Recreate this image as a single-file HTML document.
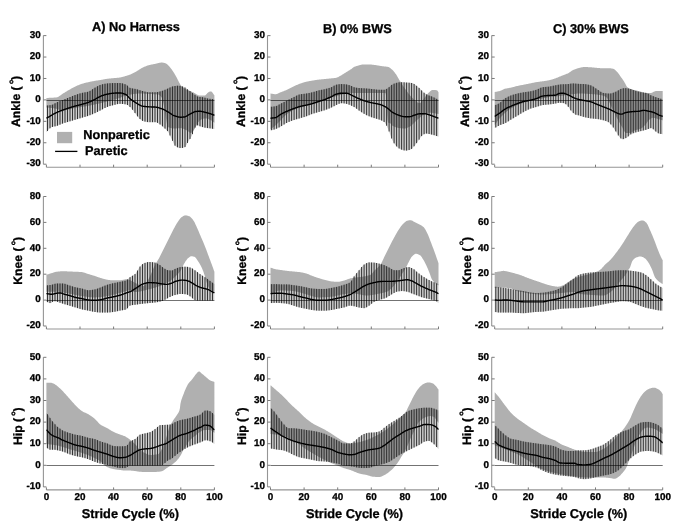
<!DOCTYPE html>
<html><head><meta charset="utf-8"><style>
html,body{margin:0;padding:0;background:#fff;width:685px;height:530px;overflow:hidden}
svg{display:block;will-change:transform}
text{font-family:"Liberation Sans",sans-serif;font-weight:bold;fill:#000;stroke:#000;stroke-width:0.3px;text-rendering:geometricPrecision}
.tl{font-size:9.9px}
.lb{font-size:12.75px}
.yl{font-size:12.2px}
</style></head><body>
<svg width="685" height="530" viewBox="0 0 685 530">
<path d="M46.4,97.98 L46.9,97.96 L47.4,97.93 L47.9,97.9 L48.4,97.88 L48.9,97.86 L49.4,97.84 L49.9,97.81 L50.4,97.79 L50.9,97.77 L51.4,97.75 L51.9,97.72 L52.4,97.7 L52.9,97.67 L53.4,97.64 L53.9,97.61 L54.4,97.57 L54.9,97.53 L55.4,97.48 L55.9,97.43 L56.4,97.38 L56.9,97.31 L57.4,97.18 L57.9,96.98 L58.4,96.74 L58.9,96.45 L59.4,96.12 L59.9,95.77 L60.4,95.4 L60.9,95.02 L61.4,94.64 L61.9,94.27 L62.4,93.92 L62.9,93.6 L63.4,93.3 L63.9,93 L64.4,92.69 L64.9,92.39 L65.4,92.08 L65.9,91.78 L66.4,91.47 L66.9,91.17 L67.4,90.87 L67.9,90.57 L68.4,90.28 L68.9,89.99 L69.4,89.7 L69.9,89.42 L70.4,89.13 L70.9,88.85 L71.4,88.56 L71.9,88.28 L72.4,88 L72.9,87.73 L73.4,87.46 L73.9,87.2 L74.4,86.94 L74.9,86.69 L75.4,86.45 L75.9,86.22 L76.4,86 L76.9,85.77 L77.4,85.55 L77.9,85.34 L78.4,85.13 L78.9,84.92 L79.4,84.73 L79.9,84.53 L80.4,84.35 L80.9,84.17 L81.4,84 L81.9,83.84 L82.4,83.68 L82.9,83.53 L83.4,83.39 L83.9,83.25 L84.4,83.11 L84.9,82.98 L85.4,82.86 L85.9,82.73 L86.4,82.61 L86.9,82.49 L87.4,82.38 L87.9,82.26 L88.4,82.15 L88.9,82.04 L89.4,81.93 L89.9,81.82 L90.4,81.72 L90.9,81.61 L91.4,81.51 L91.9,81.42 L92.4,81.32 L92.9,81.22 L93.4,81.13 L93.9,81.04 L94.4,80.95 L94.9,80.86 L95.4,80.78 L95.9,80.69 L96.4,80.61 L96.9,80.53 L97.4,80.46 L97.9,80.38 L98.4,80.3 L98.9,80.23 L99.4,80.15 L99.9,80.07 L100.4,79.99 L100.9,79.91 L101.4,79.82 L101.9,79.73 L102.4,79.63 L102.9,79.53 L103.4,79.44 L103.9,79.34 L104.4,79.24 L104.9,79.14 L105.4,79.05 L105.9,78.97 L106.4,78.88 L106.9,78.81 L107.4,78.75 L107.9,78.68 L108.4,78.63 L108.9,78.57 L109.4,78.52 L109.9,78.47 L110.4,78.43 L110.9,78.38 L111.4,78.34 L111.9,78.29 L112.4,78.24 L112.9,78.2 L113.4,78.15 L113.9,78.1 L114.4,78.05 L114.9,78.01 L115.4,77.97 L115.9,77.92 L116.4,77.88 L116.9,77.84 L117.4,77.79 L117.9,77.74 L118.4,77.69 L118.9,77.63 L119.4,77.57 L119.9,77.5 L120.4,77.42 L120.9,77.33 L121.4,77.22 L121.9,77.1 L122.4,76.97 L122.9,76.84 L123.4,76.7 L123.9,76.55 L124.4,76.4 L124.9,76.25 L125.4,76.1 L125.9,75.95 L126.4,75.8 L126.9,75.65 L127.4,75.5 L127.9,75.34 L128.4,75.17 L128.9,75 L129.4,74.82 L129.9,74.63 L130.4,74.43 L130.9,74.22 L131.4,74 L131.9,73.76 L132.4,73.52 L132.9,73.27 L133.4,73.01 L133.9,72.75 L134.4,72.48 L134.9,72.21 L135.4,71.94 L135.9,71.67 L136.4,71.39 L136.9,71.11 L137.4,70.81 L137.9,70.5 L138.4,70.18 L138.9,69.86 L139.4,69.54 L139.9,69.22 L140.4,68.91 L140.9,68.6 L141.4,68.3 L141.9,68.02 L142.4,67.76 L142.9,67.52 L143.4,67.28 L143.9,67.05 L144.4,66.82 L144.9,66.6 L145.4,66.38 L145.9,66.17 L146.4,65.97 L146.9,65.78 L147.4,65.6 L147.9,65.43 L148.4,65.27 L148.9,65.13 L149.4,65 L149.9,64.88 L150.4,64.77 L150.9,64.67 L151.4,64.57 L151.9,64.47 L152.4,64.38 L152.9,64.29 L153.4,64.2 L153.9,64.11 L154.4,64.02 L154.9,63.93 L155.4,63.83 L155.9,63.72 L156.4,63.6 L156.9,63.47 L157.4,63.33 L157.9,63.2 L158.4,63.07 L158.9,62.95 L159.4,62.84 L159.9,62.75 L160.4,62.67 L160.9,62.62 L161.4,62.59 L161.9,62.59 L162.4,62.62 L162.9,62.67 L163.4,62.75 L163.9,62.84 L164.4,62.96 L164.9,63.08 L165.4,63.21 L165.9,63.41 L166.4,63.7 L166.9,64.08 L167.4,64.53 L167.9,65.02 L168.4,65.54 L168.9,66.06 L169.4,66.58 L169.9,67.14 L170.4,67.76 L170.9,68.41 L171.4,69.1 L171.9,69.82 L172.4,70.55 L172.9,71.29 L173.4,72.03 L173.9,72.81 L174.4,73.61 L174.9,74.43 L175.4,75.28 L175.9,76.15 L176.4,77.04 L176.9,77.95 L177.4,78.94 L177.9,79.98 L178.4,81.03 L178.9,82.04 L179.4,82.94 L179.9,83.81 L180.4,84.65 L180.9,85.44 L181.4,86.11 L181.9,86.65 L182.4,87.08 L182.9,87.48 L183.4,87.84 L183.9,88.17 L184.4,88.47 L184.9,88.75 L185.4,89.01 L185.9,89.27 L186.4,89.51 L186.9,89.76 L187.4,90 L187.9,90.22 L188.4,90.43 L188.9,90.63 L189.4,90.82 L189.9,91 L190.4,91.18 L190.9,91.37 L191.4,91.55 L191.9,91.74 L192.4,91.94 L192.9,92.15 L193.4,92.37 L193.9,92.63 L194.4,92.92 L194.9,93.24 L195.4,93.57 L195.9,93.9 L196.4,94.23 L196.9,94.53 L197.4,94.81 L197.9,95.06 L198.4,95.25 L198.9,95.38 L199.4,95.45 L199.9,95.45 L200.4,95.45 L200.9,95.45 L201.4,95.45 L201.9,95.45 L202.4,95.45 L202.9,95.45 L203.4,95.45 L203.9,95.45 L204.4,95.45 L204.9,95.41 L205.4,95.17 L205.9,94.75 L206.4,94.23 L206.9,93.66 L207.4,93.11 L207.9,92.63 L208.4,92.3 L208.9,92.05 L209.4,91.82 L209.9,91.61 L210.4,91.47 L210.9,91.41 L211.4,91.53 L211.9,91.92 L212.4,92.5 L212.9,93.2 L213.4,93.95 L213.9,94.7 L214.4,95.36 L214.4,122.75 L213.9,122.38 L213.4,121.99 L212.9,121.6 L212.4,121.22 L211.9,120.86 L211.4,120.54 L210.9,120.26 L210.4,120.01 L209.9,119.75 L209.4,119.49 L208.9,119.24 L208.4,119.01 L207.9,118.81 L207.4,118.64 L206.9,118.5 L206.4,118.42 L205.9,118.39 L205.4,118.4 L204.9,118.45 L204.4,118.52 L203.9,118.62 L203.4,118.74 L202.9,118.88 L202.4,119.04 L201.9,119.22 L201.4,119.41 L200.9,119.62 L200.4,119.88 L199.9,120.28 L199.4,120.79 L198.9,121.39 L198.4,122.06 L197.9,122.77 L197.4,123.52 L196.9,124.28 L196.4,125.23 L195.9,126.34 L195.4,127.47 L194.9,128.49 L194.4,129.27 L193.9,129.97 L193.4,130.66 L192.9,131.32 L192.4,131.9 L191.9,132.39 L191.4,132.73 L190.9,132.91 L190.4,132.89 L189.9,132.7 L189.4,132.37 L188.9,131.97 L188.4,131.52 L187.9,131.08 L187.4,130.69 L186.9,130.39 L186.4,130.15 L185.9,129.9 L185.4,129.65 L184.9,129.4 L184.4,129.17 L183.9,128.94 L183.4,128.74 L182.9,128.55 L182.4,128.4 L181.9,128.27 L181.4,128.18 L180.9,128.13 L180.4,128.12 L179.9,128.13 L179.4,128.16 L178.9,128.19 L178.4,128.23 L177.9,128.27 L177.4,128.31 L176.9,128.36 L176.4,128.4 L175.9,128.44 L175.4,128.47 L174.9,128.49 L174.4,128.5 L173.9,128.5 L173.4,128.47 L172.9,128.44 L172.4,128.38 L171.9,128.3 L171.4,128.21 L170.9,128.09 L170.4,127.95 L169.9,127.79 L169.4,127.61 L168.9,127.41 L168.4,127.18 L167.9,126.92 L167.4,125.87 L166.9,123.64 L166.4,120.67 L165.9,117.38 L165.4,114.19 L164.9,111.5 L164.4,108.82 L163.9,105.97 L163.4,103.21 L162.9,100.77 L162.4,98.91 L161.9,97.85 L161.4,97.14 L160.9,96.5 L160.4,95.94 L159.9,95.46 L159.4,95.08 L158.9,94.78 L158.4,94.58 L157.9,94.49 L157.4,94.43 L156.9,94.38 L156.4,94.33 L155.9,94.29 L155.4,94.25 L154.9,94.22 L154.4,94.2 L153.9,94.17 L153.4,94.15 L152.9,94.13 L152.4,94.11 L151.9,94.09 L151.4,94.07 L150.9,94.05 L150.4,94.02 L149.9,93.99 L149.4,93.97 L148.9,93.93 L148.4,93.9 L147.9,93.87 L147.4,93.84 L146.9,93.8 L146.4,93.77 L145.9,93.74 L145.4,93.71 L144.9,93.67 L144.4,93.64 L143.9,93.62 L143.4,93.59 L142.9,93.57 L142.4,93.55 L141.9,93.53 L141.4,93.52 L140.9,93.51 L140.4,93.5 L139.9,93.5 L139.4,93.51 L138.9,93.52 L138.4,93.54 L137.9,93.57 L137.4,93.6 L136.9,93.64 L136.4,93.68 L135.9,93.73 L135.4,93.79 L134.9,93.85 L134.4,93.91 L133.9,93.98 L133.4,94.06 L132.9,94.13 L132.4,94.21 L131.9,94.3 L131.4,94.38 L130.9,94.47 L130.4,94.56 L129.9,94.65 L129.4,94.74 L128.9,94.83 L128.4,94.93 L127.9,95.02 L127.4,95.13 L126.9,95.25 L126.4,95.39 L125.9,95.54 L125.4,95.7 L124.9,95.87 L124.4,96.06 L123.9,96.25 L123.4,96.44 L122.9,96.64 L122.4,96.84 L121.9,97.05 L121.4,97.25 L120.9,97.45 L120.4,97.65 L119.9,97.84 L119.4,98.03 L118.9,98.21 L118.4,98.37 L117.9,98.53 L117.4,98.68 L116.9,98.83 L116.4,98.98 L115.9,99.13 L115.4,99.27 L114.9,99.41 L114.4,99.55 L113.9,99.69 L113.4,99.83 L112.9,99.97 L112.4,100.1 L111.9,100.23 L111.4,100.37 L110.9,100.5 L110.4,100.63 L109.9,100.76 L109.4,100.89 L108.9,101.02 L108.4,101.14 L107.9,101.27 L107.4,101.4 L106.9,101.52 L106.4,101.65 L105.9,101.77 L105.4,101.9 L104.9,102.03 L104.4,102.15 L103.9,102.28 L103.4,102.4 L102.9,102.53 L102.4,102.65 L101.9,102.78 L101.4,102.9 L100.9,103.03 L100.4,103.15 L99.9,103.27 L99.4,103.4 L98.9,103.52 L98.4,103.64 L97.9,103.76 L97.4,103.88 L96.9,104 L96.4,104.12 L95.9,104.23 L95.4,104.35 L94.9,104.46 L94.4,104.57 L93.9,104.69 L93.4,104.8 L92.9,104.9 L92.4,105.01 L91.9,105.12 L91.4,105.22 L90.9,105.32 L90.4,105.42 L89.9,105.52 L89.4,105.62 L88.9,105.71 L88.4,105.8 L87.9,105.89 L87.4,105.98 L86.9,106.06 L86.4,106.15 L85.9,106.23 L85.4,106.32 L84.9,106.4 L84.4,106.48 L83.9,106.56 L83.4,106.64 L82.9,106.72 L82.4,106.79 L81.9,106.87 L81.4,106.95 L80.9,107.03 L80.4,107.11 L79.9,107.19 L79.4,107.27 L78.9,107.34 L78.4,107.43 L77.9,107.51 L77.4,107.59 L76.9,107.67 L76.4,107.76 L75.9,107.84 L75.4,107.93 L74.9,108.02 L74.4,108.11 L73.9,108.22 L73.4,108.32 L72.9,108.44 L72.4,108.56 L71.9,108.68 L71.4,108.81 L70.9,108.93 L70.4,109.06 L69.9,109.19 L69.4,109.32 L68.9,109.44 L68.4,109.56 L67.9,109.68 L67.4,109.8 L66.9,109.91 L66.4,110.01 L65.9,110.11 L65.4,110.19 L64.9,110.27 L64.4,110.34 L63.9,110.4 L63.4,110.44 L62.9,110.48 L62.4,110.5 L61.9,110.5 L61.4,110.46 L60.9,110.36 L60.4,110.22 L59.9,110.05 L59.4,109.86 L58.9,109.66 L58.4,109.46 L57.9,109.27 L57.4,109.11 L56.9,108.98 L56.4,108.86 L55.9,108.74 L55.4,108.62 L54.9,108.51 L54.4,108.41 L53.9,108.31 L53.4,108.21 L52.9,108.13 L52.4,108.05 L51.9,107.99 L51.4,107.93 L50.9,107.88 L50.4,107.83 L49.9,107.78 L49.4,107.74 L48.9,107.7 L48.4,107.66 L47.9,107.62 L47.4,107.58 L46.9,107.54 L46.4,107.5Z" fill="#b0b0b0"/>
<path d="M46.4,105.57 L46.9,105.52 L47.4,105.47 L47.9,105.42 L48.4,105.36 L48.9,105.31 L49.4,105.26 L49.9,105.2 L50.4,105.13 L50.9,105.06 L51.4,104.97 L51.9,104.86 L52.4,104.69 L52.9,104.48 L53.4,104.23 L53.9,103.95 L54.4,103.66 L54.9,103.36 L55.4,103.06 L55.9,102.78 L56.4,102.52 L56.9,102.29 L57.4,102.08 L57.9,101.87 L58.4,101.66 L58.9,101.46 L59.4,101.26 L59.9,101.07 L60.4,100.88 L60.9,100.68 L61.4,100.49 L61.9,100.3 L62.4,100.1 L62.9,99.91 L63.4,99.71 L63.9,99.51 L64.4,99.31 L64.9,99.11 L65.4,98.91 L65.9,98.71 L66.4,98.51 L66.9,98.31 L67.4,98.11 L67.9,97.91 L68.4,97.71 L68.9,97.51 L69.4,97.31 L69.9,97.1 L70.4,96.9 L70.9,96.69 L71.4,96.48 L71.9,96.27 L72.4,96.06 L72.9,95.86 L73.4,95.65 L73.9,95.46 L74.4,95.26 L74.9,95.08 L75.4,94.9 L75.9,94.72 L76.4,94.56 L76.9,94.39 L77.4,94.23 L77.9,94.06 L78.4,93.91 L78.9,93.75 L79.4,93.61 L79.9,93.46 L80.4,93.32 L80.9,93.19 L81.4,93.06 L81.9,92.93 L82.4,92.82 L82.9,92.72 L83.4,92.62 L83.9,92.54 L84.4,92.45 L84.9,92.37 L85.4,92.29 L85.9,92.2 L86.4,92.11 L86.9,92.01 L87.4,91.89 L87.9,91.76 L88.4,91.62 L88.9,91.43 L89.4,91.2 L89.9,90.93 L90.4,90.63 L90.9,90.31 L91.4,89.98 L91.9,89.63 L92.4,89.28 L92.9,88.93 L93.4,88.59 L93.9,88.27 L94.4,87.97 L94.9,87.7 L95.4,87.41 L95.9,87.13 L96.4,86.84 L96.9,86.56 L97.4,86.27 L97.9,86 L98.4,85.74 L98.9,85.49 L99.4,85.26 L99.9,85.05 L100.4,84.87 L100.9,84.71 L101.4,84.57 L101.9,84.44 L102.4,84.31 L102.9,84.18 L103.4,84.07 L103.9,83.96 L104.4,83.86 L104.9,83.76 L105.4,83.68 L105.9,83.6 L106.4,83.53 L106.9,83.48 L107.4,83.43 L107.9,83.38 L108.4,83.34 L108.9,83.3 L109.4,83.25 L109.9,83.22 L110.4,83.18 L110.9,83.15 L111.4,83.12 L111.9,83.1 L112.4,83.08 L112.9,83.07 L113.4,83.06 L113.9,83.06 L114.4,83.06 L114.9,83.06 L115.4,83.06 L115.9,83.06 L116.4,83.06 L116.9,83.06 L117.4,83.06 L117.9,83.06 L118.4,83.06 L118.9,83.06 L119.4,83.06 L119.9,83.06 L120.4,83.08 L120.9,83.12 L121.4,83.19 L121.9,83.28 L122.4,83.39 L122.9,83.52 L123.4,83.66 L123.9,83.83 L124.4,84 L124.9,84.19 L125.4,84.38 L125.9,84.58 L126.4,84.8 L126.9,85.14 L127.4,85.59 L127.9,86.11 L128.4,86.64 L128.9,87.13 L129.4,87.54 L129.9,87.83 L130.4,88 L130.9,88.14 L131.4,88.26 L131.9,88.36 L132.4,88.45 L132.9,88.54 L133.4,88.62 L133.9,88.69 L134.4,88.77 L134.9,88.85 L135.4,88.94 L135.9,89.04 L136.4,89.15 L136.9,89.28 L137.4,89.42 L137.9,89.57 L138.4,89.73 L138.9,89.89 L139.4,90.05 L139.9,90.22 L140.4,90.38 L140.9,90.54 L141.4,90.69 L141.9,90.83 L142.4,90.97 L142.9,91.09 L143.4,91.22 L143.9,91.35 L144.4,91.49 L144.9,91.62 L145.4,91.75 L145.9,91.87 L146.4,91.98 L146.9,92.08 L147.4,92.17 L147.9,92.23 L148.4,92.27 L148.9,92.29 L149.4,92.29 L149.9,92.29 L150.4,92.29 L150.9,92.29 L151.4,92.29 L151.9,92.29 L152.4,92.29 L152.9,92.29 L153.4,92.29 L153.9,92.29 L154.4,92.29 L154.9,92.29 L155.4,92.29 L155.9,92.27 L156.4,92.23 L156.9,92.17 L157.4,92.09 L157.9,91.99 L158.4,91.88 L158.9,91.76 L159.4,91.63 L159.9,91.5 L160.4,91.36 L160.9,91.22 L161.4,91.09 L161.9,90.95 L162.4,90.8 L162.9,90.63 L163.4,90.44 L163.9,90.25 L164.4,90.04 L164.9,89.83 L165.4,89.61 L165.9,89.39 L166.4,89.17 L166.9,88.94 L167.4,88.73 L167.9,88.52 L168.4,88.3 L168.9,88.07 L169.4,87.82 L169.9,87.57 L170.4,87.32 L170.9,87.08 L171.4,86.86 L171.9,86.66 L172.4,86.5 L172.9,86.37 L173.4,86.27 L173.9,86.18 L174.4,86.09 L174.9,86.01 L175.4,85.93 L175.9,85.86 L176.4,85.81 L176.9,85.76 L177.4,85.73 L177.9,85.72 L178.4,85.72 L178.9,85.75 L179.4,85.8 L179.9,85.87 L180.4,85.95 L180.9,86.05 L181.4,86.16 L181.9,86.28 L182.4,86.41 L182.9,86.54 L183.4,86.69 L183.9,86.89 L184.4,87.14 L184.9,87.43 L185.4,87.76 L185.9,88.1 L186.4,88.47 L186.9,88.84 L187.4,89.21 L187.9,89.57 L188.4,89.92 L188.9,90.28 L189.4,90.65 L189.9,91.03 L190.4,91.42 L190.9,91.81 L191.4,92.2 L191.9,92.59 L192.4,92.96 L192.9,93.32 L193.4,93.67 L193.9,94.03 L194.4,94.41 L194.9,94.79 L195.4,95.17 L195.9,95.53 L196.4,95.87 L196.9,96.17 L197.4,96.42 L197.9,96.61 L198.4,96.74 L198.9,96.83 L199.4,96.9 L199.9,96.97 L200.4,97.02 L200.9,97.07 L201.4,97.11 L201.9,97.16 L202.4,97.22 L202.9,97.28 L203.4,97.36 L203.9,97.45 L204.4,97.57 L204.9,97.71 L205.4,97.85 L205.9,98 L206.4,98.14 L206.9,98.28 L207.4,98.41 L207.9,98.52 L208.4,98.61 L208.9,98.68 L209.4,98.75 L209.9,98.81 L210.4,98.86 L210.9,98.91 L211.4,98.96 L211.9,99 L212.4,99.05 L212.9,99.09 L213.4,99.14 L213.9,99.19 L214.4,99.24 L214.4,129.12 L213.9,129.03 L213.4,128.93 L212.9,128.84 L212.4,128.75 L211.9,128.66 L211.4,128.57 L210.9,128.49 L210.4,128.42 L209.9,128.36 L209.4,128.3 L208.9,128.25 L208.4,128.19 L207.9,128.14 L207.4,128.08 L206.9,128.02 L206.4,127.95 L205.9,127.87 L205.4,127.78 L204.9,127.68 L204.4,127.57 L203.9,127.45 L203.4,127.32 L202.9,127.19 L202.4,127.05 L201.9,126.91 L201.4,126.77 L200.9,126.63 L200.4,126.46 L199.9,126.26 L199.4,126.04 L198.9,125.82 L198.4,125.62 L197.9,125.46 L197.4,125.36 L196.9,125.35 L196.4,125.63 L195.9,126.19 L195.4,126.94 L194.9,127.8 L194.4,128.68 L193.9,129.86 L193.4,131.33 L192.9,132.91 L192.4,134.4 L191.9,135.6 L191.4,136.59 L190.9,137.5 L190.4,138.34 L189.9,139.14 L189.4,139.9 L188.9,140.66 L188.4,141.42 L187.9,142.23 L187.4,143.13 L186.9,144.07 L186.4,145.01 L185.9,145.87 L185.4,146.61 L184.9,147.15 L184.4,147.46 L183.9,147.6 L183.4,147.73 L182.9,147.84 L182.4,147.94 L181.9,148.01 L181.4,148.06 L180.9,148.09 L180.4,148.09 L179.9,148.05 L179.4,147.97 L178.9,147.84 L178.4,147.68 L177.9,147.49 L177.4,147.26 L176.9,147.01 L176.4,146.73 L175.9,146.43 L175.4,146.1 L174.9,145.57 L174.4,144.81 L173.9,143.88 L173.4,142.83 L172.9,141.72 L172.4,140.61 L171.9,139.57 L171.4,138.58 L170.9,137.52 L170.4,136.42 L169.9,135.31 L169.4,134.24 L168.9,133.24 L168.4,132.35 L167.9,131.61 L167.4,130.98 L166.9,130.42 L166.4,129.91 L165.9,129.43 L165.4,128.98 L164.9,128.54 L164.4,128.1 L163.9,127.64 L163.4,127.19 L162.9,126.73 L162.4,126.29 L161.9,125.86 L161.4,125.45 L160.9,125.08 L160.4,124.74 L159.9,124.41 L159.4,124.08 L158.9,123.73 L158.4,123.4 L157.9,123.09 L157.4,122.81 L156.9,122.56 L156.4,122.37 L155.9,122.24 L155.4,122.18 L154.9,122.18 L154.4,122.18 L153.9,122.18 L153.4,122.18 L152.9,122.18 L152.4,122.18 L151.9,122.18 L151.4,122.18 L150.9,122.18 L150.4,122.18 L149.9,122.18 L149.4,122.18 L148.9,122.18 L148.4,122.17 L147.9,122.13 L147.4,122.08 L146.9,122.01 L146.4,121.93 L145.9,121.83 L145.4,121.72 L144.9,121.59 L144.4,121.46 L143.9,121.31 L143.4,121.16 L142.9,121 L142.4,120.82 L141.9,120.57 L141.4,120.25 L140.9,119.87 L140.4,119.43 L139.9,118.95 L139.4,118.44 L138.9,117.91 L138.4,117.37 L137.9,116.83 L137.4,116.28 L136.9,115.69 L136.4,115.03 L135.9,114.34 L135.4,113.63 L134.9,112.92 L134.4,112.23 L133.9,111.57 L133.4,110.94 L132.9,110.3 L132.4,109.66 L131.9,109.04 L131.4,108.44 L130.9,107.88 L130.4,107.37 L129.9,106.92 L129.4,106.49 L128.9,106.07 L128.4,105.66 L127.9,105.28 L127.4,104.96 L126.9,104.7 L126.4,104.52 L125.9,104.43 L125.4,104.34 L124.9,104.26 L124.4,104.19 L123.9,104.12 L123.4,104.06 L122.9,104 L122.4,103.96 L121.9,103.92 L121.4,103.89 L120.9,103.87 L120.4,103.85 L119.9,103.85 L119.4,103.86 L118.9,103.9 L118.4,103.96 L117.9,104.04 L117.4,104.14 L116.9,104.25 L116.4,104.37 L115.9,104.5 L115.4,104.63 L114.9,104.77 L114.4,104.9 L113.9,105.03 L113.4,105.15 L112.9,105.27 L112.4,105.4 L111.9,105.53 L111.4,105.67 L110.9,105.81 L110.4,105.95 L109.9,106.1 L109.4,106.26 L108.9,106.42 L108.4,106.59 L107.9,106.77 L107.4,106.95 L106.9,107.14 L106.4,107.35 L105.9,107.57 L105.4,107.81 L104.9,108.06 L104.4,108.32 L103.9,108.58 L103.4,108.85 L102.9,109.12 L102.4,109.39 L101.9,109.66 L101.4,109.92 L100.9,110.18 L100.4,110.43 L99.9,110.68 L99.4,110.94 L98.9,111.2 L98.4,111.46 L97.9,111.72 L97.4,111.97 L96.9,112.23 L96.4,112.48 L95.9,112.72 L95.4,112.96 L94.9,113.19 L94.4,113.41 L93.9,113.63 L93.4,113.85 L92.9,114.06 L92.4,114.27 L91.9,114.48 L91.4,114.69 L90.9,114.88 L90.4,115.08 L89.9,115.27 L89.4,115.46 L88.9,115.64 L88.4,115.81 L87.9,115.98 L87.4,116.15 L86.9,116.3 L86.4,116.46 L85.9,116.61 L85.4,116.75 L84.9,116.9 L84.4,117.04 L83.9,117.19 L83.4,117.33 L82.9,117.47 L82.4,117.62 L81.9,117.77 L81.4,117.92 L80.9,118.07 L80.4,118.22 L79.9,118.37 L79.4,118.52 L78.9,118.67 L78.4,118.82 L77.9,118.97 L77.4,119.12 L76.9,119.27 L76.4,119.42 L75.9,119.57 L75.4,119.72 L74.9,119.87 L74.4,120.02 L73.9,120.17 L73.4,120.32 L72.9,120.47 L72.4,120.62 L71.9,120.77 L71.4,120.92 L70.9,121.07 L70.4,121.22 L69.9,121.37 L69.4,121.52 L68.9,121.66 L68.4,121.81 L67.9,121.95 L67.4,122.1 L66.9,122.24 L66.4,122.38 L65.9,122.53 L65.4,122.68 L64.9,122.82 L64.4,122.98 L63.9,123.14 L63.4,123.3 L62.9,123.47 L62.4,123.65 L61.9,123.84 L61.4,124.05 L60.9,124.26 L60.4,124.48 L59.9,124.7 L59.4,124.92 L58.9,125.13 L58.4,125.34 L57.9,125.54 L57.4,125.72 L56.9,125.89 L56.4,126.04 L55.9,126.17 L55.4,126.29 L54.9,126.39 L54.4,126.49 L53.9,126.59 L53.4,126.7 L52.9,126.82 L52.4,126.95 L51.9,127.12 L51.4,127.32 L50.9,127.6 L50.4,127.95 L49.9,128.37 L49.4,128.81 L48.9,129.29 L48.4,129.84 L47.9,130.47 L47.4,131.14 L46.9,131.81 L46.4,132.29Z" fill="#000" fill-opacity="0.2"/>
<path d="M47.5,105.46V131.01M50,105.19V128.28M52.5,104.65V126.93M55,103.3V126.37M57.5,102.04V125.69M60,101.03V124.65M62.5,100.06V123.61M65,99.07V122.79M67.5,98.07V122.07M70,97.06V121.34M72.5,96.02V120.59M75,95.04V119.84M77.5,94.19V119.09M80,93.43V118.34M82.5,92.8V117.59M85,92.36V116.87M87.5,91.87V116.11M90,90.87V115.23M92.5,89.21V114.23M95,87.64V113.14M97.5,86.22V111.92M100,85.02V110.63M102.5,84.28V109.34M105,83.75V108.01M107.5,83.42V106.91M110,83.21V106.07M112.5,83.08V105.38M115,83.06V104.74M117.5,83.06V104.12M120,83.06V103.85M122.5,83.41V103.97M125,84.22V104.27M127.5,85.69V105.02M130,87.87V107.01M132.5,88.47V109.79M135,88.87V113.06M137.5,89.45V116.4M140,90.25V119.05M142.5,90.99V120.86M145,91.65V121.62M147.5,92.18V122.09M150,92.29V122.18M152.5,92.29V122.18M155,92.29V122.18M157.5,92.07V122.86M160,91.47V124.48M162.5,90.76V126.37M165,89.78V128.62M167.5,88.69V131.1M170,87.52V135.53M172.5,86.47V140.83M175,85.99V145.7M177.5,85.73V147.31M180,85.88V148.06M182.5,86.44V147.92M185,87.49V147.06M187.5,89.29V142.94M190,91.11V138.98M192.5,93.04V134.12M195,94.87V127.63M197.5,96.46V125.38M200,96.98V126.31M202.5,97.23V127.08M205,97.73V127.7M207.5,98.44V128.09M210,98.82V128.37M212.5,99.06V128.76" stroke="#333333" stroke-width="1" fill="none"/>
<line x1="46.4" y1="100.5" x2="214.4" y2="100.5" stroke="#000" stroke-opacity="0.55" stroke-width="1"/>
<path d="M46.4,118.21 L46.9,118 L47.4,117.71 L47.9,117.42 L48.4,117.13 L48.9,116.83 L49.4,116.53 L49.9,116.24 L50.4,115.94 L50.9,115.64 L51.4,115.35 L51.9,115.05 L52.4,114.76 L52.9,114.48 L53.4,114.19 L53.9,113.92 L54.4,113.65 L54.9,113.38 L55.4,113.12 L55.9,112.87 L56.4,112.63 L56.9,112.4 L57.4,112.18 L57.9,111.96 L58.4,111.75 L58.9,111.54 L59.4,111.34 L59.9,111.14 L60.4,110.95 L60.9,110.76 L61.4,110.57 L61.9,110.39 L62.4,110.2 L62.9,110.02 L63.4,109.83 L63.9,109.65 L64.4,109.48 L64.9,109.3 L65.4,109.13 L65.9,108.96 L66.4,108.79 L66.9,108.62 L67.4,108.45 L67.9,108.29 L68.4,108.13 L68.9,107.97 L69.4,107.81 L69.9,107.65 L70.4,107.49 L70.9,107.34 L71.4,107.18 L71.9,107.03 L72.4,106.88 L72.9,106.73 L73.4,106.58 L73.9,106.43 L74.4,106.29 L74.9,106.15 L75.4,106.01 L75.9,105.87 L76.4,105.73 L76.9,105.6 L77.4,105.47 L77.9,105.34 L78.4,105.22 L78.9,105.09 L79.4,104.97 L79.9,104.84 L80.4,104.71 L80.9,104.58 L81.4,104.45 L81.9,104.31 L82.4,104.17 L82.9,104.04 L83.4,103.9 L83.9,103.76 L84.4,103.62 L84.9,103.48 L85.4,103.33 L85.9,103.19 L86.4,103.03 L86.9,102.87 L87.4,102.71 L87.9,102.54 L88.4,102.36 L88.9,102.17 L89.4,101.96 L89.9,101.75 L90.4,101.53 L90.9,101.3 L91.4,101.07 L91.9,100.83 L92.4,100.59 L92.9,100.34 L93.4,100.09 L93.9,99.84 L94.4,99.59 L94.9,99.34 L95.4,99.07 L95.9,98.79 L96.4,98.5 L96.9,98.21 L97.4,97.91 L97.9,97.62 L98.4,97.33 L98.9,97.05 L99.4,96.78 L99.9,96.53 L100.4,96.3 L100.9,96.09 L101.4,95.9 L101.9,95.72 L102.4,95.54 L102.9,95.37 L103.4,95.21 L103.9,95.05 L104.4,94.9 L104.9,94.76 L105.4,94.62 L105.9,94.49 L106.4,94.37 L106.9,94.26 L107.4,94.15 L107.9,94.05 L108.4,93.95 L108.9,93.85 L109.4,93.75 L109.9,93.66 L110.4,93.57 L110.9,93.49 L111.4,93.41 L111.9,93.34 L112.4,93.28 L112.9,93.23 L113.4,93.19 L113.9,93.16 L114.4,93.12 L114.9,93.09 L115.4,93.07 L115.9,93.04 L116.4,93.01 L116.9,92.99 L117.4,92.97 L117.9,92.96 L118.4,92.94 L118.9,92.93 L119.4,92.93 L119.9,92.92 L120.4,92.94 L120.9,92.99 L121.4,93.07 L121.9,93.17 L122.4,93.3 L122.9,93.44 L123.4,93.61 L123.9,93.8 L124.4,94 L124.9,94.21 L125.4,94.44 L125.9,94.67 L126.4,94.93 L126.9,95.29 L127.4,95.77 L127.9,96.31 L128.4,96.9 L128.9,97.49 L129.4,98.04 L129.9,98.53 L130.4,98.94 L130.9,99.35 L131.4,99.74 L131.9,100.12 L132.4,100.48 L132.9,100.84 L133.4,101.19 L133.9,101.53 L134.4,101.86 L134.9,102.18 L135.4,102.49 L135.9,102.79 L136.4,103.08 L136.9,103.38 L137.4,103.69 L137.9,104 L138.4,104.31 L138.9,104.61 L139.4,104.9 L139.9,105.17 L140.4,105.43 L140.9,105.66 L141.4,105.86 L141.9,106.02 L142.4,106.15 L142.9,106.24 L143.4,106.32 L143.9,106.39 L144.4,106.45 L144.9,106.51 L145.4,106.56 L145.9,106.61 L146.4,106.65 L146.9,106.69 L147.4,106.73 L147.9,106.76 L148.4,106.8 L148.9,106.83 L149.4,106.85 L149.9,106.88 L150.4,106.89 L150.9,106.91 L151.4,106.93 L151.9,106.94 L152.4,106.95 L152.9,106.97 L153.4,106.99 L153.9,107.01 L154.4,107.03 L154.9,107.06 L155.4,107.09 L155.9,107.14 L156.4,107.21 L156.9,107.31 L157.4,107.41 L157.9,107.54 L158.4,107.67 L158.9,107.82 L159.4,107.98 L159.9,108.14 L160.4,108.31 L160.9,108.48 L161.4,108.65 L161.9,108.83 L162.4,109.02 L162.9,109.23 L163.4,109.46 L163.9,109.7 L164.4,109.95 L164.9,110.21 L165.4,110.48 L165.9,110.75 L166.4,111.03 L166.9,111.31 L167.4,111.59 L167.9,111.86 L168.4,112.15 L168.9,112.46 L169.4,112.78 L169.9,113.12 L170.4,113.46 L170.9,113.8 L171.4,114.14 L171.9,114.47 L172.4,114.78 L172.9,115.06 L173.4,115.32 L173.9,115.54 L174.4,115.73 L174.9,115.9 L175.4,116.07 L175.9,116.24 L176.4,116.4 L176.9,116.56 L177.4,116.7 L177.9,116.83 L178.4,116.95 L178.9,117.04 L179.4,117.12 L179.9,117.17 L180.4,117.19 L180.9,117.19 L181.4,117.18 L181.9,117.16 L182.4,117.13 L182.9,117.09 L183.4,117.05 L183.9,117 L184.4,116.94 L184.9,116.84 L185.4,116.68 L185.9,116.47 L186.4,116.21 L186.9,115.92 L187.4,115.61 L187.9,115.3 L188.4,114.99 L188.9,114.7 L189.4,114.43 L189.9,114.19 L190.4,113.92 L190.9,113.64 L191.4,113.35 L191.9,113.06 L192.4,112.78 L192.9,112.51 L193.4,112.26 L193.9,112.03 L194.4,111.84 L194.9,111.68 L195.4,111.56 L195.9,111.49 L196.4,111.44 L196.9,111.39 L197.4,111.35 L197.9,111.31 L198.4,111.28 L198.9,111.26 L199.4,111.26 L199.9,111.26 L200.4,111.29 L200.9,111.35 L201.4,111.42 L201.9,111.52 L202.4,111.62 L202.9,111.74 L203.4,111.87 L203.9,112 L204.4,112.13 L204.9,112.27 L205.4,112.4 L205.9,112.52 L206.4,112.65 L206.9,112.77 L207.4,112.9 L207.9,113.04 L208.4,113.18 L208.9,113.32 L209.4,113.47 L209.9,113.63 L210.4,113.79 L210.9,113.95 L211.4,114.13 L211.9,114.3 L212.4,114.49 L212.9,114.7 L213.4,114.93 L213.9,115.16 L214.4,115.39" stroke="#000" stroke-width="1.4" fill="none" stroke-linejoin="round"/>
<path d="M43.4,35.61V164.19" stroke="#959595" stroke-width="1.1" fill="none"/>
<path d="M43.4,35.61h3M43.4,57.04h3M43.4,78.47h3M43.4,99.9h3M43.4,121.33h3M43.4,142.76h3M43.4,164.19h3" stroke="#7a7a7a" stroke-width="1" fill="none"/>
<path d="M46.4,167.19H214.4" stroke="#959595" stroke-width="1.1" fill="none"/>
<path d="M46.4,167.19v-2.5M80,167.19v-2.5M113.6,167.19v-2.5M147.2,167.19v-2.5M180.8,167.19v-2.5M214.4,167.19v-2.5" stroke="#7a7a7a" stroke-width="1" fill="none"/>
<text x="40.8" y="37.81" class="tl" text-anchor="end">30</text>
<text x="40.8" y="59.24" class="tl" text-anchor="end">20</text>
<text x="40.8" y="80.67" class="tl" text-anchor="end">10</text>
<text x="40.8" y="102.1" class="tl" text-anchor="end">0</text>
<text x="40.8" y="123.53" class="tl" text-anchor="end">-10</text>
<text x="40.8" y="144.96" class="tl" text-anchor="end">-20</text>
<text x="40.8" y="166.39" class="tl" text-anchor="end">-30</text>
<text transform="translate(20.3,127) rotate(-90)" class="yl">Ankle (<tspan dx="2.0" dy="-2.2">&#176;</tspan><tspan dx="-0.5" dy="2.2">)</tspan></text>
<path d="M270.5,93.56 L271,93.59 L271.5,93.66 L272,93.75 L272.5,93.83 L273,93.92 L273.5,94 L274,94.07 L274.5,94.13 L275,94.17 L275.5,94.19 L276,94.16 L276.5,94.08 L277,93.94 L277.5,93.75 L278,93.54 L278.5,93.3 L279,93.05 L279.5,92.81 L280,92.57 L280.5,92.35 L281,92.16 L281.5,91.96 L282,91.77 L282.5,91.58 L283,91.39 L283.5,91.19 L284,91 L284.5,90.8 L285,90.6 L285.5,90.39 L286,90.18 L286.5,89.97 L287,89.75 L287.5,89.52 L288,89.29 L288.5,89.04 L289,88.79 L289.5,88.53 L290,88.27 L290.5,88.01 L291,87.75 L291.5,87.49 L292,87.24 L292.5,86.99 L293,86.74 L293.5,86.51 L294,86.27 L294.5,86.04 L295,85.8 L295.5,85.57 L296,85.34 L296.5,85.12 L297,84.89 L297.5,84.68 L298,84.46 L298.5,84.26 L299,84.06 L299.5,83.87 L300,83.68 L300.5,83.5 L301,83.32 L301.5,83.14 L302,82.96 L302.5,82.79 L303,82.63 L303.5,82.47 L304,82.32 L304.5,82.17 L305,82.03 L305.5,81.91 L306,81.79 L306.5,81.68 L307,81.57 L307.5,81.47 L308,81.38 L308.5,81.29 L309,81.2 L309.5,81.12 L310,81.03 L310.5,80.95 L311,80.87 L311.5,80.79 L312,80.71 L312.5,80.62 L313,80.54 L313.5,80.45 L314,80.36 L314.5,80.28 L315,80.19 L315.5,80.11 L316,80.03 L316.5,79.95 L317,79.87 L317.5,79.8 L318,79.73 L318.5,79.66 L319,79.6 L319.5,79.54 L320,79.49 L320.5,79.44 L321,79.39 L321.5,79.34 L322,79.29 L322.5,79.25 L323,79.2 L323.5,79.15 L324,79.11 L324.5,79.06 L325,79.01 L325.5,78.96 L326,78.91 L326.5,78.86 L327,78.82 L327.5,78.77 L328,78.72 L328.5,78.67 L329,78.62 L329.5,78.57 L330,78.52 L330.5,78.47 L331,78.41 L331.5,78.36 L332,78.31 L332.5,78.26 L333,78.21 L333.5,78.16 L334,78.1 L334.5,78.04 L335,77.97 L335.5,77.9 L336,77.81 L336.5,77.71 L337,77.56 L337.5,77.37 L338,77.15 L338.5,76.89 L339,76.62 L339.5,76.32 L340,76.02 L340.5,75.72 L341,75.43 L341.5,75.14 L342,74.86 L342.5,74.56 L343,74.25 L343.5,73.93 L344,73.61 L344.5,73.29 L345,72.97 L345.5,72.64 L346,72.33 L346.5,72.01 L347,71.7 L347.5,71.4 L348,71.1 L348.5,70.79 L349,70.49 L349.5,70.18 L350,69.87 L350.5,69.55 L351,69.22 L351.5,68.89 L352,68.5 L352.5,68.09 L353,67.67 L353.5,67.3 L354,67.01 L354.5,66.79 L355,66.59 L355.5,66.42 L356,66.26 L356.5,66.11 L357,65.97 L357.5,65.83 L358,65.68 L358.5,65.53 L359,65.36 L359.5,65.2 L360,65.03 L360.5,64.88 L361,64.74 L361.5,64.63 L362,64.54 L362.5,64.49 L363,64.48 L363.5,64.48 L364,64.48 L364.5,64.48 L365,64.48 L365.5,64.48 L366,64.48 L366.5,64.48 L367,64.48 L367.5,64.48 L368,64.48 L368.5,64.48 L369,64.48 L369.5,64.48 L370,64.5 L370.5,64.53 L371,64.56 L371.5,64.61 L372,64.66 L372.5,64.72 L373,64.78 L373.5,64.85 L374,64.92 L374.5,64.98 L375,65.05 L375.5,65.11 L376,65.18 L376.5,65.25 L377,65.32 L377.5,65.4 L378,65.49 L378.5,65.57 L379,65.66 L379.5,65.74 L380,65.83 L380.5,65.91 L381,66 L381.5,66.08 L382,66.15 L382.5,66.22 L383,66.28 L383.5,66.33 L384,66.39 L384.5,66.44 L385,66.49 L385.5,66.55 L386,66.62 L386.5,66.69 L387,66.77 L387.5,66.86 L388,66.97 L388.5,67.12 L389,67.33 L389.5,67.62 L390,67.96 L390.5,68.33 L391,68.74 L391.5,69.16 L392,69.59 L392.5,70.05 L393,70.55 L393.5,71.11 L394,71.7 L394.5,72.32 L395,72.97 L395.5,73.64 L396,74.34 L396.5,75.1 L397,75.93 L397.5,76.79 L398,77.67 L398.5,78.55 L399,79.41 L399.5,80.24 L400,81.03 L400.5,81.82 L401,82.61 L401.5,83.4 L402,84.18 L402.5,84.95 L403,85.72 L403.5,86.47 L404,87.22 L404.5,87.95 L405,88.67 L405.5,89.37 L406,90.06 L406.5,90.73 L407,91.4 L407.5,92.07 L408,92.73 L408.5,93.39 L409,94.04 L409.5,94.67 L410,95.29 L410.5,95.89 L411,96.47 L411.5,97.02 L412,97.55 L412.5,98.04 L413,98.5 L413.5,98.95 L414,99.42 L414.5,99.89 L415,100.37 L415.5,100.83 L416,101.27 L416.5,101.69 L417,102.07 L417.5,102.4 L418,102.68 L418.5,102.89 L419,103.04 L419.5,103.1 L420,103.04 L420.5,102.79 L421,102.39 L421.5,101.87 L422,101.25 L422.5,100.56 L423,99.83 L423.5,99.09 L424,98.36 L424.5,97.69 L425,97.08 L425.5,96.48 L426,95.85 L426.5,95.21 L427,94.58 L427.5,93.96 L428,93.39 L428.5,92.87 L429,92.41 L429.5,91.97 L430,91.51 L430.5,91.07 L431,90.67 L431.5,90.33 L432,90.07 L432.5,89.93 L433,89.9 L433.5,89.91 L434,89.94 L434.5,89.97 L435,90.02 L435.5,90.08 L436,90.15 L436.5,90.24 L437,90.37 L437.5,90.8 L438,91.45 L438.5,92.14 L438.5,113.96 L438,113.89 L437.5,113.8 L437,113.71 L436.5,113.62 L436,113.52 L435.5,113.42 L435,113.33 L434.5,113.23 L434,113.14 L433.5,113.05 L433,112.97 L432.5,112.9 L432,112.83 L431.5,112.78 L431,112.74 L430.5,112.71 L430,112.7 L429.5,112.71 L429,112.75 L428.5,112.83 L428,112.93 L427.5,113.05 L427,113.2 L426.5,113.36 L426,113.53 L425.5,113.71 L425,113.9 L424.5,114.1 L424,114.36 L423.5,114.67 L423,115.03 L422.5,115.42 L422,115.83 L421.5,116.26 L421,116.7 L420.5,117.14 L420,117.56 L419.5,117.97 L419,118.38 L418.5,118.8 L418,119.22 L417.5,119.65 L417,120.09 L416.5,120.54 L416,120.99 L415.5,121.44 L415,121.9 L414.5,122.38 L414,122.9 L413.5,123.46 L413,124.02 L412.5,124.58 L412,125.1 L411.5,125.55 L411,125.92 L410.5,126.22 L410,126.51 L409.5,126.8 L409,127.08 L408.5,127.34 L408,127.59 L407.5,127.81 L407,128.01 L406.5,128.19 L406,128.32 L405.5,128.42 L405,128.48 L404.5,128.5 L404,128.49 L403.5,128.48 L403,128.45 L402.5,128.41 L402,128.37 L401.5,128.32 L401,128.26 L400.5,128.2 L400,128.13 L399.5,128.06 L399,127.98 L398.5,127.91 L398,127.82 L397.5,127.73 L397,127.62 L396.5,127.49 L396,127.34 L395.5,127.17 L395,126.98 L394.5,126.77 L394,126.54 L393.5,126.29 L393,126.01 L392.5,125.71 L392,125.38 L391.5,124.83 L391,124.06 L390.5,123.53 L390,123.27 L389.5,123.1 L389,122.94 L388.5,122.73 L388,122.39 L387.5,119.65 L387,111.88 L386.5,102.5 L386,95.07 L385.5,92.92 L385,92.92 L384.5,92.92 L384,92.92 L383.5,92.92 L383,92.92 L382.5,92.92 L382,92.92 L381.5,92.92 L381,92.92 L380.5,92.92 L380,92.92 L379.5,92.92 L379,92.92 L378.5,92.92 L378,92.92 L377.5,92.92 L377,92.92 L376.5,92.92 L376,92.92 L375.5,92.92 L375,92.92 L374.5,92.92 L374,92.92 L373.5,92.92 L373,92.92 L372.5,92.92 L372,92.92 L371.5,92.92 L371,92.92 L370.5,92.92 L370,92.92 L369.5,92.92 L369,92.92 L368.5,92.92 L368,92.92 L367.5,92.92 L367,92.92 L366.5,92.92 L366,92.92 L365.5,92.92 L365,92.92 L364.5,92.92 L364,92.92 L363.5,92.92 L363,92.92 L362.5,92.92 L362,92.92 L361.5,92.92 L361,92.92 L360.5,92.92 L360,92.92 L359.5,92.92 L359,92.92 L358.5,92.92 L358,92.92 L357.5,92.92 L357,92.92 L356.5,92.92 L356,92.92 L355.5,92.92 L355,92.92 L354.5,92.92 L354,92.92 L353.5,92.93 L353,92.94 L352.5,92.96 L352,92.98 L351.5,93.01 L351,93.05 L350.5,93.09 L350,93.14 L349.5,93.19 L349,93.25 L348.5,93.31 L348,93.38 L347.5,93.46 L347,93.54 L346.5,93.62 L346,93.71 L345.5,93.8 L345,93.9 L344.5,94 L344,94.1 L343.5,94.21 L343,94.32 L342.5,94.44 L342,94.56 L341.5,94.68 L341,94.8 L340.5,94.93 L340,95.06 L339.5,95.19 L339,95.32 L338.5,95.46 L338,95.59 L337.5,95.73 L337,95.87 L336.5,96.01 L336,96.15 L335.5,96.3 L335,96.44 L334.5,96.59 L334,96.73 L333.5,96.87 L333,97.02 L332.5,97.16 L332,97.31 L331.5,97.45 L331,97.6 L330.5,97.76 L330,97.94 L329.5,98.14 L329,98.35 L328.5,98.56 L328,98.78 L327.5,99 L327,99.22 L326.5,99.44 L326,99.65 L325.5,99.84 L325,100.03 L324.5,100.2 L324,100.36 L323.5,100.52 L323,100.67 L322.5,100.82 L322,100.97 L321.5,101.11 L321,101.25 L320.5,101.4 L320,101.54 L319.5,101.68 L319,101.83 L318.5,101.98 L318,102.13 L317.5,102.28 L317,102.43 L316.5,102.58 L316,102.73 L315.5,102.88 L315,103.03 L314.5,103.18 L314,103.33 L313.5,103.48 L313,103.63 L312.5,103.78 L312,103.93 L311.5,104.08 L311,104.23 L310.5,104.38 L310,104.53 L309.5,104.68 L309,104.83 L308.5,104.98 L308,105.13 L307.5,105.28 L307,105.43 L306.5,105.58 L306,105.73 L305.5,105.88 L305,106.02 L304.5,106.17 L304,106.31 L303.5,106.45 L303,106.6 L302.5,106.74 L302,106.89 L301.5,107.04 L301,107.19 L300.5,107.35 L300,107.51 L299.5,107.68 L299,107.86 L298.5,108.03 L298,108.21 L297.5,108.4 L297,108.59 L296.5,108.78 L296,108.98 L295.5,109.18 L295,109.4 L294.5,109.61 L294,109.84 L293.5,110.07 L293,110.31 L292.5,110.56 L292,110.82 L291.5,111.08 L291,111.35 L290.5,111.64 L290,111.93 L289.5,112.24 L289,112.55 L288.5,112.88 L288,113.22 L287.5,113.57 L287,113.94 L286.5,114.33 L286,114.76 L285.5,115.22 L285,115.7 L284.5,116.2 L284,116.72 L283.5,117.25 L283,117.79 L282.5,118.33 L282,118.87 L281.5,119.41 L281,119.93 L280.5,120.43 L280,120.94 L279.5,121.45 L279,121.97 L278.5,122.49 L278,123.01 L277.5,123.52 L277,124.02 L276.5,124.5 L276,124.97 L275.5,125.42 L275,125.85 L274.5,126.26 L274,126.66 L273.5,127.05 L273,127.43 L272.5,127.81 L272,128.19 L271.5,128.57 L271,128.96 L270.5,129.13Z" fill="#b0b0b0"/>
<path d="M270.5,106.83 L271,106.8 L271.5,106.74 L272,106.69 L272.5,106.63 L273,106.58 L273.5,106.52 L274,106.46 L274.5,106.39 L275,106.31 L275.5,106.22 L276,106.09 L276.5,105.92 L277,105.71 L277.5,105.46 L278,105.19 L278.5,104.9 L279,104.6 L279.5,104.3 L280,104.01 L280.5,103.74 L281,103.49 L281.5,103.24 L282,102.99 L282.5,102.74 L283,102.49 L283.5,102.24 L284,101.99 L284.5,101.74 L285,101.49 L285.5,101.24 L286,100.99 L286.5,100.74 L287,100.49 L287.5,100.24 L288,99.99 L288.5,99.74 L289,99.49 L289.5,99.23 L290,98.98 L290.5,98.73 L291,98.48 L291.5,98.23 L292,97.98 L292.5,97.73 L293,97.49 L293.5,97.25 L294,97 L294.5,96.73 L295,96.46 L295.5,96.19 L296,95.93 L296.5,95.66 L297,95.41 L297.5,95.18 L298,94.96 L298.5,94.77 L299,94.6 L299.5,94.47 L300,94.36 L300.5,94.27 L301,94.19 L301.5,94.12 L302,94.05 L302.5,93.99 L303,93.93 L303.5,93.88 L304,93.82 L304.5,93.76 L305,93.7 L305.5,93.63 L306,93.55 L306.5,93.46 L307,93.38 L307.5,93.29 L308,93.2 L308.5,93.1 L309,93 L309.5,92.9 L310,92.8 L310.5,92.69 L311,92.58 L311.5,92.47 L312,92.36 L312.5,92.23 L313,92.1 L313.5,91.96 L314,91.81 L314.5,91.65 L315,91.48 L315.5,91.32 L316,91.16 L316.5,90.99 L317,90.84 L317.5,90.69 L318,90.55 L318.5,90.42 L319,90.3 L319.5,90.19 L320,90.09 L320.5,89.99 L321,89.9 L321.5,89.81 L322,89.72 L322.5,89.63 L323,89.54 L323.5,89.44 L324,89.34 L324.5,89.23 L325,89.11 L325.5,88.99 L326,88.86 L326.5,88.73 L327,88.6 L327.5,88.46 L328,88.32 L328.5,88.17 L329,88.01 L329.5,87.85 L330,87.68 L330.5,87.51 L331,87.32 L331.5,87.13 L332,86.89 L332.5,86.62 L333,86.32 L333.5,86.02 L334,85.72 L334.5,85.43 L335,85.17 L335.5,84.95 L336,84.78 L336.5,84.67 L337,84.57 L337.5,84.48 L338,84.39 L338.5,84.31 L339,84.24 L339.5,84.18 L340,84.13 L340.5,84.1 L341,84.08 L341.5,84.08 L342,84.08 L342.5,84.1 L343,84.13 L343.5,84.16 L344,84.2 L344.5,84.24 L345,84.29 L345.5,84.35 L346,84.41 L346.5,84.47 L347,84.54 L347.5,84.64 L348,84.77 L348.5,84.91 L349,85.06 L349.5,85.23 L350,85.41 L350.5,85.6 L351,85.79 L351.5,85.98 L352,86.22 L352.5,86.51 L353,86.8 L353.5,87.06 L354,87.24 L354.5,87.35 L355,87.45 L355.5,87.55 L356,87.63 L356.5,87.71 L357,87.78 L357.5,87.84 L358,87.9 L358.5,87.95 L359,88 L359.5,88.05 L360,88.09 L360.5,88.14 L361,88.17 L361.5,88.21 L362,88.24 L362.5,88.27 L363,88.29 L363.5,88.32 L364,88.34 L364.5,88.37 L365,88.4 L365.5,88.42 L366,88.45 L366.5,88.49 L367,88.53 L367.5,88.57 L368,88.61 L368.5,88.66 L369,88.71 L369.5,88.76 L370,88.82 L370.5,88.87 L371,88.92 L371.5,88.98 L372,89.03 L372.5,89.08 L373,89.14 L373.5,89.19 L374,89.25 L374.5,89.31 L375,89.38 L375.5,89.45 L376,89.51 L376.5,89.57 L377,89.63 L377.5,89.68 L378,89.72 L378.5,89.75 L379,89.76 L379.5,89.76 L380,89.76 L380.5,89.76 L381,89.76 L381.5,89.76 L382,89.76 L382.5,89.76 L383,89.76 L383.5,89.76 L384,89.76 L384.5,89.76 L385,89.67 L385.5,89.5 L386,89.26 L386.5,88.96 L387,88.63 L387.5,88.29 L388,87.96 L388.5,87.63 L389,87.23 L389.5,86.78 L390,86.3 L390.5,85.83 L391,85.39 L391.5,84.99 L392,84.67 L392.5,84.4 L393,84.14 L393.5,83.89 L394,83.67 L394.5,83.46 L395,83.28 L395.5,83.13 L396,83 L396.5,82.87 L397,82.74 L397.5,82.63 L398,82.52 L398.5,82.42 L399,82.33 L399.5,82.26 L400,82.21 L400.5,82.18 L401,82.18 L401.5,82.19 L402,82.2 L402.5,82.22 L403,82.25 L403.5,82.28 L404,82.31 L404.5,82.35 L405,82.39 L405.5,82.43 L406,82.47 L406.5,82.51 L407,82.55 L407.5,82.59 L408,82.62 L408.5,82.66 L409,82.69 L409.5,82.73 L410,82.78 L410.5,82.83 L411,82.89 L411.5,82.96 L412,83.03 L412.5,83.14 L413,83.33 L413.5,83.59 L414,83.91 L414.5,84.26 L415,84.63 L415.5,85 L416,85.36 L416.5,85.72 L417,86.11 L417.5,86.51 L418,86.93 L418.5,87.37 L419,87.81 L419.5,88.26 L420,88.72 L420.5,89.21 L421,89.74 L421.5,90.27 L422,90.81 L422.5,91.32 L423,91.81 L423.5,92.24 L424,92.64 L424.5,93.02 L425,93.39 L425.5,93.74 L426,94.06 L426.5,94.36 L427,94.64 L427.5,94.89 L428,95.11 L428.5,95.32 L429,95.5 L429.5,95.67 L430,95.84 L430.5,96.01 L431,96.18 L431.5,96.35 L432,96.55 L432.5,96.76 L433,96.98 L433.5,97.22 L434,97.47 L434.5,97.73 L435,97.99 L435.5,98.26 L436,98.53 L436.5,98.81 L437,99.08 L437.5,99.35 L438,99.62 L438.5,99.88 L438.5,136.72 L438,136.54 L437.5,136.35 L437,136.17 L436.5,135.98 L436,135.8 L435.5,135.63 L435,135.47 L434.5,135.32 L434,135.18 L433.5,135.04 L433,134.91 L432.5,134.78 L432,134.66 L431.5,134.54 L431,134.42 L430.5,134.32 L430,134.21 L429.5,134.11 L429,134 L428.5,133.89 L428,133.78 L427.5,133.69 L427,133.62 L426.5,133.57 L426,133.56 L425.5,133.62 L425,133.77 L424.5,133.99 L424,134.27 L423.5,134.59 L423,134.94 L422.5,135.3 L422,135.69 L421.5,136.21 L421,136.84 L420.5,137.54 L420,138.29 L419.5,139.06 L419,139.81 L418.5,140.51 L418,141.19 L417.5,141.88 L417,142.58 L416.5,143.27 L416,143.95 L415.5,144.6 L415,145.22 L414.5,145.8 L414,146.4 L413.5,147.01 L413,147.59 L412.5,148.14 L412,148.63 L411.5,149.03 L411,149.32 L410.5,149.53 L410,149.72 L409.5,149.9 L409,150.07 L408.5,150.22 L408,150.35 L407.5,150.46 L407,150.54 L406.5,150.6 L406,150.62 L405.5,150.61 L405,150.57 L404.5,150.5 L404,150.4 L403.5,150.28 L403,150.13 L402.5,149.97 L402,149.8 L401.5,149.62 L401,149.44 L400.5,149.24 L400,149.01 L399.5,148.73 L399,148.42 L398.5,148.07 L398,147.68 L397.5,147.27 L397,146.82 L396.5,146.34 L396,145.84 L395.5,145.31 L395,144.68 L394.5,143.96 L394,143.15 L393.5,142.28 L393,141.35 L392.5,140.38 L392,139.37 L391.5,138.26 L391,136.98 L390.5,135.58 L390,134.12 L389.5,132.65 L389,131.24 L388.5,129.95 L388,128.81 L387.5,127.7 L387,126.59 L386.5,125.52 L386,124.52 L385.5,123.63 L385,122.88 L384.5,122.31 L384,121.91 L383.5,121.56 L383,121.25 L382.5,120.97 L382,120.73 L381.5,120.5 L381,120.3 L380.5,120.1 L380,119.91 L379.5,119.73 L379,119.54 L378.5,119.37 L378,119.21 L377.5,119.06 L377,118.91 L376.5,118.77 L376,118.64 L375.5,118.5 L375,118.37 L374.5,118.23 L374,118.08 L373.5,117.93 L373,117.76 L372.5,117.59 L372,117.42 L371.5,117.24 L371,117.05 L370.5,116.87 L370,116.67 L369.5,116.48 L369,116.27 L368.5,116.06 L368,115.85 L367.5,115.62 L367,115.39 L366.5,115.16 L366,114.9 L365.5,114.64 L365,114.36 L364.5,114.07 L364,113.78 L363.5,113.47 L363,113.16 L362.5,112.84 L362,112.52 L361.5,112.2 L361,111.87 L360.5,111.55 L360,111.22 L359.5,110.88 L359,110.52 L358.5,110.16 L358,109.79 L357.5,109.41 L357,109.04 L356.5,108.67 L356,108.31 L355.5,107.96 L355,107.62 L354.5,107.31 L354,107.01 L353.5,106.73 L353,106.47 L352.5,106.22 L352,105.98 L351.5,105.76 L351,105.54 L350.5,105.31 L350,105.09 L349.5,104.87 L349,104.66 L348.5,104.47 L348,104.28 L347.5,104.12 L347,103.98 L346.5,103.87 L346,103.77 L345.5,103.68 L345,103.59 L344.5,103.51 L344,103.43 L343.5,103.36 L343,103.31 L342.5,103.26 L342,103.23 L341.5,103.22 L341,103.24 L340.5,103.32 L340,103.46 L339.5,103.64 L339,103.85 L338.5,104.08 L338,104.3 L337.5,104.5 L337,104.71 L336.5,104.94 L336,105.18 L335.5,105.44 L335,105.7 L334.5,105.97 L334,106.24 L333.5,106.51 L333,106.77 L332.5,107.03 L332,107.28 L331.5,107.52 L331,107.75 L330.5,107.97 L330,108.18 L329.5,108.4 L329,108.61 L328.5,108.81 L328,109.02 L327.5,109.21 L327,109.41 L326.5,109.6 L326,109.78 L325.5,109.96 L325,110.14 L324.5,110.31 L324,110.47 L323.5,110.63 L323,110.78 L322.5,110.93 L322,111.08 L321.5,111.22 L321,111.37 L320.5,111.51 L320,111.65 L319.5,111.8 L319,111.94 L318.5,112.09 L318,112.24 L317.5,112.39 L317,112.53 L316.5,112.67 L316,112.82 L315.5,112.96 L315,113.1 L314.5,113.25 L314,113.4 L313.5,113.56 L313,113.72 L312.5,113.88 L312,114.05 L311.5,114.24 L311,114.43 L310.5,114.64 L310,114.84 L309.5,115.06 L309,115.27 L308.5,115.48 L308,115.7 L307.5,115.9 L307,116.1 L306.5,116.29 L306,116.47 L305.5,116.64 L305,116.8 L304.5,116.96 L304,117.11 L303.5,117.26 L303,117.41 L302.5,117.55 L302,117.7 L301.5,117.84 L301,117.98 L300.5,118.13 L300,118.27 L299.5,118.42 L299,118.57 L298.5,118.71 L298,118.86 L297.5,119 L297,119.14 L296.5,119.29 L296,119.43 L295.5,119.58 L295,119.73 L294.5,119.89 L294,120.05 L293.5,120.21 L293,120.38 L292.5,120.56 L292,120.74 L291.5,120.92 L291,121.1 L290.5,121.3 L290,121.49 L289.5,121.69 L289,121.9 L288.5,122.11 L288,122.33 L287.5,122.56 L287,122.8 L286.5,123.05 L286,123.32 L285.5,123.6 L285,123.9 L284.5,124.22 L284,124.53 L283.5,124.86 L283,125.18 L282.5,125.5 L282,125.81 L281.5,126.12 L281,126.41 L280.5,126.68 L280,126.96 L279.5,127.24 L279,127.52 L278.5,127.79 L278,128.06 L277.5,128.31 L277,128.55 L276.5,128.78 L276,128.98 L275.5,129.16 L275,129.32 L274.5,129.47 L274,129.61 L273.5,129.74 L273,129.86 L272.5,129.98 L272,130.09 L271.5,130.21 L271,130.34 L270.5,130.4Z" fill="#000" fill-opacity="0.2"/>
<path d="M271.6,106.73V130.19M274.1,106.45V129.58M276.6,105.88V128.73M279.1,104.54V127.46M281.6,103.19V126.06M284.1,101.94V124.47M286.6,100.69V123M289.1,99.44V121.86M291.6,98.18V120.88M294.1,96.94V120.02M296.6,95.61V119.26M299.1,94.57V118.54M301.6,94.1V117.81M304.1,93.81V117.08M306.6,93.45V116.25M309.1,92.98V115.23M311.6,92.45V114.2M314.1,91.77V113.37M316.6,90.96V112.64M319.1,90.28V111.91M321.6,89.79V111.2M324.1,89.32V110.44M326.6,88.71V109.56M329.1,87.98V108.56M331.6,87.08V107.48M334.1,85.66V106.18M336.6,84.65V104.89M339.1,84.23V103.81M341.6,84.08V103.22M344.1,84.21V103.45M346.6,84.48V103.89M349.1,85.1V104.71M351.6,86.02V105.8M354.1,87.26V107.07M356.6,87.72V108.75M359.1,88.01V110.6M361.6,88.21V112.26M364.1,88.35V113.84M366.6,88.5V115.2M369.1,88.72V116.31M371.6,88.99V117.27M374.1,89.26V118.11M376.6,89.58V118.8M379.1,89.76V119.58M381.6,89.76V120.54M384.1,89.76V121.98M386.6,88.9V125.73M389.1,87.14V131.52M391.6,84.92V138.5M394.1,83.62V143.32M396.6,82.84V146.44M399.1,82.31V148.48M401.6,82.19V149.66M404.1,82.32V150.42M406.6,82.52V150.59M409.1,82.7V150.04M411.6,82.97V148.96M414.1,83.97V146.28M416.6,85.8V143.13M419.1,87.9V139.66M421.6,90.38V136.1M424.1,92.72V134.21M426.6,94.42V133.58M429.1,95.54V134.02M431.6,96.39V134.56M434.1,97.52V135.21M436.6,98.86V136.02" stroke="#333333" stroke-width="1" fill="none"/>
<line x1="270.5" y1="100.5" x2="438.5" y2="100.5" stroke="#000" stroke-opacity="0.55" stroke-width="1"/>
<path d="M270.5,118.21 L271,118.18 L271.5,118.12 L272,118.07 L272.5,118.02 L273,117.96 L273.5,117.91 L274,117.84 L274.5,117.77 L275,117.69 L275.5,117.59 L276,117.46 L276.5,117.25 L277,116.97 L277.5,116.65 L278,116.3 L278.5,115.92 L279,115.54 L279.5,115.17 L280,114.82 L280.5,114.5 L281,114.22 L281.5,113.95 L282,113.68 L282.5,113.41 L283,113.15 L283.5,112.9 L284,112.65 L284.5,112.4 L285,112.16 L285.5,111.93 L286,111.69 L286.5,111.47 L287,111.24 L287.5,111.02 L288,110.81 L288.5,110.6 L289,110.39 L289.5,110.18 L290,109.98 L290.5,109.78 L291,109.59 L291.5,109.4 L292,109.21 L292.5,109.02 L293,108.83 L293.5,108.65 L294,108.47 L294.5,108.28 L295,108.1 L295.5,107.91 L296,107.73 L296.5,107.56 L297,107.38 L297.5,107.22 L298,107.05 L298.5,106.9 L299,106.75 L299.5,106.61 L300,106.48 L300.5,106.35 L301,106.24 L301.5,106.12 L302,106.02 L302.5,105.91 L303,105.81 L303.5,105.71 L304,105.6 L304.5,105.5 L305,105.39 L305.5,105.29 L306,105.17 L306.5,105.06 L307,104.95 L307.5,104.83 L308,104.72 L308.5,104.61 L309,104.49 L309.5,104.38 L310,104.26 L310.5,104.13 L311,104.01 L311.5,103.88 L312,103.74 L312.5,103.6 L313,103.45 L313.5,103.29 L314,103.13 L314.5,102.96 L315,102.78 L315.5,102.61 L316,102.43 L316.5,102.25 L317,102.07 L317.5,101.89 L318,101.72 L318.5,101.55 L319,101.39 L319.5,101.23 L320,101.07 L320.5,100.92 L321,100.77 L321.5,100.62 L322,100.47 L322.5,100.31 L323,100.15 L323.5,99.99 L324,99.82 L324.5,99.65 L325,99.47 L325.5,99.27 L326,99.08 L326.5,98.87 L327,98.66 L327.5,98.44 L328,98.22 L328.5,97.99 L329,97.76 L329.5,97.53 L330,97.3 L330.5,97.06 L331,96.83 L331.5,96.59 L332,96.33 L332.5,96.06 L333,95.77 L333.5,95.49 L334,95.21 L334.5,94.94 L335,94.69 L335.5,94.47 L336,94.28 L336.5,94.13 L337,93.99 L337.5,93.84 L338,93.71 L338.5,93.58 L339,93.46 L339.5,93.36 L340,93.28 L340.5,93.22 L341,93.18 L341.5,93.18 L342,93.18 L342.5,93.18 L343,93.18 L343.5,93.18 L344,93.18 L344.5,93.18 L345,93.18 L345.5,93.18 L346,93.18 L346.5,93.18 L347,93.23 L347.5,93.34 L348,93.5 L348.5,93.7 L349,93.93 L349.5,94.19 L350,94.45 L350.5,94.72 L351,94.98 L351.5,95.21 L352,95.45 L352.5,95.7 L353,95.96 L353.5,96.22 L354,96.46 L354.5,96.7 L355,96.93 L355.5,97.16 L356,97.39 L356.5,97.62 L357,97.84 L357.5,98.06 L358,98.28 L358.5,98.5 L359,98.71 L359.5,98.91 L360,99.12 L360.5,99.32 L361,99.51 L361.5,99.71 L362,99.9 L362.5,100.1 L363,100.29 L363.5,100.47 L364,100.66 L364.5,100.83 L365,101 L365.5,101.17 L366,101.33 L366.5,101.48 L367,101.62 L367.5,101.76 L368,101.89 L368.5,102.02 L369,102.14 L369.5,102.26 L370,102.38 L370.5,102.49 L371,102.61 L371.5,102.72 L372,102.83 L372.5,102.94 L373,103.04 L373.5,103.15 L374,103.25 L374.5,103.34 L375,103.43 L375.5,103.52 L376,103.61 L376.5,103.7 L377,103.79 L377.5,103.89 L378,103.99 L378.5,104.11 L379,104.23 L379.5,104.36 L380,104.5 L380.5,104.65 L381,104.82 L381.5,104.99 L382,105.18 L382.5,105.37 L383,105.58 L383.5,105.8 L384,106.03 L384.5,106.27 L385,106.54 L385.5,106.84 L386,107.17 L386.5,107.52 L387,107.88 L387.5,108.25 L388,108.62 L388.5,109 L389,109.42 L389.5,109.86 L390,110.32 L390.5,110.76 L391,111.19 L391.5,111.58 L392,111.92 L392.5,112.24 L393,112.54 L393.5,112.83 L394,113.12 L394.5,113.39 L395,113.65 L395.5,113.9 L396,114.13 L396.5,114.36 L397,114.57 L397.5,114.77 L398,114.95 L398.5,115.13 L399,115.31 L399.5,115.48 L400,115.66 L400.5,115.84 L401,116 L401.5,116.16 L402,116.3 L402.5,116.43 L403,116.53 L403.5,116.61 L404,116.67 L404.5,116.69 L405,116.69 L405.5,116.69 L406,116.69 L406.5,116.69 L407,116.69 L407.5,116.69 L408,116.69 L408.5,116.69 L409,116.69 L409.5,116.69 L410,116.67 L410.5,116.6 L411,116.48 L411.5,116.31 L412,116.12 L412.5,115.91 L413,115.69 L413.5,115.48 L414,115.28 L414.5,115.11 L415,114.96 L415.5,114.8 L416,114.64 L416.5,114.47 L417,114.31 L417.5,114.16 L418,114.02 L418.5,113.91 L419,113.83 L419.5,113.79 L420,113.78 L420.5,113.78 L421,113.78 L421.5,113.78 L422,113.78 L422.5,113.78 L423,113.78 L423.5,113.78 L424,113.78 L424.5,113.78 L425,113.79 L425.5,113.82 L426,113.89 L426.5,114 L427,114.12 L427.5,114.27 L428,114.43 L428.5,114.6 L429,114.76 L429.5,114.93 L430,115.08 L430.5,115.24 L431,115.42 L431.5,115.6 L432,115.79 L432.5,115.99 L433,116.19 L433.5,116.39 L434,116.59 L434.5,116.78 L435,116.96 L435.5,117.15 L436,117.33 L436.5,117.5 L437,117.68 L437.5,117.86 L438,118.04 L438.5,118.21" stroke="#000" stroke-width="1.4" fill="none" stroke-linejoin="round"/>
<path d="M267.5,35.61V164.19" stroke="#959595" stroke-width="1.1" fill="none"/>
<path d="M267.5,35.61h3M267.5,57.04h3M267.5,78.47h3M267.5,99.9h3M267.5,121.33h3M267.5,142.76h3M267.5,164.19h3" stroke="#7a7a7a" stroke-width="1" fill="none"/>
<path d="M270.5,167.19H438.5" stroke="#959595" stroke-width="1.1" fill="none"/>
<path d="M270.5,167.19v-2.5M304.1,167.19v-2.5M337.7,167.19v-2.5M371.3,167.19v-2.5M404.9,167.19v-2.5M438.5,167.19v-2.5" stroke="#7a7a7a" stroke-width="1" fill="none"/>
<text x="264.9" y="37.81" class="tl" text-anchor="end">30</text>
<text x="264.9" y="59.24" class="tl" text-anchor="end">20</text>
<text x="264.9" y="80.67" class="tl" text-anchor="end">10</text>
<text x="264.9" y="102.1" class="tl" text-anchor="end">0</text>
<text x="264.9" y="123.53" class="tl" text-anchor="end">-10</text>
<text x="264.9" y="144.96" class="tl" text-anchor="end">-20</text>
<text x="264.9" y="166.39" class="tl" text-anchor="end">-30</text>
<text transform="translate(244.5,127) rotate(-90)" class="yl">Ankle (<tspan dx="2.0" dy="-2.2">&#176;</tspan><tspan dx="-0.5" dy="2.2">)</tspan></text>
<path d="M494.7,92.04 L495.2,91.95 L495.7,91.86 L496.2,91.76 L496.7,91.67 L497.2,91.57 L497.7,91.47 L498.2,91.37 L498.7,91.26 L499.2,91.13 L499.7,91 L500.2,90.83 L500.7,90.63 L501.2,90.4 L501.7,90.16 L502.2,89.91 L502.7,89.66 L503.2,89.43 L503.7,89.21 L504.2,89.02 L504.7,88.86 L505.2,88.74 L505.7,88.62 L506.2,88.51 L506.7,88.41 L507.2,88.32 L507.7,88.23 L508.2,88.14 L508.7,88.05 L509.2,87.97 L509.7,87.87 L510.2,87.78 L510.7,87.67 L511.2,87.56 L511.7,87.44 L512.2,87.32 L512.7,87.18 L513.2,87.05 L513.7,86.91 L514.2,86.77 L514.7,86.64 L515.2,86.5 L515.7,86.37 L516.2,86.24 L516.7,86.11 L517.2,85.99 L517.7,85.88 L518.2,85.77 L518.7,85.67 L519.2,85.57 L519.7,85.47 L520.2,85.37 L520.7,85.27 L521.2,85.18 L521.7,85.08 L522.2,84.98 L522.7,84.89 L523.2,84.79 L523.7,84.69 L524.2,84.59 L524.7,84.49 L525.2,84.39 L525.7,84.29 L526.2,84.19 L526.7,84.09 L527.2,83.99 L527.7,83.89 L528.2,83.79 L528.7,83.69 L529.2,83.59 L529.7,83.49 L530.2,83.39 L530.7,83.29 L531.2,83.18 L531.7,83.08 L532.2,82.97 L532.7,82.87 L533.2,82.76 L533.7,82.66 L534.2,82.56 L534.7,82.46 L535.2,82.37 L535.7,82.28 L536.2,82.19 L536.7,82.11 L537.2,82.03 L537.7,81.96 L538.2,81.89 L538.7,81.82 L539.2,81.75 L539.7,81.69 L540.2,81.62 L540.7,81.56 L541.2,81.49 L541.7,81.42 L542.2,81.35 L542.7,81.28 L543.2,81.2 L543.7,81.13 L544.2,81.06 L544.7,80.99 L545.2,80.92 L545.7,80.84 L546.2,80.77 L546.7,80.69 L547.2,80.6 L547.7,80.52 L548.2,80.42 L548.7,80.33 L549.2,80.22 L549.7,80.11 L550.2,79.98 L550.7,79.85 L551.2,79.7 L551.7,79.56 L552.2,79.4 L552.7,79.24 L553.2,79.08 L553.7,78.91 L554.2,78.74 L554.7,78.57 L555.2,78.4 L555.7,78.22 L556.2,78.04 L556.7,77.85 L557.2,77.65 L557.7,77.45 L558.2,77.25 L558.7,77.04 L559.2,76.83 L559.7,76.62 L560.2,76.41 L560.7,76.21 L561.2,76 L561.7,75.8 L562.2,75.61 L562.7,75.42 L563.2,75.23 L563.7,75.05 L564.2,74.86 L564.7,74.67 L565.2,74.48 L565.7,74.29 L566.2,74.09 L566.7,73.87 L567.2,73.65 L567.7,73.42 L568.2,73.17 L568.7,72.88 L569.2,72.56 L569.7,72.23 L570.2,71.88 L570.7,71.53 L571.2,71.19 L571.7,70.87 L572.2,70.56 L572.7,70.29 L573.2,70.05 L573.7,69.82 L574.2,69.61 L574.7,69.4 L575.2,69.2 L575.7,69.01 L576.2,68.83 L576.7,68.66 L577.2,68.5 L577.7,68.35 L578.2,68.22 L578.7,68.08 L579.2,67.95 L579.7,67.81 L580.2,67.67 L580.7,67.55 L581.2,67.42 L581.7,67.31 L582.2,67.22 L582.7,67.13 L583.2,67.07 L583.7,67.03 L584.2,67.01 L584.7,67.01 L585.2,67.02 L585.7,67.03 L586.2,67.04 L586.7,67.06 L587.2,67.08 L587.7,67.1 L588.2,67.13 L588.7,67.15 L589.2,67.18 L589.7,67.21 L590.2,67.24 L590.7,67.27 L591.2,67.3 L591.7,67.34 L592.2,67.39 L592.7,67.44 L593.2,67.49 L593.7,67.55 L594.2,67.61 L594.7,67.67 L595.2,67.73 L595.7,67.78 L596.2,67.83 L596.7,67.87 L597.2,67.91 L597.7,67.95 L598.2,67.99 L598.7,68.03 L599.2,68.07 L599.7,68.11 L600.2,68.15 L600.7,68.18 L601.2,68.21 L601.7,68.24 L602.2,68.26 L602.7,68.27 L603.2,68.27 L603.7,68.27 L604.2,68.27 L604.7,68.27 L605.2,68.27 L605.7,68.27 L606.2,68.27 L606.7,68.27 L607.2,68.27 L607.7,68.27 L608.2,68.27 L608.7,68.27 L609.2,68.27 L609.7,68.27 L610.2,68.29 L610.7,68.34 L611.2,68.4 L611.7,68.49 L612.2,68.6 L612.7,68.72 L613.2,68.85 L613.7,69.01 L614.2,69.26 L614.7,69.61 L615.2,70.03 L615.7,70.51 L616.2,71.01 L616.7,71.54 L617.2,72.06 L617.7,72.61 L618.2,73.21 L618.7,73.86 L619.2,74.55 L619.7,75.26 L620.2,75.98 L620.7,76.7 L621.2,77.41 L621.7,78.12 L622.2,78.84 L622.7,79.57 L623.2,80.32 L623.7,81.08 L624.2,81.86 L624.7,82.66 L625.2,83.54 L625.7,84.54 L626.2,85.56 L626.7,86.46 L627.2,87.12 L627.7,87.52 L628.2,87.86 L628.7,88.14 L629.2,88.39 L629.7,88.61 L630.2,88.81 L630.7,88.99 L631.2,89.16 L631.7,89.33 L632.2,89.48 L632.7,89.62 L633.2,89.76 L633.7,89.89 L634.2,90.01 L634.7,90.12 L635.2,90.24 L635.7,90.35 L636.2,90.46 L636.7,90.56 L637.2,90.68 L637.7,90.79 L638.2,90.9 L638.7,91.03 L639.2,91.16 L639.7,91.31 L640.2,91.46 L640.7,91.62 L641.2,91.79 L641.7,91.96 L642.2,92.12 L642.7,92.28 L643.2,92.42 L643.7,92.56 L644.2,92.68 L644.7,92.77 L645.2,92.85 L645.7,92.9 L646.2,92.92 L646.7,92.92 L647.2,92.92 L647.7,92.92 L648.2,92.92 L648.7,92.92 L649.2,92.92 L649.7,92.92 L650.2,92.92 L650.7,92.92 L651.2,92.92 L651.7,92.87 L652.2,92.66 L652.7,92.34 L653.2,92.01 L653.7,91.73 L654.2,91.55 L654.7,91.38 L655.2,91.22 L655.7,91.1 L656.2,91.04 L656.7,91.03 L657.2,91.03 L657.7,91.03 L658.2,91.03 L658.7,91.03 L659.2,91.03 L659.7,91.03 L660.2,91.03 L660.7,91.03 L661.2,91.03 L661.7,91.03 L662.2,91.03 L662.7,91.03 L662.7,120.3 L662.2,120.16 L661.7,120.02 L661.2,119.88 L660.7,119.74 L660.2,119.6 L659.7,119.46 L659.2,119.32 L658.7,119.18 L658.2,119.05 L657.7,118.92 L657.2,118.77 L656.7,118.62 L656.2,118.46 L655.7,118.3 L655.2,118.15 L654.7,118.02 L654.2,117.92 L653.7,117.84 L653.2,117.8 L652.7,117.82 L652.2,117.93 L651.7,118.12 L651.2,118.39 L650.7,118.71 L650.2,119.07 L649.7,119.45 L649.2,119.84 L648.7,120.26 L648.2,120.82 L647.7,121.49 L647.2,122.23 L646.7,123 L646.2,123.76 L645.7,124.47 L645.2,125.09 L644.7,125.6 L644.2,126.08 L643.7,126.55 L643.2,127 L642.7,127.41 L642.2,127.79 L641.7,128.12 L641.2,128.4 L640.7,128.63 L640.2,128.84 L639.7,129.01 L639.2,129.17 L638.7,129.32 L638.2,129.45 L637.7,129.58 L637.2,129.71 L636.7,129.84 L636.2,129.99 L635.7,130.15 L635.2,130.32 L634.7,130.53 L634.2,130.8 L633.7,131.12 L633.2,131.46 L632.7,131.81 L632.2,132.15 L631.7,132.45 L631.2,132.71 L630.7,132.89 L630.2,132.99 L629.7,133 L629.2,133 L628.7,133 L628.2,133 L627.7,133 L627.2,133 L626.7,133 L626.2,133 L625.7,132.94 L625.2,132.58 L624.7,131.98 L624.2,131.18 L623.7,130.25 L623.2,129.25 L622.7,128.26 L622.2,127.34 L621.7,126.51 L621.2,125.67 L620.7,124.8 L620.2,123.92 L619.7,123.03 L619.2,122.12 L618.7,121.19 L618.2,120.26 L617.7,119.32 L617.2,118.38 L616.7,117.43 L616.2,116.45 L615.7,115.45 L615.2,114.44 L614.7,113.42 L614.2,112.4 L613.7,111.38 L613.2,110.36 L612.7,109.37 L612.2,108.39 L611.7,107.41 L611.2,106.37 L610.7,105.27 L610.2,104.15 L609.7,103.02 L609.2,101.92 L608.7,100.86 L608.2,99.87 L607.7,98.98 L607.2,98.21 L606.7,97.58 L606.2,97.13 L605.7,96.84 L605.2,96.58 L604.7,96.34 L604.2,96.13 L603.7,95.94 L603.2,95.76 L602.7,95.61 L602.2,95.46 L601.7,95.34 L601.2,95.22 L600.7,95.12 L600.2,95.03 L599.7,94.95 L599.2,94.88 L598.7,94.81 L598.2,94.74 L597.7,94.67 L597.2,94.61 L596.7,94.56 L596.2,94.5 L595.7,94.45 L595.2,94.4 L594.7,94.35 L594.2,94.31 L593.7,94.27 L593.2,94.23 L592.7,94.19 L592.2,94.15 L591.7,94.12 L591.2,94.08 L590.7,94.05 L590.2,94.01 L589.7,93.98 L589.2,93.95 L588.7,93.91 L588.2,93.88 L587.7,93.84 L587.2,93.81 L586.7,93.77 L586.2,93.74 L585.7,93.71 L585.2,93.68 L584.7,93.65 L584.2,93.62 L583.7,93.6 L583.2,93.57 L582.7,93.55 L582.2,93.54 L581.7,93.52 L581.2,93.51 L580.7,93.5 L580.2,93.5 L579.7,93.5 L579.2,93.51 L578.7,93.53 L578.2,93.55 L577.7,93.59 L577.2,93.62 L576.7,93.67 L576.2,93.72 L575.7,93.77 L575.2,93.83 L574.7,93.89 L574.2,93.95 L573.7,94.01 L573.2,94.08 L572.7,94.15 L572.2,94.22 L571.7,94.28 L571.2,94.35 L570.7,94.41 L570.2,94.48 L569.7,94.54 L569.2,94.6 L568.7,94.67 L568.2,94.74 L567.7,94.82 L567.2,94.89 L566.7,94.97 L566.2,95.05 L565.7,95.13 L565.2,95.22 L564.7,95.3 L564.2,95.38 L563.7,95.46 L563.2,95.54 L562.7,95.62 L562.2,95.7 L561.7,95.77 L561.2,95.84 L560.7,95.91 L560.2,95.98 L559.7,96.04 L559.2,96.09 L558.7,96.14 L558.2,96.2 L557.7,96.24 L557.2,96.29 L556.7,96.34 L556.2,96.38 L555.7,96.42 L555.2,96.47 L554.7,96.51 L554.2,96.55 L553.7,96.6 L553.2,96.64 L552.7,96.69 L552.2,96.74 L551.7,96.8 L551.2,96.85 L550.7,96.91 L550.2,96.97 L549.7,97.04 L549.2,97.11 L548.7,97.19 L548.2,97.28 L547.7,97.37 L547.2,97.46 L546.7,97.56 L546.2,97.66 L545.7,97.77 L545.2,97.87 L544.7,97.98 L544.2,98.09 L543.7,98.2 L543.2,98.31 L542.7,98.42 L542.2,98.53 L541.7,98.64 L541.2,98.75 L540.7,98.86 L540.2,98.96 L539.7,99.06 L539.2,99.16 L538.7,99.25 L538.2,99.35 L537.7,99.44 L537.2,99.54 L536.7,99.63 L536.2,99.72 L535.7,99.82 L535.2,99.91 L534.7,100.01 L534.2,100.1 L533.7,100.2 L533.2,100.3 L532.7,100.4 L532.2,100.51 L531.7,100.61 L531.2,100.72 L530.7,100.84 L530.2,100.95 L529.7,101.07 L529.2,101.19 L528.7,101.32 L528.2,101.45 L527.7,101.58 L527.2,101.71 L526.7,101.85 L526.2,101.99 L525.7,102.13 L525.2,102.27 L524.7,102.42 L524.2,102.57 L523.7,102.73 L523.2,102.89 L522.7,103.05 L522.2,103.22 L521.7,103.39 L521.2,103.56 L520.7,103.74 L520.2,103.93 L519.7,104.11 L519.2,104.31 L518.7,104.51 L518.2,104.71 L517.7,104.93 L517.2,105.14 L516.7,105.37 L516.2,105.6 L515.7,105.84 L515.2,106.08 L514.7,106.33 L514.2,106.59 L513.7,106.85 L513.2,107.12 L512.7,107.39 L512.2,107.68 L511.7,107.97 L511.2,108.26 L510.7,108.56 L510.2,108.87 L509.7,109.19 L509.2,109.54 L508.7,109.9 L508.2,110.28 L507.7,110.68 L507.2,111.09 L506.7,111.51 L506.2,111.94 L505.7,112.38 L505.2,112.82 L504.7,113.27 L504.2,113.72 L503.7,114.19 L503.2,114.66 L502.7,115.15 L502.2,115.65 L501.7,116.16 L501.2,116.68 L500.7,117.22 L500.2,117.77 L499.7,118.35 L499.2,118.95 L498.7,119.58 L498.2,120.23 L497.7,120.9 L497.2,121.58 L496.7,122.27 L496.2,122.96 L495.7,123.65 L495.2,124.33 L494.7,125Z" fill="#b0b0b0"/>
<path d="M494.7,105.31 L495.2,105.12 L495.7,104.9 L496.2,104.68 L496.7,104.47 L497.2,104.25 L497.7,104.03 L498.2,103.79 L498.7,103.54 L499.2,103.27 L499.7,102.97 L500.2,102.61 L500.7,102.2 L501.2,101.74 L501.7,101.26 L502.2,100.76 L502.7,100.27 L503.2,99.79 L503.7,99.33 L504.2,98.93 L504.7,98.58 L505.2,98.27 L505.7,97.96 L506.2,97.67 L506.7,97.4 L507.2,97.13 L507.7,96.88 L508.2,96.63 L508.7,96.4 L509.2,96.17 L509.7,95.96 L510.2,95.75 L510.7,95.56 L511.2,95.37 L511.7,95.19 L512.2,95.01 L512.7,94.85 L513.2,94.68 L513.7,94.53 L514.2,94.38 L514.7,94.23 L515.2,94.09 L515.7,93.96 L516.2,93.83 L516.7,93.7 L517.2,93.58 L517.7,93.46 L518.2,93.34 L518.7,93.23 L519.2,93.12 L519.7,93.02 L520.2,92.92 L520.7,92.82 L521.2,92.72 L521.7,92.63 L522.2,92.54 L522.7,92.45 L523.2,92.36 L523.7,92.28 L524.2,92.2 L524.7,92.13 L525.2,92.06 L525.7,92 L526.2,91.93 L526.7,91.87 L527.2,91.81 L527.7,91.75 L528.2,91.68 L528.7,91.61 L529.2,91.53 L529.7,91.45 L530.2,91.36 L530.7,91.26 L531.2,91.15 L531.7,91.04 L532.2,90.92 L532.7,90.8 L533.2,90.67 L533.7,90.53 L534.2,90.39 L534.7,90.24 L535.2,90.09 L535.7,89.94 L536.2,89.78 L536.7,89.62 L537.2,89.42 L537.7,89.2 L538.2,88.97 L538.7,88.73 L539.2,88.49 L539.7,88.25 L540.2,88.02 L540.7,87.8 L541.2,87.61 L541.7,87.44 L542.2,87.31 L542.7,87.22 L543.2,87.15 L543.7,87.08 L544.2,87.03 L544.7,86.98 L545.2,86.94 L545.7,86.9 L546.2,86.86 L546.7,86.83 L547.2,86.78 L547.7,86.74 L548.2,86.69 L548.7,86.63 L549.2,86.56 L549.7,86.48 L550.2,86.4 L550.7,86.3 L551.2,86.2 L551.7,86.09 L552.2,85.98 L552.7,85.87 L553.2,85.76 L553.7,85.65 L554.2,85.54 L554.7,85.44 L555.2,85.35 L555.7,85.26 L556.2,85.16 L556.7,85.06 L557.2,84.97 L557.7,84.87 L558.2,84.78 L558.7,84.69 L559.2,84.61 L559.7,84.53 L560.2,84.46 L560.7,84.4 L561.2,84.35 L561.7,84.32 L562.2,84.29 L562.7,84.27 L563.2,84.25 L563.7,84.23 L564.2,84.22 L564.7,84.2 L565.2,84.19 L565.7,84.17 L566.2,84.15 L566.7,84.14 L567.2,84.11 L567.7,84.09 L568.2,84.05 L568.7,84 L569.2,83.92 L569.7,83.84 L570.2,83.76 L570.7,83.67 L571.2,83.59 L571.7,83.52 L572.2,83.47 L572.7,83.45 L573.2,83.45 L573.7,83.46 L574.2,83.49 L574.7,83.53 L575.2,83.57 L575.7,83.62 L576.2,83.67 L576.7,83.72 L577.2,83.77 L577.7,83.8 L578.2,83.83 L578.7,83.86 L579.2,83.88 L579.7,83.89 L580.2,83.91 L580.7,83.92 L581.2,83.94 L581.7,83.95 L582.2,83.97 L582.7,83.99 L583.2,84.01 L583.7,84.04 L584.2,84.07 L584.7,84.1 L585.2,84.15 L585.7,84.21 L586.2,84.29 L586.7,84.37 L587.2,84.47 L587.7,84.57 L588.2,84.68 L588.7,84.8 L589.2,84.93 L589.7,85.07 L590.2,85.21 L590.7,85.36 L591.2,85.53 L591.7,85.75 L592.2,86.01 L592.7,86.29 L593.2,86.6 L593.7,86.93 L594.2,87.27 L594.7,87.61 L595.2,87.96 L595.7,88.31 L596.2,88.65 L596.7,88.97 L597.2,89.27 L597.7,89.6 L598.2,89.95 L598.7,90.32 L599.2,90.69 L599.7,91.06 L600.2,91.41 L600.7,91.76 L601.2,92.07 L601.7,92.35 L602.2,92.59 L602.7,92.78 L603.2,92.91 L603.7,92.99 L604.2,93.07 L604.7,93.15 L605.2,93.22 L605.7,93.29 L606.2,93.35 L606.7,93.4 L607.2,93.45 L607.7,93.49 L608.2,93.52 L608.7,93.54 L609.2,93.55 L609.7,93.56 L610.2,93.53 L610.7,93.47 L611.2,93.38 L611.7,93.26 L612.2,93.11 L612.7,92.95 L613.2,92.77 L613.7,92.57 L614.2,92.37 L614.7,92.17 L615.2,91.96 L615.7,91.76 L616.2,91.55 L616.7,91.3 L617.2,91.02 L617.7,90.71 L618.2,90.38 L618.7,90.05 L619.2,89.74 L619.7,89.44 L620.2,89.19 L620.7,88.98 L621.2,88.82 L621.7,88.68 L622.2,88.54 L622.7,88.41 L623.2,88.3 L623.7,88.21 L624.2,88.15 L624.7,88.12 L625.2,88.13 L625.7,88.16 L626.2,88.2 L626.7,88.27 L627.2,88.35 L627.7,88.43 L628.2,88.53 L628.7,88.63 L629.2,88.74 L629.7,88.85 L630.2,88.96 L630.7,89.1 L631.2,89.26 L631.7,89.44 L632.2,89.64 L632.7,89.83 L633.2,90.03 L633.7,90.23 L634.2,90.41 L634.7,90.58 L635.2,90.74 L635.7,90.89 L636.2,91.04 L636.7,91.18 L637.2,91.33 L637.7,91.47 L638.2,91.61 L638.7,91.74 L639.2,91.87 L639.7,91.99 L640.2,92.1 L640.7,92.2 L641.2,92.29 L641.7,92.36 L642.2,92.43 L642.7,92.48 L643.2,92.53 L643.7,92.58 L644.2,92.63 L644.7,92.68 L645.2,92.75 L645.7,92.82 L646.2,92.91 L646.7,93.03 L647.2,93.2 L647.7,93.43 L648.2,93.69 L648.7,93.97 L649.2,94.27 L649.7,94.57 L650.2,94.86 L650.7,95.14 L651.2,95.39 L651.7,95.6 L652.2,95.81 L652.7,96.01 L653.2,96.2 L653.7,96.39 L654.2,96.57 L654.7,96.75 L655.2,96.93 L655.7,97.1 L656.2,97.28 L656.7,97.45 L657.2,97.61 L657.7,97.77 L658.2,97.93 L658.7,98.09 L659.2,98.24 L659.7,98.4 L660.2,98.55 L660.7,98.7 L661.2,98.85 L661.7,99 L662.2,99.16 L662.7,99.25 L662.7,134.19 L662.2,134.14 L661.7,134.06 L661.2,133.99 L660.7,133.92 L660.2,133.83 L659.7,133.74 L659.2,133.63 L658.7,133.48 L658.2,133.25 L657.7,132.96 L657.2,132.61 L656.7,132.23 L656.2,131.84 L655.7,131.44 L655.2,131.07 L654.7,130.67 L654.2,130.2 L653.7,129.69 L653.2,129.19 L652.7,128.74 L652.2,128.39 L651.7,128.17 L651.2,128.12 L650.7,128.18 L650.2,128.28 L649.7,128.43 L649.2,128.61 L648.7,128.82 L648.2,129.03 L647.7,129.25 L647.2,129.45 L646.7,129.64 L646.2,129.79 L645.7,129.93 L645.2,130.06 L644.7,130.19 L644.2,130.31 L643.7,130.43 L643.2,130.55 L642.7,130.67 L642.2,130.79 L641.7,130.91 L641.2,131.04 L640.7,131.16 L640.2,131.28 L639.7,131.4 L639.2,131.51 L638.7,131.63 L638.2,131.75 L637.7,131.87 L637.2,132 L636.7,132.14 L636.2,132.29 L635.7,132.44 L635.2,132.59 L634.7,132.75 L634.2,132.92 L633.7,133.1 L633.2,133.28 L632.7,133.48 L632.2,133.69 L631.7,133.91 L631.2,134.15 L630.7,134.42 L630.2,134.76 L629.7,135.15 L629.2,135.58 L628.7,136.02 L628.2,136.46 L627.7,136.88 L627.2,137.28 L626.7,137.63 L626.2,137.91 L625.7,138.15 L625.2,138.38 L624.7,138.61 L624.2,138.81 L623.7,138.99 L623.2,139.13 L622.7,139.22 L622.2,139.24 L621.7,139.1 L621.2,138.77 L620.7,138.33 L620.2,137.82 L619.7,137.31 L619.2,136.75 L618.7,136.08 L618.2,135.33 L617.7,134.53 L617.2,133.69 L616.7,132.86 L616.2,132.06 L615.7,131.29 L615.2,130.51 L614.7,129.72 L614.2,128.92 L613.7,128.14 L613.2,127.39 L612.7,126.68 L612.2,126.04 L611.7,125.43 L611.2,124.84 L610.7,124.26 L610.2,123.72 L609.7,123.22 L609.2,122.77 L608.7,122.39 L608.2,122.1 L607.7,121.84 L607.2,121.6 L606.7,121.38 L606.2,121.18 L605.7,121 L605.2,120.83 L604.7,120.68 L604.2,120.53 L603.7,120.39 L603.2,120.26 L602.7,120.13 L602.2,120.01 L601.7,119.89 L601.2,119.77 L600.7,119.67 L600.2,119.56 L599.7,119.46 L599.2,119.37 L598.7,119.28 L598.2,119.2 L597.7,119.12 L597.2,119.05 L596.7,118.98 L596.2,118.92 L595.7,118.87 L595.2,118.82 L594.7,118.78 L594.2,118.74 L593.7,118.69 L593.2,118.65 L592.7,118.61 L592.2,118.56 L591.7,118.51 L591.2,118.46 L590.7,118.39 L590.2,118.32 L589.7,118.25 L589.2,118.17 L588.7,118.08 L588.2,117.98 L587.7,117.88 L587.2,117.78 L586.7,117.67 L586.2,117.56 L585.7,117.45 L585.2,117.33 L584.7,117.21 L584.2,117.09 L583.7,116.96 L583.2,116.83 L582.7,116.68 L582.2,116.53 L581.7,116.37 L581.2,116.21 L580.7,116.05 L580.2,115.89 L579.7,115.73 L579.2,115.57 L578.7,115.42 L578.2,115.28 L577.7,115.15 L577.2,115.04 L576.7,114.94 L576.2,114.82 L575.7,114.67 L575.2,114.48 L574.7,114.2 L574.2,113.85 L573.7,113.44 L573.2,112.98 L572.7,112.48 L572.2,111.97 L571.7,111.46 L571.2,110.89 L570.7,110.24 L570.2,109.53 L569.7,108.79 L569.2,108.05 L568.7,107.35 L568.2,106.73 L567.7,106.19 L567.2,105.65 L566.7,105.11 L566.2,104.59 L565.7,104.12 L565.2,103.72 L564.7,103.41 L564.2,103.24 L563.7,103.16 L563.2,103.1 L562.7,103.04 L562.2,102.99 L561.7,102.95 L561.2,102.91 L560.7,102.88 L560.2,102.86 L559.7,102.84 L559.2,102.84 L558.7,102.85 L558.2,102.91 L557.7,103 L557.2,103.12 L556.7,103.25 L556.2,103.38 L555.7,103.51 L555.2,103.6 L554.7,103.68 L554.2,103.76 L553.7,103.84 L553.2,103.92 L552.7,103.99 L552.2,104.06 L551.7,104.13 L551.2,104.2 L550.7,104.26 L550.2,104.33 L549.7,104.39 L549.2,104.45 L548.7,104.51 L548.2,104.56 L547.7,104.61 L547.2,104.65 L546.7,104.69 L546.2,104.73 L545.7,104.78 L545.2,104.82 L544.7,104.86 L544.2,104.91 L543.7,104.97 L543.2,105.03 L542.7,105.1 L542.2,105.18 L541.7,105.28 L541.2,105.4 L540.7,105.54 L540.2,105.69 L539.7,105.85 L539.2,106.02 L538.7,106.19 L538.2,106.37 L537.7,106.54 L537.2,106.71 L536.7,106.87 L536.2,107.03 L535.7,107.18 L535.2,107.32 L534.7,107.46 L534.2,107.59 L533.7,107.73 L533.2,107.87 L532.7,108.01 L532.2,108.16 L531.7,108.31 L531.2,108.47 L530.7,108.63 L530.2,108.81 L529.7,109 L529.2,109.2 L528.7,109.42 L528.2,109.65 L527.7,109.89 L527.2,110.14 L526.7,110.39 L526.2,110.66 L525.7,110.93 L525.2,111.2 L524.7,111.47 L524.2,111.75 L523.7,112.02 L523.2,112.3 L522.7,112.58 L522.2,112.87 L521.7,113.17 L521.2,113.47 L520.7,113.77 L520.2,114.08 L519.7,114.38 L519.2,114.69 L518.7,115 L518.2,115.31 L517.7,115.61 L517.2,115.91 L516.7,116.21 L516.2,116.51 L515.7,116.81 L515.2,117.11 L514.7,117.41 L514.2,117.71 L513.7,118.01 L513.2,118.31 L512.7,118.61 L512.2,118.91 L511.7,119.21 L511.2,119.51 L510.7,119.81 L510.2,120.12 L509.7,120.44 L509.2,120.76 L508.7,121.09 L508.2,121.41 L507.7,121.73 L507.2,122.04 L506.7,122.35 L506.2,122.64 L505.7,122.92 L505.2,123.18 L504.7,123.42 L504.2,123.64 L503.7,123.84 L503.2,124.02 L502.7,124.2 L502.2,124.37 L501.7,124.53 L501.2,124.7 L500.7,124.88 L500.2,125.08 L499.7,125.29 L499.2,125.52 L498.7,125.78 L498.2,126.06 L497.7,126.35 L497.2,126.65 L496.7,126.95 L496.2,127.26 L495.7,127.57 L495.2,127.87 L494.7,128.12Z" fill="#000" fill-opacity="0.2"/>
<path d="M495.8,104.86V127.51M498.3,103.74V126M500.8,102.11V124.85M503.3,99.69V123.99M505.8,97.91V122.86M508.3,96.58V121.35M510.8,95.52V119.75M513.3,94.65V118.25M515.8,93.93V116.75M518.3,93.32V115.25M520.8,92.8V113.71M523.3,92.35V112.24M525.8,91.98V110.87M528.3,91.67V109.6M530.8,91.24V108.6M533.3,90.64V107.84M535.8,89.91V107.15M538.3,88.92V106.33M540.8,87.76V105.51M543.3,87.13V105.02M545.8,86.89V104.77M548.3,86.68V104.55M550.8,86.28V104.25M553.3,85.73V103.9M555.8,85.24V103.48M558.3,84.76V102.89M560.8,84.39V102.89M563.3,84.24V103.11M565.8,84.17V104.21M568.3,84.04V106.84M570.8,83.65V110.38M573.3,83.45V113.07M575.8,83.63V114.71M578.3,83.84V115.31M580.8,83.93V116.08M583.3,84.02V116.85M585.8,84.23V117.47M588.3,84.7V118M590.8,85.39V118.41M593.3,86.66V118.66M595.8,88.38V118.88M598.3,90.02V119.22M600.8,91.82V119.69M603.3,92.93V120.28M605.8,93.3V121.04M608.3,93.52V122.15M610.8,93.45V124.38M613.3,92.73V127.53M615.8,91.72V131.45M618.3,90.32V135.49M620.8,88.94V138.42M623.3,88.28V139.11M625.8,88.17V138.1M628.3,88.55V136.37M630.8,89.13V134.36M633.3,90.07V133.24M635.8,90.92V132.41M638.3,91.64V131.73M640.8,92.22V131.14M643.3,92.54V130.53M645.8,92.83V129.9M648.3,93.74V128.99M650.8,95.19V128.16M653.3,96.24V129.29M655.8,97.14V131.52M658.3,97.97V133.3M660.8,98.73V133.93" stroke="#333333" stroke-width="1" fill="none"/>
<line x1="494.7" y1="100.5" x2="662.7" y2="100.5" stroke="#000" stroke-opacity="0.55" stroke-width="1"/>
<path d="M494.7,116.31 L495.2,116.04 L495.7,115.71 L496.2,115.39 L496.7,115.07 L497.2,114.75 L497.7,114.42 L498.2,114.09 L498.7,113.76 L499.2,113.42 L499.7,113.07 L500.2,112.71 L500.7,112.32 L501.2,111.93 L501.7,111.53 L502.2,111.13 L502.7,110.73 L503.2,110.35 L503.7,109.98 L504.2,109.64 L504.7,109.33 L505.2,109.03 L505.7,108.75 L506.2,108.47 L506.7,108.21 L507.2,107.95 L507.7,107.71 L508.2,107.46 L508.7,107.23 L509.2,106.99 L509.7,106.77 L510.2,106.54 L510.7,106.32 L511.2,106.1 L511.7,105.88 L512.2,105.66 L512.7,105.45 L513.2,105.25 L513.7,105.05 L514.2,104.85 L514.7,104.65 L515.2,104.46 L515.7,104.26 L516.2,104.08 L516.7,103.89 L517.2,103.7 L517.7,103.52 L518.2,103.33 L518.7,103.15 L519.2,102.96 L519.7,102.78 L520.2,102.6 L520.7,102.42 L521.2,102.25 L521.7,102.08 L522.2,101.92 L522.7,101.77 L523.2,101.63 L523.7,101.5 L524.2,101.38 L524.7,101.27 L525.2,101.17 L525.7,101.07 L526.2,100.97 L526.7,100.88 L527.2,100.79 L527.7,100.7 L528.2,100.61 L528.7,100.52 L529.2,100.42 L529.7,100.31 L530.2,100.2 L530.7,100.08 L531.2,99.97 L531.7,99.85 L532.2,99.73 L532.7,99.61 L533.2,99.48 L533.7,99.35 L534.2,99.22 L534.7,99.08 L535.2,98.94 L535.7,98.79 L536.2,98.63 L536.7,98.46 L537.2,98.27 L537.7,98.05 L538.2,97.82 L538.7,97.58 L539.2,97.34 L539.7,97.1 L540.2,96.87 L540.7,96.65 L541.2,96.46 L541.7,96.29 L542.2,96.16 L542.7,96.07 L543.2,95.99 L543.7,95.92 L544.2,95.86 L544.7,95.8 L545.2,95.74 L545.7,95.69 L546.2,95.65 L546.7,95.6 L547.2,95.56 L547.7,95.53 L548.2,95.5 L548.7,95.47 L549.2,95.44 L549.7,95.41 L550.2,95.4 L550.7,95.38 L551.2,95.37 L551.7,95.35 L552.2,95.34 L552.7,95.33 L553.2,95.31 L553.7,95.29 L554.2,95.27 L554.7,95.24 L555.2,95.2 L555.7,95.11 L556.2,94.92 L556.7,94.67 L557.2,94.38 L557.7,94.09 L558.2,93.83 L558.7,93.63 L559.2,93.53 L559.7,93.45 L560.2,93.38 L560.7,93.32 L561.2,93.26 L561.7,93.22 L562.2,93.19 L562.7,93.18 L563.2,93.19 L563.7,93.26 L564.2,93.37 L564.7,93.52 L565.2,93.69 L565.7,93.89 L566.2,94.1 L566.7,94.32 L567.2,94.54 L567.7,94.75 L568.2,94.95 L568.7,95.18 L569.2,95.42 L569.7,95.68 L570.2,95.95 L570.7,96.22 L571.2,96.49 L571.7,96.75 L572.2,97.01 L572.7,97.24 L573.2,97.46 L573.7,97.67 L574.2,97.89 L574.7,98.09 L575.2,98.29 L575.7,98.49 L576.2,98.68 L576.7,98.85 L577.2,99.01 L577.7,99.16 L578.2,99.3 L578.7,99.42 L579.2,99.54 L579.7,99.64 L580.2,99.74 L580.7,99.84 L581.2,99.93 L581.7,100.03 L582.2,100.12 L582.7,100.2 L583.2,100.3 L583.7,100.39 L584.2,100.48 L584.7,100.58 L585.2,100.68 L585.7,100.77 L586.2,100.86 L586.7,100.95 L587.2,101.04 L587.7,101.13 L588.2,101.22 L588.7,101.32 L589.2,101.43 L589.7,101.54 L590.2,101.66 L590.7,101.79 L591.2,101.93 L591.7,102.1 L592.2,102.28 L592.7,102.47 L593.2,102.67 L593.7,102.89 L594.2,103.1 L594.7,103.32 L595.2,103.55 L595.7,103.77 L596.2,103.98 L596.7,104.19 L597.2,104.39 L597.7,104.59 L598.2,104.79 L598.7,104.99 L599.2,105.19 L599.7,105.39 L600.2,105.59 L600.7,105.79 L601.2,105.99 L601.7,106.19 L602.2,106.39 L602.7,106.59 L603.2,106.79 L603.7,106.99 L604.2,107.19 L604.7,107.38 L605.2,107.57 L605.7,107.77 L606.2,107.96 L606.7,108.15 L607.2,108.35 L607.7,108.55 L608.2,108.75 L608.7,108.96 L609.2,109.18 L609.7,109.4 L610.2,109.63 L610.7,109.87 L611.2,110.13 L611.7,110.4 L612.2,110.67 L612.7,110.94 L613.2,111.21 L613.7,111.47 L614.2,111.73 L614.7,111.98 L615.2,112.21 L615.7,112.42 L616.2,112.62 L616.7,112.83 L617.2,113.05 L617.7,113.27 L618.2,113.48 L618.7,113.67 L619.2,113.85 L619.7,113.99 L620.2,114.09 L620.7,114.15 L621.2,114.16 L621.7,114.09 L622.2,113.97 L622.7,113.81 L623.2,113.61 L623.7,113.39 L624.2,113.17 L624.7,112.96 L625.2,112.76 L625.7,112.6 L626.2,112.49 L626.7,112.4 L627.2,112.3 L627.7,112.22 L628.2,112.14 L628.7,112.06 L629.2,111.99 L629.7,111.92 L630.2,111.86 L630.7,111.8 L631.2,111.75 L631.7,111.7 L632.2,111.65 L632.7,111.61 L633.2,111.57 L633.7,111.54 L634.2,111.51 L634.7,111.49 L635.2,111.47 L635.7,111.44 L636.2,111.42 L636.7,111.39 L637.2,111.37 L637.7,111.33 L638.2,111.3 L638.7,111.26 L639.2,111.19 L639.7,111.11 L640.2,111 L640.7,110.88 L641.2,110.76 L641.7,110.65 L642.2,110.54 L642.7,110.45 L643.2,110.4 L643.7,110.37 L644.2,110.38 L644.7,110.42 L645.2,110.48 L645.7,110.57 L646.2,110.66 L646.7,110.77 L647.2,110.89 L647.7,111 L648.2,111.12 L648.7,111.23 L649.2,111.33 L649.7,111.44 L650.2,111.54 L650.7,111.65 L651.2,111.77 L651.7,111.89 L652.2,112.02 L652.7,112.16 L653.2,112.3 L653.7,112.46 L654.2,112.63 L654.7,112.84 L655.2,113.08 L655.7,113.34 L656.2,113.61 L656.7,113.9 L657.2,114.18 L657.7,114.45 L658.2,114.71 L658.7,114.94 L659.2,115.15 L659.7,115.34 L660.2,115.53 L660.7,115.7 L661.2,115.87 L661.7,116.04 L662.2,116.21 L662.7,116.31" stroke="#000" stroke-width="1.4" fill="none" stroke-linejoin="round"/>
<path d="M491.7,35.61V164.19" stroke="#959595" stroke-width="1.1" fill="none"/>
<path d="M491.7,35.61h3M491.7,57.04h3M491.7,78.47h3M491.7,99.9h3M491.7,121.33h3M491.7,142.76h3M491.7,164.19h3" stroke="#7a7a7a" stroke-width="1" fill="none"/>
<path d="M494.7,167.19H662.7" stroke="#959595" stroke-width="1.1" fill="none"/>
<path d="M494.7,167.19v-2.5M528.3,167.19v-2.5M561.9,167.19v-2.5M595.5,167.19v-2.5M629.1,167.19v-2.5M662.7,167.19v-2.5" stroke="#7a7a7a" stroke-width="1" fill="none"/>
<text x="489.1" y="37.81" class="tl" text-anchor="end">30</text>
<text x="489.1" y="59.24" class="tl" text-anchor="end">20</text>
<text x="489.1" y="80.67" class="tl" text-anchor="end">10</text>
<text x="489.1" y="102.1" class="tl" text-anchor="end">0</text>
<text x="489.1" y="123.53" class="tl" text-anchor="end">-10</text>
<text x="489.1" y="144.96" class="tl" text-anchor="end">-20</text>
<text x="489.1" y="166.39" class="tl" text-anchor="end">-30</text>
<text transform="translate(468.7,127) rotate(-90)" class="yl">Ankle (<tspan dx="2.0" dy="-2.2">&#176;</tspan><tspan dx="-0.5" dy="2.2">)</tspan></text>
<path d="M46.4,274.65 L46.9,274.61 L47.4,274.45 L47.9,274.29 L48.4,274.13 L48.9,273.97 L49.4,273.81 L49.9,273.65 L50.4,273.49 L50.9,273.34 L51.4,273.19 L51.9,273.04 L52.4,272.88 L52.9,272.72 L53.4,272.56 L53.9,272.4 L54.4,272.25 L54.9,272.1 L55.4,271.98 L55.9,271.87 L56.4,271.78 L56.9,271.71 L57.4,271.65 L57.9,271.59 L58.4,271.53 L58.9,271.48 L59.4,271.43 L59.9,271.38 L60.4,271.34 L60.9,271.31 L61.4,271.28 L61.9,271.26 L62.4,271.24 L62.9,271.24 L63.4,271.24 L63.9,271.25 L64.4,271.26 L64.9,271.28 L65.4,271.3 L65.9,271.32 L66.4,271.35 L66.9,271.37 L67.4,271.4 L67.9,271.43 L68.4,271.45 L68.9,271.47 L69.4,271.49 L69.9,271.51 L70.4,271.53 L70.9,271.55 L71.4,271.57 L71.9,271.59 L72.4,271.61 L72.9,271.63 L73.4,271.65 L73.9,271.67 L74.4,271.69 L74.9,271.71 L75.4,271.73 L75.9,271.76 L76.4,271.78 L76.9,271.8 L77.4,271.82 L77.9,271.85 L78.4,271.87 L78.9,271.9 L79.4,271.93 L79.9,271.96 L80.4,271.99 L80.9,272.03 L81.4,272.07 L81.9,272.12 L82.4,272.18 L82.9,272.27 L83.4,272.39 L83.9,272.52 L84.4,272.68 L84.9,272.84 L85.4,273.02 L85.9,273.2 L86.4,273.38 L86.9,273.56 L87.4,273.74 L87.9,273.91 L88.4,274.06 L88.9,274.21 L89.4,274.36 L89.9,274.5 L90.4,274.65 L90.9,274.8 L91.4,274.94 L91.9,275.09 L92.4,275.24 L92.9,275.39 L93.4,275.54 L93.9,275.7 L94.4,275.86 L94.9,276.02 L95.4,276.18 L95.9,276.35 L96.4,276.53 L96.9,276.71 L97.4,276.88 L97.9,277.06 L98.4,277.24 L98.9,277.41 L99.4,277.58 L99.9,277.75 L100.4,277.91 L100.9,278.06 L101.4,278.21 L101.9,278.36 L102.4,278.51 L102.9,278.66 L103.4,278.81 L103.9,278.96 L104.4,279.09 L104.9,279.23 L105.4,279.35 L105.9,279.46 L106.4,279.57 L106.9,279.66 L107.4,279.73 L107.9,279.8 L108.4,279.88 L108.9,279.95 L109.4,280.01 L109.9,280.08 L110.4,280.14 L110.9,280.19 L111.4,280.24 L111.9,280.28 L112.4,280.31 L112.9,280.33 L113.4,280.34 L113.9,280.34 L114.4,280.34 L114.9,280.34 L115.4,280.34 L115.9,280.34 L116.4,280.34 L116.9,280.34 L117.4,280.34 L117.9,280.34 L118.4,280.34 L118.9,280.34 L119.4,280.34 L119.9,280.34 L120.4,280.32 L120.9,280.27 L121.4,280.19 L121.9,280.1 L122.4,279.99 L122.9,279.87 L123.4,279.75 L123.9,279.63 L124.4,279.53 L124.9,279.44 L125.4,279.37 L125.9,279.34 L126.4,279.33 L126.9,279.36 L127.4,279.42 L127.9,279.51 L128.4,279.62 L128.9,279.76 L129.4,279.93 L129.9,280.11 L130.4,280.32 L130.9,280.54 L131.4,280.77 L131.9,281.02 L132.4,281.28 L132.9,281.55 L133.4,281.83 L133.9,282.11 L134.4,282.4 L134.9,282.69 L135.4,282.98 L135.9,283.27 L136.4,283.55 L136.9,283.83 L137.4,284.1 L137.9,284.35 L138.4,284.6 L138.9,284.84 L139.4,285.05 L139.9,285.25 L140.4,285.43 L140.9,285.59 L141.4,285.73 L141.9,285.84 L142.4,285.92 L142.9,285.98 L143.4,286 L143.9,285.92 L144.4,285.61 L144.9,285.1 L145.4,284.44 L145.9,283.66 L146.4,282.81 L146.9,281.91 L147.4,281.02 L147.9,280.16 L148.4,279.33 L148.9,278.41 L149.4,277.43 L149.9,276.38 L150.4,275.29 L150.9,274.15 L151.4,273 L151.9,271.83 L152.4,270.66 L152.9,269.5 L153.4,268.35 L153.9,267.24 L154.4,266.18 L154.9,265.17 L155.4,264.22 L155.9,263.34 L156.4,262.51 L156.9,261.7 L157.4,260.91 L157.9,260.11 L158.4,259.29 L158.9,258.43 L159.4,257.52 L159.9,256.56 L160.4,255.57 L160.9,254.56 L161.4,253.54 L161.9,252.51 L162.4,251.48 L162.9,250.47 L163.4,249.47 L163.9,248.48 L164.4,247.48 L164.9,246.48 L165.4,245.48 L165.9,244.48 L166.4,243.48 L166.9,242.48 L167.4,241.48 L167.9,240.48 L168.4,239.47 L168.9,238.46 L169.4,237.44 L169.9,236.42 L170.4,235.4 L170.9,234.39 L171.4,233.38 L171.9,232.39 L172.4,231.42 L172.9,230.47 L173.4,229.53 L173.9,228.59 L174.4,227.65 L174.9,226.71 L175.4,225.79 L175.9,224.89 L176.4,224.02 L176.9,223.19 L177.4,222.4 L177.9,221.66 L178.4,220.96 L178.9,220.26 L179.4,219.58 L179.9,218.93 L180.4,218.33 L180.9,217.8 L181.4,217.34 L181.9,216.98 L182.4,216.66 L182.9,216.36 L183.4,216.07 L183.9,215.82 L184.4,215.61 L184.9,215.46 L185.4,215.38 L185.9,215.37 L186.4,215.42 L186.9,215.51 L187.4,215.63 L187.9,215.78 L188.4,215.96 L188.9,216.15 L189.4,216.36 L189.9,216.61 L190.4,216.97 L190.9,217.4 L191.4,217.91 L191.9,218.47 L192.4,219.08 L192.9,219.73 L193.4,220.4 L193.9,221.18 L194.4,222.09 L194.9,223.09 L195.4,224.15 L195.9,225.25 L196.4,226.37 L196.9,227.47 L197.4,228.56 L197.9,229.69 L198.4,230.85 L198.9,232.03 L199.4,233.22 L199.9,234.42 L200.4,235.61 L200.9,236.78 L201.4,237.94 L201.9,239.08 L202.4,240.22 L202.9,241.37 L203.4,242.53 L203.9,243.71 L204.4,244.92 L204.9,246.16 L205.4,247.45 L205.9,248.77 L206.4,250.11 L206.9,251.47 L207.4,252.83 L207.9,254.19 L208.4,255.53 L208.9,256.86 L209.4,258.19 L209.9,259.51 L210.4,260.84 L210.9,262.17 L211.4,263.5 L211.9,264.85 L212.4,266.21 L212.9,267.59 L213.4,268.98 L213.9,270.38 L214.4,271.77 L214.4,292 L213.9,291.65 L213.4,291.33 L212.9,291.03 L212.4,290.74 L211.9,290.44 L211.4,290.13 L210.9,289.78 L210.4,289.4 L209.9,288.96 L209.4,288.46 L208.9,287.87 L208.4,287.02 L207.9,285.9 L207.4,284.58 L206.9,283.16 L206.4,281.7 L205.9,280.01 L205.4,278.13 L204.9,276.29 L204.4,274.69 L203.9,273.19 L203.4,271.76 L202.9,270.42 L202.4,269.19 L201.9,268.06 L201.4,267.01 L200.9,266.01 L200.4,265.06 L199.9,264.17 L199.4,263.32 L198.9,262.51 L198.4,261.75 L197.9,261 L197.4,260.22 L196.9,259.46 L196.4,258.73 L195.9,258.08 L195.4,257.53 L194.9,257.11 L194.4,256.86 L193.9,256.68 L193.4,256.52 L192.9,256.38 L192.4,256.28 L191.9,256.22 L191.4,256.2 L190.9,256.29 L190.4,256.5 L189.9,256.79 L189.4,257.14 L188.9,257.53 L188.4,257.94 L187.9,258.36 L187.4,258.87 L186.9,259.46 L186.4,260.13 L185.9,260.85 L185.4,261.61 L184.9,262.4 L184.4,263.2 L183.9,264.07 L183.4,265.07 L182.9,266.14 L182.4,267.23 L181.9,268.31 L181.4,269.32 L180.9,270.23 L180.4,270.99 L179.9,271.68 L179.4,272.33 L178.9,272.94 L178.4,273.52 L177.9,274.07 L177.4,274.6 L176.9,275.11 L176.4,275.61 L175.9,276.1 L175.4,276.58 L174.9,277.05 L174.4,277.52 L173.9,277.97 L173.4,278.41 L172.9,278.84 L172.4,279.25 L171.9,279.65 L171.4,280.03 L170.9,280.39 L170.4,280.74 L169.9,281.06 L169.4,281.38 L168.9,281.68 L168.4,281.98 L167.9,282.27 L167.4,282.56 L166.9,282.84 L166.4,283.11 L165.9,283.37 L165.4,283.63 L164.9,283.88 L164.4,284.12 L163.9,284.36 L163.4,284.59 L162.9,284.82 L162.4,285.03 L161.9,285.25 L161.4,285.45 L160.9,285.65 L160.4,285.85 L159.9,286.04 L159.4,286.22 L158.9,286.4 L158.4,286.58 L157.9,286.75 L157.4,286.92 L156.9,287.08 L156.4,287.24 L155.9,287.39 L155.4,287.55 L154.9,287.69 L154.4,287.84 L153.9,287.98 L153.4,288.12 L152.9,288.26 L152.4,288.39 L151.9,288.52 L151.4,288.65 L150.9,288.78 L150.4,288.9 L149.9,289.02 L149.4,289.15 L148.9,289.28 L148.4,289.41 L147.9,289.54 L147.4,289.67 L146.9,289.81 L146.4,289.94 L145.9,290.08 L145.4,290.21 L144.9,290.34 L144.4,290.48 L143.9,290.61 L143.4,290.73 L142.9,290.86 L142.4,290.98 L141.9,291.1 L141.4,291.21 L140.9,291.32 L140.4,291.42 L139.9,291.51 L139.4,291.6 L138.9,291.68 L138.4,291.75 L137.9,291.82 L137.4,291.87 L136.9,291.92 L136.4,291.96 L135.9,291.98 L135.4,292 L134.9,292 L134.4,291.94 L133.9,291.81 L133.4,291.63 L132.9,291.41 L132.4,291.18 L131.9,290.95 L131.4,290.75 L130.9,290.59 L130.4,290.48 L129.9,290.45 L129.4,290.47 L128.9,290.51 L128.4,290.57 L127.9,290.65 L127.4,290.74 L126.9,290.85 L126.4,290.98 L125.9,291.11 L125.4,291.26 L124.9,291.41 L124.4,291.57 L123.9,291.74 L123.4,291.9 L122.9,292.07 L122.4,292.23 L121.9,292.4 L121.4,292.55 L120.9,292.7 L120.4,292.85 L119.9,292.98 L119.4,293.1 L118.9,293.23 L118.4,293.37 L117.9,293.5 L117.4,293.64 L116.9,293.78 L116.4,293.93 L115.9,294.07 L115.4,294.21 L114.9,294.35 L114.4,294.5 L113.9,294.64 L113.4,294.77 L112.9,294.91 L112.4,295.04 L111.9,295.17 L111.4,295.3 L110.9,295.42 L110.4,295.54 L109.9,295.65 L109.4,295.76 L108.9,295.86 L108.4,295.95 L107.9,296.04 L107.4,296.12 L106.9,296.19 L106.4,296.26 L105.9,296.33 L105.4,296.41 L104.9,296.48 L104.4,296.55 L103.9,296.62 L103.4,296.69 L102.9,296.75 L102.4,296.82 L101.9,296.88 L101.4,296.94 L100.9,297 L100.4,297.06 L99.9,297.11 L99.4,297.16 L98.9,297.2 L98.4,297.24 L97.9,297.28 L97.4,297.32 L96.9,297.34 L96.4,297.37 L95.9,297.39 L95.4,297.4 L94.9,297.4 L94.4,297.41 L93.9,297.4 L93.4,297.39 L92.9,297.37 L92.4,297.35 L91.9,297.32 L91.4,297.29 L90.9,297.25 L90.4,297.21 L89.9,297.16 L89.4,297.11 L88.9,297.06 L88.4,297 L87.9,296.94 L87.4,296.88 L86.9,296.82 L86.4,296.75 L85.9,296.68 L85.4,296.62 L84.9,296.55 L84.4,296.48 L83.9,296.41 L83.4,296.34 L82.9,296.27 L82.4,296.2 L81.9,296.14 L81.4,296.07 L80.9,295.99 L80.4,295.91 L79.9,295.82 L79.4,295.73 L78.9,295.63 L78.4,295.54 L77.9,295.43 L77.4,295.33 L76.9,295.22 L76.4,295.11 L75.9,295 L75.4,294.89 L74.9,294.78 L74.4,294.66 L73.9,294.55 L73.4,294.44 L72.9,294.33 L72.4,294.22 L71.9,294.12 L71.4,294.01 L70.9,293.91 L70.4,293.81 L69.9,293.72 L69.4,293.63 L68.9,293.54 L68.4,293.45 L67.9,293.36 L67.4,293.26 L66.9,293.17 L66.4,293.07 L65.9,292.97 L65.4,292.86 L64.9,292.76 L64.4,292.67 L63.9,292.57 L63.4,292.47 L62.9,292.38 L62.4,292.29 L61.9,292.21 L61.4,292.13 L60.9,292.05 L60.4,291.98 L59.9,291.92 L59.4,291.87 L58.9,291.82 L58.4,291.78 L57.9,291.75 L57.4,291.73 L56.9,291.72 L56.4,291.72 L55.9,291.72 L55.4,291.72 L54.9,291.72 L54.4,291.72 L53.9,291.72 L53.4,291.72 L52.9,291.72 L52.4,291.72 L51.9,291.72 L51.4,291.72 L50.9,291.72 L50.4,291.72 L49.9,291.72 L49.4,291.72 L48.9,291.72 L48.4,291.72 L47.9,291.72 L47.4,291.72 L46.9,291.72 L46.4,291.72Z" fill="#b0b0b0"/>
<path d="M46.4,285.4 L46.9,285.38 L47.4,285.32 L47.9,285.26 L48.4,285.2 L48.9,285.14 L49.4,285.08 L49.9,285.01 L50.4,284.95 L50.9,284.88 L51.4,284.8 L51.9,284.7 L52.4,284.58 L52.9,284.43 L53.4,284.27 L53.9,284.1 L54.4,283.93 L54.9,283.78 L55.4,283.65 L55.9,283.56 L56.4,283.51 L56.9,283.5 L57.4,283.5 L57.9,283.5 L58.4,283.5 L58.9,283.5 L59.4,283.5 L59.9,283.5 L60.4,283.5 L60.9,283.5 L61.4,283.5 L61.9,283.5 L62.4,283.5 L62.9,283.5 L63.4,283.52 L63.9,283.58 L64.4,283.67 L64.9,283.8 L65.4,283.95 L65.9,284.13 L66.4,284.31 L66.9,284.51 L67.4,284.71 L67.9,284.91 L68.4,285.1 L68.9,285.27 L69.4,285.43 L69.9,285.58 L70.4,285.74 L70.9,285.9 L71.4,286.06 L71.9,286.22 L72.4,286.37 L72.9,286.53 L73.4,286.68 L73.9,286.83 L74.4,286.97 L74.9,287.11 L75.4,287.24 L75.9,287.36 L76.4,287.47 L76.9,287.58 L77.4,287.68 L77.9,287.77 L78.4,287.87 L78.9,287.96 L79.4,288.05 L79.9,288.14 L80.4,288.24 L80.9,288.34 L81.4,288.44 L81.9,288.55 L82.4,288.67 L82.9,288.81 L83.4,288.97 L83.9,289.14 L84.4,289.32 L84.9,289.49 L85.4,289.65 L85.9,289.81 L86.4,289.94 L86.9,290.06 L87.4,290.14 L87.9,290.19 L88.4,290.2 L88.9,290.19 L89.4,290.17 L89.9,290.13 L90.4,290.08 L90.9,290.03 L91.4,289.96 L91.9,289.89 L92.4,289.82 L92.9,289.74 L93.4,289.65 L93.9,289.56 L94.4,289.47 L94.9,289.38 L95.4,289.27 L95.9,289.14 L96.4,288.99 L96.9,288.82 L97.4,288.65 L97.9,288.46 L98.4,288.27 L98.9,288.07 L99.4,287.88 L99.9,287.68 L100.4,287.48 L100.9,287.3 L101.4,287.11 L101.9,286.91 L102.4,286.7 L102.9,286.49 L103.4,286.28 L103.9,286.06 L104.4,285.85 L104.9,285.64 L105.4,285.43 L105.9,285.23 L106.4,285.05 L106.9,284.87 L107.4,284.71 L107.9,284.56 L108.4,284.41 L108.9,284.27 L109.4,284.13 L109.9,284 L110.4,283.87 L110.9,283.75 L111.4,283.62 L111.9,283.5 L112.4,283.39 L112.9,283.27 L113.4,283.16 L113.9,283.04 L114.4,282.94 L114.9,282.83 L115.4,282.74 L115.9,282.64 L116.4,282.54 L116.9,282.45 L117.4,282.35 L117.9,282.26 L118.4,282.16 L118.9,282.06 L119.4,281.96 L119.9,281.85 L120.4,281.75 L120.9,281.65 L121.4,281.55 L121.9,281.46 L122.4,281.36 L122.9,281.26 L123.4,281.16 L123.9,281.04 L124.4,280.92 L124.9,280.78 L125.4,280.63 L125.9,280.46 L126.4,280.25 L126.9,279.95 L127.4,279.56 L127.9,279.11 L128.4,278.62 L128.9,278.13 L129.4,277.67 L129.9,277.25 L130.4,276.9 L130.9,276.59 L131.4,276.31 L131.9,276.04 L132.4,275.77 L132.9,275.5 L133.4,275.21 L133.9,274.9 L134.4,274.55 L134.9,274.16 L135.4,273.68 L135.9,273.07 L136.4,272.34 L136.9,271.53 L137.4,270.67 L137.9,269.79 L138.4,268.92 L138.9,268.09 L139.4,267.33 L139.9,266.68 L140.4,266.14 L140.9,265.62 L141.4,265.11 L141.9,264.64 L142.4,264.21 L142.9,263.83 L143.4,263.52 L143.9,263.28 L144.4,263.08 L144.9,262.9 L145.4,262.72 L145.9,262.55 L146.4,262.4 L146.9,262.27 L147.4,262.17 L147.9,262.08 L148.4,262.03 L148.9,262.01 L149.4,262.01 L149.9,262.03 L150.4,262.05 L150.9,262.07 L151.4,262.11 L151.9,262.15 L152.4,262.2 L152.9,262.25 L153.4,262.31 L153.9,262.37 L154.4,262.45 L154.9,262.57 L155.4,262.72 L155.9,262.91 L156.4,263.13 L156.9,263.37 L157.4,263.62 L157.9,263.89 L158.4,264.16 L158.9,264.44 L159.4,264.72 L159.9,265.04 L160.4,265.41 L160.9,265.81 L161.4,266.22 L161.9,266.64 L162.4,267.06 L162.9,267.46 L163.4,267.84 L163.9,268.18 L164.4,268.48 L164.9,268.8 L165.4,269.12 L165.9,269.42 L166.4,269.7 L166.9,269.94 L167.4,270.11 L167.9,270.22 L168.4,270.28 L168.9,270.33 L169.4,270.37 L169.9,270.41 L170.4,270.44 L170.9,270.46 L171.4,270.48 L171.9,270.47 L172.4,270.37 L172.9,270.18 L173.4,269.91 L173.9,269.61 L174.4,269.3 L174.9,269.01 L175.4,268.76 L175.9,268.56 L176.4,268.36 L176.9,268.16 L177.4,267.97 L177.9,267.78 L178.4,267.6 L178.9,267.44 L179.4,267.3 L179.9,267.18 L180.4,267.09 L180.9,267.03 L181.4,266.97 L181.9,266.92 L182.4,266.86 L182.9,266.82 L183.4,266.78 L183.9,266.74 L184.4,266.72 L184.9,266.7 L185.4,266.69 L185.9,266.69 L186.4,266.72 L186.9,266.77 L187.4,266.85 L187.9,266.94 L188.4,267.05 L188.9,267.18 L189.4,267.31 L189.9,267.46 L190.4,267.61 L190.9,267.76 L191.4,267.96 L191.9,268.21 L192.4,268.49 L192.9,268.81 L193.4,269.15 L193.9,269.51 L194.4,269.88 L194.9,270.25 L195.4,270.6 L195.9,270.95 L196.4,271.31 L196.9,271.68 L197.4,272.06 L197.9,272.45 L198.4,272.84 L198.9,273.23 L199.4,273.61 L199.9,273.99 L200.4,274.36 L200.9,274.7 L201.4,275.03 L201.9,275.35 L202.4,275.66 L202.9,275.96 L203.4,276.26 L203.9,276.56 L204.4,276.86 L204.9,277.17 L205.4,277.49 L205.9,277.82 L206.4,278.17 L206.9,278.53 L207.4,278.9 L207.9,279.28 L208.4,279.67 L208.9,280.05 L209.4,280.44 L209.9,280.82 L210.4,281.2 L210.9,281.57 L211.4,281.94 L211.9,282.3 L212.4,282.65 L212.9,283.01 L213.4,283.36 L213.9,283.72 L214.4,284.07 L214.4,300.57 L213.9,300.57 L213.4,300.57 L212.9,300.57 L212.4,300.57 L211.9,300.57 L211.4,300.57 L210.9,300.57 L210.4,300.57 L209.9,300.57 L209.4,300.57 L208.9,300.57 L208.4,300.57 L207.9,300.57 L207.4,300.57 L206.9,300.57 L206.4,300.57 L205.9,300.57 L205.4,300.57 L204.9,300.57 L204.4,300.57 L203.9,300.57 L203.4,300.57 L202.9,300.57 L202.4,300.57 L201.9,300.57 L201.4,300.57 L200.9,300.57 L200.4,300.57 L199.9,300.57 L199.4,300.57 L198.9,300.57 L198.4,300.57 L197.9,300.57 L197.4,300.57 L196.9,300.56 L196.4,300.51 L195.9,300.4 L195.4,300.26 L194.9,300.08 L194.4,299.89 L193.9,299.61 L193.4,299.23 L192.9,298.77 L192.4,298.27 L191.9,297.77 L191.4,297.31 L190.9,296.9 L190.4,296.58 L189.9,296.25 L189.4,295.92 L188.9,295.6 L188.4,295.3 L187.9,295.01 L187.4,294.76 L186.9,294.55 L186.4,294.39 L185.9,294.28 L185.4,294.22 L184.9,294.18 L184.4,294.14 L183.9,294.11 L183.4,294.08 L182.9,294.05 L182.4,294.03 L181.9,294.01 L181.4,294 L180.9,293.99 L180.4,293.99 L179.9,294.02 L179.4,294.06 L178.9,294.12 L178.4,294.21 L177.9,294.3 L177.4,294.41 L176.9,294.53 L176.4,294.66 L175.9,294.8 L175.4,294.94 L174.9,295.08 L174.4,295.22 L173.9,295.36 L173.4,295.53 L172.9,295.71 L172.4,295.91 L171.9,296.12 L171.4,296.35 L170.9,296.58 L170.4,296.82 L169.9,297.07 L169.4,297.31 L168.9,297.56 L168.4,297.83 L167.9,298.12 L167.4,298.42 L166.9,298.73 L166.4,299.02 L165.9,299.3 L165.4,299.56 L164.9,299.81 L164.4,300.05 L163.9,300.3 L163.4,300.53 L162.9,300.74 L162.4,300.94 L161.9,301.11 L161.4,301.26 L160.9,301.39 L160.4,301.52 L159.9,301.64 L159.4,301.75 L158.9,301.86 L158.4,301.96 L157.9,302.05 L157.4,302.14 L156.9,302.23 L156.4,302.3 L155.9,302.38 L155.4,302.45 L154.9,302.51 L154.4,302.57 L153.9,302.63 L153.4,302.68 L152.9,302.73 L152.4,302.78 L151.9,302.83 L151.4,302.87 L150.9,302.92 L150.4,302.96 L149.9,303.01 L149.4,303.05 L148.9,303.1 L148.4,303.15 L147.9,303.2 L147.4,303.25 L146.9,303.29 L146.4,303.34 L145.9,303.39 L145.4,303.44 L144.9,303.49 L144.4,303.54 L143.9,303.59 L143.4,303.64 L142.9,303.7 L142.4,303.76 L141.9,303.82 L141.4,303.88 L140.9,303.95 L140.4,304.01 L139.9,304.08 L139.4,304.16 L138.9,304.23 L138.4,304.3 L137.9,304.38 L137.4,304.45 L136.9,304.53 L136.4,304.6 L135.9,304.67 L135.4,304.74 L134.9,304.8 L134.4,304.85 L133.9,304.91 L133.4,304.97 L132.9,305.04 L132.4,305.11 L131.9,305.19 L131.4,305.28 L130.9,305.39 L130.4,305.51 L129.9,305.66 L129.4,305.97 L128.9,306.48 L128.4,307.1 L127.9,307.76 L127.4,308.4 L126.9,308.95 L126.4,309.33 L125.9,309.52 L125.4,309.67 L124.9,309.8 L124.4,309.92 L123.9,310.02 L123.4,310.11 L122.9,310.19 L122.4,310.27 L121.9,310.34 L121.4,310.42 L120.9,310.5 L120.4,310.58 L119.9,310.68 L119.4,310.78 L118.9,310.88 L118.4,310.99 L117.9,311.1 L117.4,311.21 L116.9,311.32 L116.4,311.43 L115.9,311.54 L115.4,311.64 L114.9,311.73 L114.4,311.82 L113.9,311.9 L113.4,311.96 L112.9,312.03 L112.4,312.1 L111.9,312.17 L111.4,312.24 L110.9,312.3 L110.4,312.36 L109.9,312.42 L109.4,312.47 L108.9,312.51 L108.4,312.54 L107.9,312.56 L107.4,312.57 L106.9,312.58 L106.4,312.58 L105.9,312.58 L105.4,312.58 L104.9,312.58 L104.4,312.58 L103.9,312.58 L103.4,312.58 L102.9,312.58 L102.4,312.58 L101.9,312.58 L101.4,312.58 L100.9,312.58 L100.4,312.57 L99.9,312.55 L99.4,312.52 L98.9,312.48 L98.4,312.44 L97.9,312.38 L97.4,312.32 L96.9,312.26 L96.4,312.19 L95.9,312.12 L95.4,312.05 L94.9,311.99 L94.4,311.92 L93.9,311.84 L93.4,311.76 L92.9,311.67 L92.4,311.57 L91.9,311.47 L91.4,311.36 L90.9,311.25 L90.4,311.14 L89.9,311.03 L89.4,310.92 L88.9,310.81 L88.4,310.71 L87.9,310.61 L87.4,310.51 L86.9,310.42 L86.4,310.32 L85.9,310.23 L85.4,310.13 L84.9,310.04 L84.4,309.94 L83.9,309.84 L83.4,309.74 L82.9,309.63 L82.4,309.52 L81.9,309.41 L81.4,309.28 L80.9,309.15 L80.4,309.01 L79.9,308.86 L79.4,308.71 L78.9,308.55 L78.4,308.39 L77.9,308.23 L77.4,308.07 L76.9,307.92 L76.4,307.76 L75.9,307.6 L75.4,307.45 L74.9,307.3 L74.4,307.15 L73.9,307 L73.4,306.85 L72.9,306.7 L72.4,306.55 L71.9,306.4 L71.4,306.25 L70.9,306.1 L70.4,305.95 L69.9,305.8 L69.4,305.65 L68.9,305.5 L68.4,305.36 L67.9,305.21 L67.4,305.06 L66.9,304.91 L66.4,304.77 L65.9,304.62 L65.4,304.47 L64.9,304.32 L64.4,304.17 L63.9,304.02 L63.4,303.86 L62.9,303.7 L62.4,303.54 L61.9,303.37 L61.4,303.19 L60.9,303.02 L60.4,302.85 L59.9,302.68 L59.4,302.53 L58.9,302.38 L58.4,302.22 L57.9,302.06 L57.4,301.89 L56.9,301.73 L56.4,301.58 L55.9,301.44 L55.4,301.33 L54.9,301.25 L54.4,301.21 L53.9,301.22 L53.4,301.38 L52.9,301.66 L52.4,302.01 L51.9,302.38 L51.4,302.72 L50.9,302.98 L50.4,303.09 L49.9,303.06 L49.4,302.94 L48.9,302.77 L48.4,302.55 L47.9,302.32 L47.4,302.08 L46.9,301.87 L46.4,301.83Z" fill="#000" fill-opacity="0.2"/>
<path d="M47.5,285.31V302.13M50,285V303.07M52.5,284.55V301.94M55,283.75V301.26M57.5,283.5V301.92M60,283.5V302.72M62.5,283.5V303.57M65,283.83V304.35M67.5,284.75V305.09M70,285.61V305.83M72.5,286.41V306.58M75,287.14V307.33M77.5,287.7V308.11M80,288.16V308.89M82.5,288.7V309.55M85,289.52V310.06M87.5,290.15V310.53M90,290.12V311.05M92.5,289.8V311.59M95,289.36V312M97.5,288.61V312.33M100,287.64V312.55M102.5,286.66V312.58M105,285.6V312.58M107.5,284.68V312.57M110,283.97V312.41M112.5,283.36V312.09M115,282.81V311.71M117.5,282.34V311.19M120,281.83V310.66M122.5,281.34V310.25M125,280.75V309.78M127.5,279.48V308.28M130,277.18V305.62M132.5,275.72V305.09M135,274.07V304.78M137.5,270.49V304.44M140,266.56V304.07M142.5,264.13V303.74M145,262.86V303.48M147.5,262.15V303.24M150,262.03V303M152.5,262.21V302.77M155,262.59V302.5M157.5,263.67V302.12M160,265.12V301.62M162.5,267.14V300.9M165,268.86V299.76M167.5,270.14V298.36M170,270.42V297.02M172.5,270.34V295.87M175,268.95V295.05M177.5,267.93V294.39M180,267.16V294.01M182.5,266.85V294.03M185,266.7V294.19M187.5,266.86V294.81M190,267.49V296.32M192.5,268.56V298.37M195,270.32V300.12M197.5,272.13V300.57M200,274.07V300.57M202.5,275.72V300.57M205,277.23V300.57M207.5,278.98V300.57M210,280.9V300.57M212.5,282.72V300.57" stroke="#333333" stroke-width="1" fill="none"/>
<line x1="46.4" y1="300.5" x2="214.4" y2="300.5" stroke="#000" stroke-opacity="0.55" stroke-width="1"/>
<path d="M46.4,293.61 L46.9,293.63 L47.4,293.7 L47.9,293.79 L48.4,293.87 L48.9,293.96 L49.4,294.04 L49.9,294.12 L50.4,294.18 L50.9,294.22 L51.4,294.24 L51.9,294.24 L52.4,294.19 L52.9,294.1 L53.4,293.99 L53.9,293.86 L54.4,293.72 L54.9,293.59 L55.4,293.46 L55.9,293.35 L56.4,293.26 L56.9,293.21 L57.4,293.16 L57.9,293.11 L58.4,293.07 L58.9,293.04 L59.4,293.01 L59.9,292.99 L60.4,292.98 L60.9,293.02 L61.4,293.13 L61.9,293.3 L62.4,293.5 L62.9,293.72 L63.4,293.94 L63.9,294.14 L64.4,294.29 L64.9,294.43 L65.4,294.56 L65.9,294.68 L66.4,294.8 L66.9,294.92 L67.4,295.04 L67.9,295.16 L68.4,295.28 L68.9,295.4 L69.4,295.54 L69.9,295.68 L70.4,295.83 L70.9,295.98 L71.4,296.14 L71.9,296.3 L72.4,296.46 L72.9,296.62 L73.4,296.78 L73.9,296.94 L74.4,297.08 L74.9,297.22 L75.4,297.35 L75.9,297.47 L76.4,297.59 L76.9,297.69 L77.4,297.8 L77.9,297.9 L78.4,298 L78.9,298.09 L79.4,298.19 L79.9,298.28 L80.4,298.37 L80.9,298.47 L81.4,298.56 L81.9,298.66 L82.4,298.76 L82.9,298.87 L83.4,298.99 L83.9,299.11 L84.4,299.22 L84.9,299.34 L85.4,299.45 L85.9,299.56 L86.4,299.66 L86.9,299.75 L87.4,299.83 L87.9,299.9 L88.4,299.95 L88.9,299.99 L89.4,300.04 L89.9,300.08 L90.4,300.12 L90.9,300.16 L91.4,300.19 L91.9,300.23 L92.4,300.25 L92.9,300.28 L93.4,300.29 L93.9,300.31 L94.4,300.31 L94.9,300.31 L95.4,300.3 L95.9,300.27 L96.4,300.24 L96.9,300.2 L97.4,300.15 L97.9,300.09 L98.4,300.03 L98.9,299.97 L99.4,299.9 L99.9,299.83 L100.4,299.76 L100.9,299.68 L101.4,299.6 L101.9,299.5 L102.4,299.39 L102.9,299.26 L103.4,299.12 L103.9,298.98 L104.4,298.83 L104.9,298.68 L105.4,298.53 L105.9,298.38 L106.4,298.24 L106.9,298.12 L107.4,298 L107.9,297.89 L108.4,297.79 L108.9,297.69 L109.4,297.59 L109.9,297.49 L110.4,297.4 L110.9,297.3 L111.4,297.21 L111.9,297.11 L112.4,297.01 L112.9,296.91 L113.4,296.81 L113.9,296.7 L114.4,296.59 L114.9,296.48 L115.4,296.37 L115.9,296.26 L116.4,296.14 L116.9,296.03 L117.4,295.91 L117.9,295.79 L118.4,295.66 L118.9,295.53 L119.4,295.39 L119.9,295.25 L120.4,295.1 L120.9,294.94 L121.4,294.77 L121.9,294.59 L122.4,294.41 L122.9,294.22 L123.4,294.03 L123.9,293.84 L124.4,293.64 L124.9,293.45 L125.4,293.27 L125.9,293.09 L126.4,292.92 L126.9,292.75 L127.4,292.6 L127.9,292.45 L128.4,292.29 L128.9,292.13 L129.4,291.95 L129.9,291.76 L130.4,291.54 L130.9,291.3 L131.4,291.03 L131.9,290.75 L132.4,290.45 L132.9,290.13 L133.4,289.81 L133.9,289.48 L134.4,289.15 L134.9,288.82 L135.4,288.5 L135.9,288.18 L136.4,287.88 L136.9,287.57 L137.4,287.24 L137.9,286.9 L138.4,286.56 L138.9,286.22 L139.4,285.88 L139.9,285.55 L140.4,285.24 L140.9,284.94 L141.4,284.67 L141.9,284.43 L142.4,284.22 L142.9,284.05 L143.4,283.87 L143.9,283.7 L144.4,283.53 L144.9,283.37 L145.4,283.22 L145.9,283.08 L146.4,282.95 L146.9,282.84 L147.4,282.75 L147.9,282.68 L148.4,282.63 L148.9,282.62 L149.4,282.62 L149.9,282.62 L150.4,282.63 L150.9,282.65 L151.4,282.66 L151.9,282.68 L152.4,282.7 L152.9,282.73 L153.4,282.75 L153.9,282.78 L154.4,282.81 L154.9,282.84 L155.4,282.88 L155.9,282.92 L156.4,282.98 L156.9,283.05 L157.4,283.13 L157.9,283.22 L158.4,283.32 L158.9,283.41 L159.4,283.51 L159.9,283.61 L160.4,283.7 L160.9,283.78 L161.4,283.85 L161.9,283.91 L162.4,283.98 L162.9,284.05 L163.4,284.11 L163.9,284.18 L164.4,284.24 L164.9,284.29 L165.4,284.33 L165.9,284.37 L166.4,284.38 L166.9,284.38 L167.4,284.34 L167.9,284.27 L168.4,284.17 L168.9,284.04 L169.4,283.89 L169.9,283.73 L170.4,283.57 L170.9,283.4 L171.4,283.23 L171.9,283.07 L172.4,282.88 L172.9,282.67 L173.4,282.43 L173.9,282.19 L174.4,281.94 L174.9,281.69 L175.4,281.47 L175.9,281.26 L176.4,281.08 L176.9,280.95 L177.4,280.82 L177.9,280.7 L178.4,280.58 L178.9,280.46 L179.4,280.36 L179.9,280.27 L180.4,280.19 L180.9,280.13 L181.4,280.1 L181.9,280.09 L182.4,280.09 L182.9,280.11 L183.4,280.15 L183.9,280.19 L184.4,280.24 L184.9,280.3 L185.4,280.36 L185.9,280.43 L186.4,280.51 L186.9,280.59 L187.4,280.69 L187.9,280.84 L188.4,281.03 L188.9,281.24 L189.4,281.48 L189.9,281.74 L190.4,282.01 L190.9,282.29 L191.4,282.56 L191.9,282.83 L192.4,283.1 L192.9,283.41 L193.4,283.73 L193.9,284.07 L194.4,284.41 L194.9,284.76 L195.4,285.09 L195.9,285.41 L196.4,285.7 L196.9,285.97 L197.4,286.2 L197.9,286.42 L198.4,286.63 L198.9,286.83 L199.4,287.02 L199.9,287.21 L200.4,287.38 L200.9,287.55 L201.4,287.71 L201.9,287.87 L202.4,288.01 L202.9,288.15 L203.4,288.27 L203.9,288.38 L204.4,288.49 L204.9,288.6 L205.4,288.71 L205.9,288.83 L206.4,288.96 L206.9,289.11 L207.4,289.28 L207.9,289.47 L208.4,289.69 L208.9,289.93 L209.4,290.18 L209.9,290.45 L210.4,290.72 L210.9,291 L211.4,291.28 L211.9,291.55 L212.4,291.82 L212.9,292.09 L213.4,292.37 L213.9,292.65 L214.4,292.94" stroke="#000" stroke-width="1.4" fill="none" stroke-linejoin="round"/>
<path d="M43.4,196.5V326" stroke="#959595" stroke-width="1.1" fill="none"/>
<path d="M43.4,196.5h3M43.4,222.4h3M43.4,248.3h3M43.4,274.2h3M43.4,300.1h3M43.4,326h3" stroke="#7a7a7a" stroke-width="1" fill="none"/>
<path d="M46.4,329H214.4" stroke="#959595" stroke-width="1.1" fill="none"/>
<path d="M46.4,329v-2.5M80,329v-2.5M113.6,329v-2.5M147.2,329v-2.5M180.8,329v-2.5M214.4,329v-2.5" stroke="#7a7a7a" stroke-width="1" fill="none"/>
<text x="40.8" y="198.7" class="tl" text-anchor="end">80</text>
<text x="40.8" y="224.6" class="tl" text-anchor="end">60</text>
<text x="40.8" y="250.5" class="tl" text-anchor="end">40</text>
<text x="40.8" y="276.4" class="tl" text-anchor="end">20</text>
<text x="40.8" y="302.3" class="tl" text-anchor="end">0</text>
<text x="40.8" y="328.2" class="tl" text-anchor="end">-20</text>
<text transform="translate(22.2,284.7) rotate(-90)" class="yl">Knee (<tspan dx="2.0" dy="-2.2">&#176;</tspan><tspan dx="-0.5" dy="2.2">)</tspan></text>
<path d="M270.5,267.7 L271,267.77 L271.5,267.93 L272,268.11 L272.5,268.28 L273,268.46 L273.5,268.63 L274,268.79 L274.5,268.94 L275,269.08 L275.5,269.2 L276,269.3 L276.5,269.39 L277,269.47 L277.5,269.54 L278,269.62 L278.5,269.68 L279,269.75 L279.5,269.82 L280,269.88 L280.5,269.95 L281,270.02 L281.5,270.1 L282,270.17 L282.5,270.25 L283,270.32 L283.5,270.39 L284,270.47 L284.5,270.54 L285,270.61 L285.5,270.67 L286,270.74 L286.5,270.8 L287,270.86 L287.5,270.92 L288,270.97 L288.5,271.03 L289,271.08 L289.5,271.13 L290,271.17 L290.5,271.22 L291,271.27 L291.5,271.32 L292,271.36 L292.5,271.41 L293,271.46 L293.5,271.51 L294,271.56 L294.5,271.6 L295,271.65 L295.5,271.69 L296,271.74 L296.5,271.78 L297,271.83 L297.5,271.88 L298,271.93 L298.5,271.99 L299,272.04 L299.5,272.11 L300,272.18 L300.5,272.25 L301,272.33 L301.5,272.41 L302,272.5 L302.5,272.59 L303,272.69 L303.5,272.8 L304,272.91 L304.5,273.02 L305,273.15 L305.5,273.27 L306,273.4 L306.5,273.55 L307,273.72 L307.5,273.9 L308,274.1 L308.5,274.31 L309,274.53 L309.5,274.75 L310,274.97 L310.5,275.19 L311,275.41 L311.5,275.62 L312,275.82 L312.5,276 L313,276.18 L313.5,276.36 L314,276.54 L314.5,276.71 L315,276.88 L315.5,277.05 L316,277.22 L316.5,277.39 L317,277.55 L317.5,277.71 L318,277.88 L318.5,278.04 L319,278.2 L319.5,278.36 L320,278.51 L320.5,278.67 L321,278.83 L321.5,278.99 L322,279.14 L322.5,279.29 L323,279.44 L323.5,279.58 L324,279.72 L324.5,279.85 L325,279.98 L325.5,280.11 L326,280.24 L326.5,280.37 L327,280.5 L327.5,280.62 L328,280.75 L328.5,280.86 L329,280.97 L329.5,281.07 L330,281.17 L330.5,281.25 L331,281.32 L331.5,281.38 L332,281.44 L332.5,281.5 L333,281.55 L333.5,281.61 L334,281.66 L334.5,281.71 L335,281.75 L335.5,281.78 L336,281.81 L336.5,281.84 L337,281.85 L337.5,281.86 L338,281.85 L338.5,281.81 L339,281.75 L339.5,281.68 L340,281.58 L340.5,281.47 L341,281.36 L341.5,281.23 L342,281.1 L342.5,280.96 L343,280.82 L343.5,280.69 L344,280.56 L344.5,280.42 L345,280.26 L345.5,280.09 L346,279.91 L346.5,279.72 L347,279.53 L347.5,279.34 L348,279.15 L348.5,278.97 L349,278.79 L349.5,278.64 L350,278.5 L350.5,278.37 L351,278.26 L351.5,278.15 L352,278.05 L352.5,277.96 L353,277.87 L353.5,277.79 L354,277.71 L354.5,277.64 L355,277.57 L355.5,277.5 L356,277.44 L356.5,277.38 L357,277.32 L357.5,277.26 L358,277.21 L358.5,277.15 L359,277.09 L359.5,277.04 L360,276.98 L360.5,276.93 L361,276.87 L361.5,276.81 L362,276.74 L362.5,276.68 L363,276.61 L363.5,276.53 L364,276.45 L364.5,276.37 L365,276.28 L365.5,276.19 L366,276.09 L366.5,275.98 L367,275.86 L367.5,275.74 L368,275.61 L368.5,275.47 L369,275.32 L369.5,275.17 L370,275 L370.5,274.77 L371,274.42 L371.5,273.98 L372,273.47 L372.5,272.91 L373,272.32 L373.5,271.71 L374,271.11 L374.5,270.53 L375,270 L375.5,269.51 L376,269.05 L376.5,268.6 L377,268.16 L377.5,267.71 L378,267.26 L378.5,266.78 L379,266.27 L379.5,265.73 L380,265.14 L380.5,264.49 L381,263.75 L381.5,262.87 L382,261.89 L382.5,260.83 L383,259.73 L383.5,258.63 L384,257.55 L384.5,256.54 L385,255.54 L385.5,254.54 L386,253.54 L386.5,252.54 L387,251.54 L387.5,250.54 L388,249.54 L388.5,248.54 L389,247.53 L389.5,246.51 L390,245.5 L390.5,244.49 L391,243.5 L391.5,242.51 L392,241.55 L392.5,240.6 L393,239.66 L393.5,238.73 L394,237.81 L394.5,236.9 L395,236 L395.5,235.12 L396,234.24 L396.5,233.36 L397,232.49 L397.5,231.62 L398,230.77 L398.5,229.95 L399,229.17 L399.5,228.43 L400,227.73 L400.5,227.04 L401,226.37 L401.5,225.73 L402,225.12 L402.5,224.55 L403,224.03 L403.5,223.54 L404,223.06 L404.5,222.59 L405,222.14 L405.5,221.73 L406,221.36 L406.5,221.06 L407,220.84 L407.5,220.68 L408,220.54 L408.5,220.41 L409,220.3 L409.5,220.22 L410,220.18 L410.5,220.18 L411,220.26 L411.5,220.41 L412,220.62 L412.5,220.87 L413,221.14 L413.5,221.43 L414,221.71 L414.5,221.97 L415,222.2 L415.5,222.43 L416,222.67 L416.5,222.9 L417,223.14 L417.5,223.39 L418,223.64 L418.5,223.9 L419,224.17 L419.5,224.44 L420,224.73 L420.5,225.01 L421,225.29 L421.5,225.58 L422,225.89 L422.5,226.24 L423,226.63 L423.5,227.07 L424,227.6 L424.5,228.25 L425,229.01 L425.5,229.86 L426,230.78 L426.5,231.75 L427,232.74 L427.5,233.74 L428,234.83 L428.5,236.01 L429,237.26 L429.5,238.56 L430,239.89 L430.5,241.23 L431,242.54 L431.5,243.84 L432,245.14 L432.5,246.45 L433,247.78 L433.5,249.12 L434,250.46 L434.5,251.83 L435,253.2 L435.5,254.6 L436,256.01 L436.5,257.44 L437,258.88 L437.5,260.33 L438,261.77 L438.5,263.15 L438.5,285.4 L438,285.06 L437.5,284.73 L437,284.4 L436.5,284.07 L436,283.72 L435.5,283.34 L435,282.92 L434.5,282.46 L434,281.98 L433.5,281.45 L433,280.86 L432.5,280.2 L432,279.44 L431.5,278.52 L431,277.24 L430.5,275.77 L430,274.33 L429.5,273.03 L429,271.73 L428.5,270.45 L428,269.21 L427.5,268.03 L427,266.91 L426.5,265.81 L426,264.74 L425.5,263.69 L425,262.69 L424.5,261.74 L424,260.85 L423.5,260.02 L423,259.2 L422.5,258.39 L422,257.59 L421.5,256.85 L421,256.18 L420.5,255.62 L420,255.2 L419.5,254.92 L419,254.66 L418.5,254.43 L418,254.22 L417.5,254.05 L417,253.91 L416.5,253.83 L416,253.79 L415.5,253.85 L415,254.03 L414.5,254.31 L414,254.66 L413.5,255.08 L413,255.53 L412.5,256.01 L412,256.5 L411.5,257.11 L411,257.84 L410.5,258.67 L410,259.58 L409.5,260.52 L409,261.48 L408.5,262.43 L408,263.37 L407.5,264.38 L407,265.41 L406.5,266.44 L406,267.43 L405.5,268.34 L405,269.21 L404.5,270.07 L404,270.9 L403.5,271.72 L403,272.52 L402.5,273.32 L402,274.11 L401.5,274.9 L401,275.69 L400.5,276.46 L400,277.23 L399.5,277.99 L399,278.74 L398.5,279.48 L398,280.21 L397.5,280.91 L397,281.6 L396.5,282.29 L396,282.98 L395.5,283.66 L395,284.34 L394.5,285 L394,285.63 L393.5,286.25 L393,286.83 L392.5,287.37 L392,287.87 L391.5,288.34 L391,288.8 L390.5,289.25 L390,289.68 L389.5,290.1 L389,290.49 L388.5,290.84 L388,291.16 L387.5,291.44 L387,291.67 L386.5,291.86 L386,292.04 L385.5,292.2 L385,292.35 L384.5,292.5 L384,292.63 L383.5,292.75 L383,292.87 L382.5,292.98 L382,293.09 L381.5,293.19 L381,293.29 L380.5,293.38 L380,293.48 L379.5,293.57 L379,293.67 L378.5,293.77 L378,293.87 L377.5,293.97 L377,294.07 L376.5,294.17 L376,294.28 L375.5,294.38 L375,294.48 L374.5,294.58 L374,294.67 L373.5,294.77 L373,294.86 L372.5,294.95 L372,295.03 L371.5,295.11 L371,295.18 L370.5,295.24 L370,295.31 L369.5,295.36 L369,295.41 L368.5,295.44 L368,295.47 L367.5,295.49 L367,295.51 L366.5,295.51 L366,295.5 L365.5,295.47 L365,295.42 L364.5,295.36 L364,295.3 L363.5,295.22 L363,295.13 L362.5,295.03 L362,294.93 L361.5,294.82 L361,294.71 L360.5,294.6 L360,294.49 L359.5,294.38 L359,294.27 L358.5,294.16 L358,294.06 L357.5,293.97 L357,293.88 L356.5,293.81 L356,293.74 L355.5,293.69 L355,293.65 L354.5,293.62 L354,293.61 L353.5,293.61 L353,293.61 L352.5,293.61 L352,293.61 L351.5,293.61 L351,293.61 L350.5,293.61 L350,293.61 L349.5,293.63 L349,293.65 L348.5,293.68 L348,293.73 L347.5,293.78 L347,293.83 L346.5,293.89 L346,293.96 L345.5,294.03 L345,294.1 L344.5,294.16 L344,294.23 L343.5,294.3 L343,294.37 L342.5,294.46 L342,294.55 L341.5,294.65 L341,294.76 L340.5,294.87 L340,294.99 L339.5,295.11 L339,295.23 L338.5,295.35 L338,295.48 L337.5,295.6 L337,295.72 L336.5,295.84 L336,295.96 L335.5,296.08 L335,296.19 L334.5,296.29 L334,296.39 L333.5,296.48 L333,296.56 L332.5,296.64 L332,296.7 L331.5,296.75 L331,296.79 L330.5,296.83 L330,296.87 L329.5,296.91 L329,296.95 L328.5,296.98 L328,297.02 L327.5,297.05 L327,297.09 L326.5,297.12 L326,297.15 L325.5,297.18 L325,297.21 L324.5,297.24 L324,297.26 L323.5,297.29 L323,297.31 L322.5,297.33 L322,297.35 L321.5,297.36 L321,297.38 L320.5,297.39 L320,297.39 L319.5,297.4 L319,297.4 L318.5,297.41 L318,297.39 L317.5,297.36 L317,297.31 L316.5,297.25 L316,297.17 L315.5,297.07 L315,296.97 L314.5,296.85 L314,296.72 L313.5,296.59 L313,296.44 L312.5,296.29 L312,296.14 L311.5,295.98 L311,295.81 L310.5,295.65 L310,295.48 L309.5,295.31 L309,295.15 L308.5,294.99 L308,294.83 L307.5,294.68 L307,294.53 L306.5,294.39 L306,294.26 L305.5,294.13 L305,294 L304.5,293.86 L304,293.72 L303.5,293.57 L303,293.42 L302.5,293.27 L302,293.12 L301.5,292.97 L301,292.81 L300.5,292.66 L300,292.51 L299.5,292.37 L299,292.22 L298.5,292.09 L298,291.95 L297.5,291.82 L297,291.7 L296.5,291.59 L296,291.48 L295.5,291.39 L295,291.3 L294.5,291.22 L294,291.16 L293.5,291.1 L293,291.06 L292.5,291.02 L292,290.98 L291.5,290.94 L291,290.9 L290.5,290.86 L290,290.83 L289.5,290.79 L289,290.76 L288.5,290.73 L288,290.7 L287.5,290.67 L287,290.64 L286.5,290.61 L286,290.59 L285.5,290.57 L285,290.54 L284.5,290.53 L284,290.51 L283.5,290.49 L283,290.48 L282.5,290.47 L282,290.46 L281.5,290.46 L281,290.45 L280.5,290.45 L280,290.48 L279.5,290.53 L279,290.61 L278.5,290.72 L278,290.85 L277.5,290.99 L277,291.16 L276.5,291.34 L276,291.53 L275.5,291.72 L275,291.93 L274.5,292.14 L274,292.36 L273.5,292.57 L273,292.78 L272.5,292.98 L272,293.18 L271.5,293.37 L271,293.54 L270.5,293.61Z" fill="#b0b0b0"/>
<path d="M270.5,284.13 L271,284.13 L271.5,284.13 L272,284.13 L272.5,284.13 L273,284.13 L273.5,284.13 L274,284.13 L274.5,284.13 L275,284.13 L275.5,284.13 L276,284.14 L276.5,284.15 L277,284.18 L277.5,284.21 L278,284.25 L278.5,284.29 L279,284.32 L279.5,284.35 L280,284.37 L280.5,284.38 L281,284.38 L281.5,284.38 L282,284.38 L282.5,284.38 L283,284.38 L283.5,284.38 L284,284.38 L284.5,284.38 L285,284.38 L285.5,284.38 L286,284.38 L286.5,284.38 L287,284.38 L287.5,284.39 L288,284.42 L288.5,284.46 L289,284.51 L289.5,284.57 L290,284.64 L290.5,284.72 L291,284.8 L291.5,284.88 L292,284.96 L292.5,285.03 L293,285.1 L293.5,285.17 L294,285.23 L294.5,285.3 L295,285.36 L295.5,285.43 L296,285.5 L296.5,285.56 L297,285.63 L297.5,285.7 L298,285.78 L298.5,285.85 L299,285.93 L299.5,286.01 L300,286.09 L300.5,286.18 L301,286.27 L301.5,286.37 L302,286.47 L302.5,286.57 L303,286.68 L303.5,286.78 L304,286.89 L304.5,287 L305,287.1 L305.5,287.2 L306,287.3 L306.5,287.41 L307,287.52 L307.5,287.64 L308,287.75 L308.5,287.87 L309,287.99 L309.5,288.1 L310,288.2 L310.5,288.3 L311,288.39 L311.5,288.47 L312,288.53 L312.5,288.58 L313,288.62 L313.5,288.67 L314,288.71 L314.5,288.75 L315,288.79 L315.5,288.82 L316,288.85 L316.5,288.88 L317,288.9 L317.5,288.92 L318,288.93 L318.5,288.94 L319,288.94 L319.5,288.94 L320,288.94 L320.5,288.94 L321,288.94 L321.5,288.94 L322,288.94 L322.5,288.94 L323,288.94 L323.5,288.94 L324,288.94 L324.5,288.94 L325,288.94 L325.5,288.92 L326,288.88 L326.5,288.83 L327,288.76 L327.5,288.68 L328,288.58 L328.5,288.49 L329,288.38 L329.5,288.27 L330,288.17 L330.5,288.06 L331,287.97 L331.5,287.88 L332,287.79 L332.5,287.7 L333,287.61 L333.5,287.51 L334,287.42 L334.5,287.32 L335,287.22 L335.5,287.12 L336,287.01 L336.5,286.9 L337,286.79 L337.5,286.67 L338,286.55 L338.5,286.42 L339,286.29 L339.5,286.15 L340,286.01 L340.5,285.86 L341,285.71 L341.5,285.55 L342,285.39 L342.5,285.23 L343,285.06 L343.5,284.89 L344,284.72 L344.5,284.56 L345,284.4 L345.5,284.25 L346,284.1 L346.5,283.94 L347,283.77 L347.5,283.59 L348,283.39 L348.5,283.18 L349,282.94 L349.5,282.67 L350,282.37 L350.5,282 L351,281.44 L351.5,280.73 L352,279.9 L352.5,279.02 L353,278.14 L353.5,277.3 L354,276.55 L354.5,275.87 L355,275.21 L355.5,274.56 L356,273.93 L356.5,273.31 L357,272.69 L357.5,272.09 L358,271.48 L358.5,270.89 L359,270.3 L359.5,269.69 L360,269.06 L360.5,268.41 L361,267.77 L361.5,267.13 L362,266.53 L362.5,265.96 L363,265.44 L363.5,264.99 L364,264.61 L364.5,264.3 L365,263.99 L365.5,263.69 L366,263.41 L366.5,263.15 L367,262.91 L367.5,262.71 L368,262.55 L368.5,262.45 L369,262.39 L369.5,262.39 L370,262.4 L370.5,262.41 L371,262.43 L371.5,262.45 L372,262.48 L372.5,262.51 L373,262.55 L373.5,262.58 L374,262.62 L374.5,262.67 L375,262.72 L375.5,262.8 L376,262.89 L376.5,262.99 L377,263.1 L377.5,263.22 L378,263.34 L378.5,263.46 L379,263.58 L379.5,263.7 L380,263.83 L380.5,263.96 L381,264.09 L381.5,264.23 L382,264.38 L382.5,264.53 L383,264.69 L383.5,264.86 L384,265.04 L384.5,265.23 L385,265.43 L385.5,265.66 L386,265.9 L386.5,266.15 L387,266.42 L387.5,266.69 L388,266.96 L388.5,267.23 L389,267.49 L389.5,267.74 L390,268.02 L390.5,268.33 L391,268.66 L391.5,268.99 L392,269.31 L392.5,269.61 L393,269.86 L393.5,270.06 L394,270.18 L394.5,270.23 L395,270.23 L395.5,270.23 L396,270.23 L396.5,270.23 L397,270.23 L397.5,270.23 L398,270.23 L398.5,270.22 L399,270.15 L399.5,270.01 L400,269.83 L400.5,269.61 L401,269.37 L401.5,269.12 L402,268.87 L402.5,268.64 L403,268.44 L403.5,268.28 L404,268.12 L404.5,267.95 L405,267.78 L405.5,267.62 L406,267.47 L406.5,267.33 L407,267.22 L407.5,267.13 L408,267.08 L408.5,267.07 L409,267.11 L409.5,267.2 L410,267.34 L410.5,267.51 L411,267.72 L411.5,267.95 L412,268.2 L412.5,268.46 L413,268.73 L413.5,268.99 L414,269.31 L414.5,269.68 L415,270.11 L415.5,270.57 L416,271.03 L416.5,271.49 L417,271.93 L417.5,272.33 L418,272.73 L418.5,273.12 L419,273.5 L419.5,273.89 L420,274.27 L420.5,274.64 L421,275 L421.5,275.36 L422,275.71 L422.5,276.06 L423,276.39 L423.5,276.72 L424,277.05 L424.5,277.37 L425,277.69 L425.5,277.99 L426,278.3 L426.5,278.59 L427,278.88 L427.5,279.16 L428,279.43 L428.5,279.7 L429,279.96 L429.5,280.21 L430,280.46 L430.5,280.71 L431,280.95 L431.5,281.18 L432,281.42 L432.5,281.64 L433,281.87 L433.5,282.09 L434,282.3 L434.5,282.51 L435,282.72 L435.5,282.92 L436,283.12 L436.5,283.32 L437,283.53 L437.5,283.73 L438,283.93 L438.5,284.13 L438.5,303.09 L438,302.67 L437.5,302.19 L437,301.75 L436.5,301.37 L436,301.1 L435.5,300.88 L435,300.69 L434.5,300.53 L434,300.38 L433.5,300.24 L433,300.1 L432.5,299.96 L432,299.82 L431.5,299.68 L431,299.55 L430.5,299.43 L430,299.31 L429.5,299.19 L429,299.07 L428.5,298.95 L428,298.83 L427.5,298.71 L427,298.58 L426.5,298.46 L426,298.34 L425.5,298.23 L425,298.11 L424.5,297.99 L424,297.87 L423.5,297.74 L423,297.61 L422.5,297.47 L422,297.31 L421.5,297.15 L421,296.97 L420.5,296.79 L420,296.6 L419.5,296.4 L419,296.2 L418.5,296 L418,295.8 L417.5,295.61 L417,295.42 L416.5,295.23 L416,295.05 L415.5,294.86 L415,294.67 L414.5,294.48 L414,294.3 L413.5,294.11 L413,293.92 L412.5,293.73 L412,293.55 L411.5,293.34 L411,293.13 L410.5,292.92 L410,292.7 L409.5,292.48 L409,292.28 L408.5,292.1 L408,291.94 L407.5,291.8 L407,291.69 L406.5,291.6 L406,291.51 L405.5,291.42 L405,291.34 L404.5,291.27 L404,291.21 L403.5,291.15 L403,291.12 L402.5,291.09 L402,291.09 L401.5,291.1 L401,291.12 L400.5,291.16 L400,291.21 L399.5,291.28 L399,291.35 L398.5,291.43 L398,291.52 L397.5,291.62 L397,291.72 L396.5,291.84 L396,292.02 L395.5,292.23 L395,292.48 L394.5,292.75 L394,293.04 L393.5,293.33 L393,293.63 L392.5,293.93 L392,294.21 L391.5,294.49 L391,294.8 L390.5,295.11 L390,295.44 L389.5,295.77 L389,296.11 L388.5,296.44 L388,296.76 L387.5,297.07 L387,297.36 L386.5,297.63 L386,297.87 L385.5,298.08 L385,298.27 L384.5,298.44 L384,298.6 L383.5,298.75 L383,298.89 L382.5,299.03 L382,299.16 L381.5,299.29 L381,299.42 L380.5,299.56 L380,299.71 L379.5,299.87 L379,300.03 L378.5,300.2 L378,300.36 L377.5,300.53 L377,300.7 L376.5,300.87 L376,301.06 L375.5,301.26 L375,301.47 L374.5,301.7 L374,301.95 L373.5,302.26 L373,302.61 L372.5,303 L372,303.41 L371.5,303.84 L371,304.26 L370.5,304.67 L370,305.06 L369.5,305.42 L369,305.73 L368.5,306.05 L368,306.38 L367.5,306.72 L367,307.05 L366.5,307.35 L366,307.63 L365.5,307.85 L365,308.02 L364.5,308.13 L364,308.15 L363.5,308.14 L363,308.1 L362.5,308.06 L362,308 L361.5,307.93 L361,307.85 L360.5,307.77 L360,307.68 L359.5,307.59 L359,307.51 L358.5,307.41 L358,307.3 L357.5,307.17 L357,307.04 L356.5,306.9 L356,306.76 L355.5,306.62 L355,306.48 L354.5,306.36 L354,306.25 L353.5,306.15 L353,306.04 L352.5,305.93 L352,305.82 L351.5,305.74 L351,305.67 L350.5,305.63 L350,305.63 L349.5,305.67 L349,305.76 L348.5,305.88 L348,306.03 L347.5,306.21 L347,306.4 L346.5,306.6 L346,306.8 L345.5,307 L345,307.18 L344.5,307.35 L344,307.49 L343.5,307.61 L343,307.72 L342.5,307.83 L342,307.93 L341.5,308.03 L341,308.13 L340.5,308.22 L340,308.32 L339.5,308.41 L339,308.51 L338.5,308.6 L338,308.7 L337.5,308.79 L337,308.9 L336.5,309 L336,309.11 L335.5,309.22 L335,309.34 L334.5,309.45 L334,309.55 L333.5,309.66 L333,309.76 L332.5,309.85 L332,309.93 L331.5,310.01 L331,310.08 L330.5,310.15 L330,310.22 L329.5,310.29 L329,310.35 L328.5,310.42 L328,310.48 L327.5,310.53 L327,310.58 L326.5,310.62 L326,310.65 L325.5,310.67 L325,310.68 L324.5,310.68 L324,310.68 L323.5,310.68 L323,310.68 L322.5,310.68 L322,310.68 L321.5,310.68 L321,310.68 L320.5,310.68 L320,310.68 L319.5,310.68 L319,310.68 L318.5,310.68 L318,310.67 L317.5,310.65 L317,310.62 L316.5,310.58 L316,310.53 L315.5,310.48 L315,310.42 L314.5,310.35 L314,310.29 L313.5,310.22 L313,310.15 L312.5,310.08 L312,310.01 L311.5,309.93 L311,309.85 L310.5,309.76 L310,309.66 L309.5,309.55 L309,309.45 L308.5,309.34 L308,309.22 L307.5,309.11 L307,309 L306.5,308.9 L306,308.79 L305.5,308.7 L305,308.6 L304.5,308.51 L304,308.41 L303.5,308.32 L303,308.22 L302.5,308.13 L302,308.03 L301.5,307.93 L301,307.83 L300.5,307.72 L300,307.61 L299.5,307.49 L299,307.36 L298.5,307.23 L298,307.09 L297.5,306.94 L297,306.79 L296.5,306.63 L296,306.47 L295.5,306.31 L295,306.15 L294.5,306 L294,305.84 L293.5,305.68 L293,305.53 L292.5,305.37 L292,305.2 L291.5,305.03 L291,304.86 L290.5,304.68 L290,304.51 L289.5,304.35 L289,304.19 L288.5,304.05 L288,303.93 L287.5,303.82 L287,303.73 L286.5,303.66 L286,303.59 L285.5,303.53 L285,303.47 L284.5,303.41 L284,303.36 L283.5,303.31 L283,303.27 L282.5,303.23 L282,303.19 L281.5,303.15 L281,303.12 L280.5,303.08 L280,303.05 L279.5,303.02 L279,302.98 L278.5,302.95 L278,302.92 L277.5,302.89 L277,302.87 L276.5,302.85 L276,302.84 L275.5,302.84 L275,302.85 L274.5,302.86 L274,302.89 L273.5,302.92 L273,302.95 L272.5,302.98 L272,303.02 L271.5,303.05 L271,303.08 L270.5,303.09Z" fill="#000" fill-opacity="0.2"/>
<path d="M271.6,284.13V303.05M274.1,284.13V302.88M276.6,284.16V302.86M279.1,284.33V302.99M281.6,284.38V303.16M284.1,284.38V303.37M286.6,284.38V303.67M289.1,284.52V304.22M291.6,284.89V305.06M294.1,285.25V305.87M296.6,285.58V306.66M299.1,285.94V307.39M301.6,286.39V307.95M304.1,286.91V308.43M306.6,287.43V308.92M309.1,288.01V309.47M311.6,288.48V309.95M314.1,288.72V310.3M316.6,288.89V310.59M319.1,288.94V310.68M321.6,288.94V310.68M324.1,288.94V310.68M326.6,288.82V310.61M329.1,288.36V310.34M331.6,287.86V310M334.1,287.4V309.53M336.6,286.88V308.98M339.1,286.26V308.49M341.6,285.52V308.01M344.1,284.69V307.46M346.6,283.9V306.56M349.1,282.89V305.74M351.6,280.57V305.75M354.1,276.41V306.27M356.6,273.18V306.93M359.1,270.18V307.53M361.6,267.01V307.94M364.1,264.55V308.15M366.6,263.1V307.29M369.1,262.39V305.67M371.6,262.46V303.75M374.1,262.63V301.9M376.6,263.01V300.84M379.1,263.61V300M381.6,264.26V299.26M384.1,265.08V298.57M386.6,266.21V297.58M389.1,267.54V296.04M391.6,269.06V294.44M394.1,270.2V292.98M396.6,270.23V291.81M399.1,270.12V291.34M401.6,269.07V291.09M404.1,268.08V291.22M406.6,267.3V291.62M409.1,267.12V292.32M411.6,268V293.39M414.1,269.38V294.33M416.6,271.58V295.27M419.1,273.58V296.24M421.6,275.43V297.18M424.1,277.11V297.89M426.6,278.65V298.49M429.1,280.01V299.09M431.6,281.23V299.71M434.1,282.34V300.41M436.6,283.36V301.43" stroke="#333333" stroke-width="1" fill="none"/>
<line x1="270.5" y1="300.5" x2="438.5" y2="300.5" stroke="#000" stroke-opacity="0.55" stroke-width="1"/>
<path d="M270.5,293.61 L271,293.6 L271.5,293.55 L272,293.5 L272.5,293.45 L273,293.39 L273.5,293.35 L274,293.3 L274.5,293.27 L275,293.24 L275.5,293.23 L276,293.23 L276.5,293.23 L277,293.23 L277.5,293.23 L278,293.23 L278.5,293.23 L279,293.23 L279.5,293.23 L280,293.23 L280.5,293.23 L281,293.24 L281.5,293.26 L282,293.29 L282.5,293.34 L283,293.4 L283.5,293.47 L284,293.54 L284.5,293.62 L285,293.7 L285.5,293.78 L286,293.85 L286.5,293.93 L287,294 L287.5,294.06 L288,294.12 L288.5,294.19 L289,294.25 L289.5,294.31 L290,294.38 L290.5,294.44 L291,294.51 L291.5,294.58 L292,294.66 L292.5,294.74 L293,294.82 L293.5,294.92 L294,295.02 L294.5,295.13 L295,295.25 L295.5,295.38 L296,295.52 L296.5,295.66 L297,295.8 L297.5,295.94 L298,296.09 L298.5,296.23 L299,296.36 L299.5,296.49 L300,296.62 L300.5,296.74 L301,296.86 L301.5,296.98 L302,297.1 L302.5,297.22 L303,297.34 L303.5,297.46 L304,297.58 L304.5,297.69 L305,297.81 L305.5,297.93 L306,298.05 L306.5,298.18 L307,298.3 L307.5,298.43 L308,298.57 L308.5,298.7 L309,298.83 L309.5,298.96 L310,299.09 L310.5,299.2 L311,299.32 L311.5,299.42 L312,299.51 L312.5,299.59 L313,299.67 L313.5,299.76 L314,299.84 L314.5,299.92 L315,300 L315.5,300.07 L316,300.14 L316.5,300.19 L317,300.24 L317.5,300.28 L318,300.3 L318.5,300.31 L319,300.31 L319.5,300.31 L320,300.31 L320.5,300.31 L321,300.31 L321.5,300.31 L322,300.31 L322.5,300.31 L323,300.31 L323.5,300.31 L324,300.31 L324.5,300.31 L325,300.31 L325.5,300.3 L326,300.28 L326.5,300.24 L327,300.19 L327.5,300.13 L328,300.06 L328.5,299.99 L329,299.91 L329.5,299.83 L330,299.75 L330.5,299.67 L331,299.59 L331.5,299.51 L332,299.43 L332.5,299.35 L333,299.25 L333.5,299.16 L334,299.06 L334.5,298.96 L335,298.85 L335.5,298.74 L336,298.63 L336.5,298.52 L337,298.41 L337.5,298.3 L338,298.19 L338.5,298.09 L339,297.98 L339.5,297.87 L340,297.75 L340.5,297.64 L341,297.52 L341.5,297.4 L342,297.28 L342.5,297.15 L343,297.02 L343.5,296.88 L344,296.74 L344.5,296.59 L345,296.44 L345.5,296.28 L346,296.12 L346.5,295.95 L347,295.78 L347.5,295.6 L348,295.41 L348.5,295.22 L349,295.02 L349.5,294.81 L350,294.59 L350.5,294.36 L351,294.11 L351.5,293.84 L352,293.55 L352.5,293.26 L353,292.95 L353.5,292.65 L354,292.35 L354.5,292.05 L355,291.74 L355.5,291.44 L356,291.12 L356.5,290.81 L357,290.49 L357.5,290.17 L358,289.86 L358.5,289.54 L359,289.23 L359.5,288.91 L360,288.58 L360.5,288.25 L361,287.92 L361.5,287.59 L362,287.27 L362.5,286.95 L363,286.65 L363.5,286.36 L364,286.09 L364.5,285.84 L365,285.59 L365.5,285.35 L366,285.12 L366.5,284.9 L367,284.68 L367.5,284.48 L368,284.29 L368.5,284.1 L369,283.94 L369.5,283.78 L370,283.63 L370.5,283.49 L371,283.36 L371.5,283.24 L372,283.12 L372.5,283 L373,282.89 L373.5,282.78 L374,282.67 L374.5,282.56 L375,282.44 L375.5,282.32 L376,282.19 L376.5,282.07 L377,281.96 L377.5,281.85 L378,281.76 L378.5,281.69 L379,281.63 L379.5,281.59 L380,281.56 L380.5,281.53 L381,281.5 L381.5,281.47 L382,281.44 L382.5,281.42 L383,281.4 L383.5,281.38 L384,281.37 L384.5,281.36 L385,281.35 L385.5,281.35 L386,281.35 L386.5,281.35 L387,281.35 L387.5,281.35 L388,281.35 L388.5,281.35 L389,281.35 L389.5,281.35 L390,281.35 L390.5,281.35 L391,281.35 L391.5,281.35 L392,281.35 L392.5,281.34 L393,281.32 L393.5,281.3 L394,281.26 L394.5,281.22 L395,281.17 L395.5,281.12 L396,281.07 L396.5,281.02 L397,280.97 L397.5,280.92 L398,280.87 L398.5,280.81 L399,280.74 L399.5,280.68 L400,280.61 L400.5,280.54 L401,280.48 L401.5,280.41 L402,280.35 L402.5,280.28 L403,280.2 L403.5,280.12 L404,280.04 L404.5,279.96 L405,279.88 L405.5,279.82 L406,279.76 L406.5,279.73 L407,279.71 L407.5,279.72 L408,279.78 L408.5,279.87 L409,280 L409.5,280.14 L410,280.3 L410.5,280.46 L411,280.62 L411.5,280.8 L412,281 L412.5,281.23 L413,281.48 L413.5,281.75 L414,282.02 L414.5,282.3 L415,282.59 L415.5,282.86 L416,283.14 L416.5,283.41 L417,283.7 L417.5,283.99 L418,284.29 L418.5,284.59 L419,284.89 L419.5,285.19 L420,285.48 L420.5,285.75 L421,286.01 L421.5,286.26 L422,286.5 L422.5,286.73 L423,286.96 L423.5,287.18 L424,287.4 L424.5,287.62 L425,287.83 L425.5,288.05 L426,288.27 L426.5,288.48 L427,288.7 L427.5,288.92 L428,289.14 L428.5,289.35 L429,289.57 L429.5,289.78 L430,289.99 L430.5,290.19 L431,290.39 L431.5,290.59 L432,290.78 L432.5,290.95 L433,291.13 L433.5,291.3 L434,291.48 L434.5,291.66 L435,291.84 L435.5,292.04 L436,292.26 L436.5,292.49 L437,292.76 L437.5,293.04 L438,293.34 L438.5,293.61" stroke="#000" stroke-width="1.4" fill="none" stroke-linejoin="round"/>
<path d="M267.5,196.5V326" stroke="#959595" stroke-width="1.1" fill="none"/>
<path d="M267.5,196.5h3M267.5,222.4h3M267.5,248.3h3M267.5,274.2h3M267.5,300.1h3M267.5,326h3" stroke="#7a7a7a" stroke-width="1" fill="none"/>
<path d="M270.5,329H438.5" stroke="#959595" stroke-width="1.1" fill="none"/>
<path d="M270.5,329v-2.5M304.1,329v-2.5M337.7,329v-2.5M371.3,329v-2.5M404.9,329v-2.5M438.5,329v-2.5" stroke="#7a7a7a" stroke-width="1" fill="none"/>
<text x="264.9" y="198.7" class="tl" text-anchor="end">80</text>
<text x="264.9" y="224.6" class="tl" text-anchor="end">60</text>
<text x="264.9" y="250.5" class="tl" text-anchor="end">40</text>
<text x="264.9" y="276.4" class="tl" text-anchor="end">20</text>
<text x="264.9" y="302.3" class="tl" text-anchor="end">0</text>
<text x="264.9" y="328.2" class="tl" text-anchor="end">-20</text>
<text transform="translate(246.4,284.7) rotate(-90)" class="yl">Knee (<tspan dx="2.0" dy="-2.2">&#176;</tspan><tspan dx="-0.5" dy="2.2">)</tspan></text>
<path d="M494.7,272.12 L495.2,272.07 L495.7,272 L496.2,271.94 L496.7,271.88 L497.2,271.81 L497.7,271.75 L498.2,271.68 L498.7,271.62 L499.2,271.55 L499.7,271.47 L500.2,271.38 L500.7,271.28 L501.2,271.17 L501.7,271.06 L502.2,270.97 L502.7,270.9 L503.2,270.86 L503.7,270.86 L504.2,270.9 L504.7,270.95 L505.2,271.03 L505.7,271.13 L506.2,271.23 L506.7,271.35 L507.2,271.46 L507.7,271.58 L508.2,271.69 L508.7,271.8 L509.2,271.91 L509.7,272.02 L510.2,272.15 L510.7,272.27 L511.2,272.4 L511.7,272.54 L512.2,272.67 L512.7,272.81 L513.2,272.95 L513.7,273.09 L514.2,273.23 L514.7,273.37 L515.2,273.51 L515.7,273.65 L516.2,273.79 L516.7,273.93 L517.2,274.07 L517.7,274.22 L518.2,274.37 L518.7,274.52 L519.2,274.67 L519.7,274.83 L520.2,274.99 L520.7,275.15 L521.2,275.32 L521.7,275.5 L522.2,275.69 L522.7,275.88 L523.2,276.08 L523.7,276.29 L524.2,276.5 L524.7,276.71 L525.2,276.92 L525.7,277.13 L526.2,277.33 L526.7,277.53 L527.2,277.73 L527.7,277.92 L528.2,278.11 L528.7,278.29 L529.2,278.48 L529.7,278.66 L530.2,278.84 L530.7,279.02 L531.2,279.2 L531.7,279.37 L532.2,279.55 L532.7,279.72 L533.2,279.9 L533.7,280.07 L534.2,280.25 L534.7,280.42 L535.2,280.59 L535.7,280.76 L536.2,280.93 L536.7,281.1 L537.2,281.27 L537.7,281.44 L538.2,281.61 L538.7,281.78 L539.2,281.94 L539.7,282.11 L540.2,282.28 L540.7,282.46 L541.2,282.63 L541.7,282.81 L542.2,282.99 L542.7,283.16 L543.2,283.34 L543.7,283.51 L544.2,283.69 L544.7,283.85 L545.2,284.02 L545.7,284.18 L546.2,284.33 L546.7,284.48 L547.2,284.63 L547.7,284.78 L548.2,284.92 L548.7,285.07 L549.2,285.21 L549.7,285.35 L550.2,285.48 L550.7,285.61 L551.2,285.73 L551.7,285.84 L552.2,285.94 L552.7,286.03 L553.2,286.11 L553.7,286.2 L554.2,286.28 L554.7,286.37 L555.2,286.44 L555.7,286.51 L556.2,286.57 L556.7,286.62 L557.2,286.65 L557.7,286.66 L558.2,286.65 L558.7,286.6 L559.2,286.52 L559.7,286.41 L560.2,286.28 L560.7,286.13 L561.2,285.97 L561.7,285.8 L562.2,285.62 L562.7,285.44 L563.2,285.25 L563.7,285.01 L564.2,284.73 L564.7,284.42 L565.2,284.09 L565.7,283.74 L566.2,283.39 L566.7,283.03 L567.2,282.68 L567.7,282.35 L568.2,282.03 L568.7,281.71 L569.2,281.37 L569.7,281.03 L570.2,280.7 L570.7,280.37 L571.2,280.04 L571.7,279.74 L572.2,279.45 L572.7,279.19 L573.2,278.96 L573.7,278.73 L574.2,278.52 L574.7,278.31 L575.2,278.11 L575.7,277.92 L576.2,277.73 L576.7,277.56 L577.2,277.38 L577.7,277.22 L578.2,277.06 L578.7,276.9 L579.2,276.75 L579.7,276.61 L580.2,276.47 L580.7,276.33 L581.2,276.2 L581.7,276.06 L582.2,275.94 L582.7,275.81 L583.2,275.69 L583.7,275.56 L584.2,275.44 L584.7,275.32 L585.2,275.2 L585.7,275.08 L586.2,274.96 L586.7,274.83 L587.2,274.71 L587.7,274.58 L588.2,274.46 L588.7,274.33 L589.2,274.2 L589.7,274.06 L590.2,273.92 L590.7,273.78 L591.2,273.63 L591.7,273.48 L592.2,273.32 L592.7,273.16 L593.2,272.99 L593.7,272.82 L594.2,272.64 L594.7,272.45 L595.2,272.26 L595.7,272.05 L596.2,271.84 L596.7,271.63 L597.2,271.4 L597.7,271.16 L598.2,270.91 L598.7,270.66 L599.2,270.39 L599.7,270.11 L600.2,269.77 L600.7,269.36 L601.2,268.9 L601.7,268.4 L602.2,267.87 L602.7,267.31 L603.2,266.74 L603.7,266.17 L604.2,265.6 L604.7,265.04 L605.2,264.51 L605.7,264.02 L606.2,263.57 L606.7,263.14 L607.2,262.72 L607.7,262.31 L608.2,261.9 L608.7,261.47 L609.2,261.02 L609.7,260.54 L610.2,260.03 L610.7,259.49 L611.2,258.94 L611.7,258.36 L612.2,257.77 L612.7,257.16 L613.2,256.55 L613.7,255.92 L614.2,255.28 L614.7,254.64 L615.2,254 L615.7,253.35 L616.2,252.7 L616.7,252.05 L617.2,251.38 L617.7,250.71 L618.2,250.03 L618.7,249.33 L619.2,248.64 L619.7,247.93 L620.2,247.21 L620.7,246.49 L621.2,245.76 L621.7,245.03 L622.2,244.29 L622.7,243.53 L623.2,242.76 L623.7,241.97 L624.2,241.17 L624.7,240.36 L625.2,239.55 L625.7,238.73 L626.2,237.91 L626.7,237.09 L627.2,236.28 L627.7,235.47 L628.2,234.68 L628.7,233.9 L629.2,233.12 L629.7,232.32 L630.2,231.52 L630.7,230.72 L631.2,229.94 L631.7,229.17 L632.2,228.43 L632.7,227.72 L633.2,227.05 L633.7,226.43 L634.2,225.82 L634.7,225.2 L635.2,224.59 L635.7,224 L636.2,223.44 L636.7,222.91 L637.2,222.44 L637.7,222.03 L638.2,221.69 L638.7,221.44 L639.2,221.23 L639.7,221.04 L640.2,220.86 L640.7,220.71 L641.2,220.58 L641.7,220.48 L642.2,220.43 L642.7,220.43 L643.2,220.53 L643.7,220.72 L644.2,221 L644.7,221.34 L645.2,221.73 L645.7,222.16 L646.2,222.61 L646.7,223.16 L647.2,223.92 L647.7,224.86 L648.2,225.93 L648.7,227.08 L649.2,228.26 L649.7,229.42 L650.2,230.52 L650.7,231.62 L651.2,232.74 L651.7,233.89 L652.2,235.05 L652.7,236.24 L653.2,237.45 L653.7,238.68 L654.2,239.94 L654.7,241.25 L655.2,242.6 L655.7,243.97 L656.2,245.35 L656.7,246.71 L657.2,248.03 L657.7,249.3 L658.2,250.55 L658.7,251.78 L659.2,252.99 L659.7,254.18 L660.2,255.34 L660.7,256.46 L661.2,257.54 L661.7,258.55 L662.2,259.47 L662.7,259.99 L662.7,284.1 L662.2,283.78 L661.7,283.47 L661.2,283.17 L660.7,282.86 L660.2,282.55 L659.7,282.21 L659.2,281.84 L658.7,281.44 L658.2,281.01 L657.7,280.57 L657.2,280.09 L656.7,279.57 L656.2,279 L655.7,278.36 L655.2,277.65 L654.7,276.77 L654.2,275.61 L653.7,274.24 L653.2,272.78 L652.7,271.32 L652.2,269.95 L651.7,268.78 L651.2,267.7 L650.7,266.65 L650.2,265.64 L649.7,264.67 L649.2,263.77 L648.7,262.94 L648.2,262.2 L647.7,261.51 L647.2,260.83 L646.7,260.18 L646.2,259.58 L645.7,259.04 L645.2,258.57 L644.7,258.18 L644.2,257.89 L643.7,257.62 L643.2,257.36 L642.7,257.12 L642.2,256.91 L641.7,256.73 L641.2,256.6 L640.7,256.52 L640.2,256.5 L639.7,256.53 L639.2,256.59 L638.7,256.69 L638.2,256.81 L637.7,256.96 L637.2,257.13 L636.7,257.31 L636.2,257.5 L635.7,257.73 L635.2,258.04 L634.7,258.41 L634.2,258.86 L633.7,259.37 L633.2,259.95 L632.7,260.59 L632.2,261.33 L631.7,262.51 L631.2,263.99 L630.7,265.55 L630.2,266.95 L629.7,267.96 L629.2,268.67 L628.7,269.35 L628.2,270.17 L627.7,271.08 L627.2,272.03 L626.7,272.95 L626.2,273.8 L625.7,274.54 L625.2,275.24 L624.7,275.9 L624.2,276.53 L623.7,277.13 L623.2,277.72 L622.7,278.31 L622.2,278.89 L621.7,279.49 L621.2,280.09 L620.7,280.72 L620.2,281.35 L619.7,282 L619.2,282.65 L618.7,283.29 L618.2,283.93 L617.7,284.57 L617.2,285.19 L616.7,285.79 L616.2,286.37 L615.7,286.93 L615.2,287.49 L614.7,288.05 L614.2,288.61 L613.7,289.15 L613.2,289.68 L612.7,290.18 L612.2,290.66 L611.7,291.09 L611.2,291.49 L610.7,291.84 L610.2,292.19 L609.7,292.54 L609.2,292.89 L608.7,293.23 L608.2,293.57 L607.7,293.89 L607.2,294.19 L606.7,294.48 L606.2,294.73 L605.7,294.96 L605.2,295.16 L604.7,295.31 L604.2,295.43 L603.7,295.49 L603.2,295.51 L602.7,295.51 L602.2,295.5 L601.7,295.49 L601.2,295.48 L600.7,295.47 L600.2,295.45 L599.7,295.43 L599.2,295.41 L598.7,295.39 L598.2,295.37 L597.7,295.34 L597.2,295.31 L596.7,295.28 L596.2,295.25 L595.7,295.22 L595.2,295.19 L594.7,295.16 L594.2,295.12 L593.7,295.09 L593.2,295.05 L592.7,295.02 L592.2,294.98 L591.7,294.95 L591.2,294.91 L590.7,294.88 L590.2,294.85 L589.7,294.82 L589.2,294.78 L588.7,294.75 L588.2,294.72 L587.7,294.68 L587.2,294.65 L586.7,294.62 L586.2,294.58 L585.7,294.54 L585.2,294.5 L584.7,294.46 L584.2,294.42 L583.7,294.37 L583.2,294.32 L582.7,294.27 L582.2,294.22 L581.7,294.16 L581.2,294.1 L580.7,294.04 L580.2,293.97 L579.7,293.9 L579.2,293.82 L578.7,293.74 L578.2,293.65 L577.7,293.54 L577.2,293.33 L576.7,293.06 L576.2,292.76 L575.7,292.47 L575.2,292.21 L574.7,292.04 L574.2,291.97 L573.7,291.97 L573.2,291.99 L572.7,292 L572.2,292.03 L571.7,292.06 L571.2,292.09 L570.7,292.13 L570.2,292.16 L569.7,292.2 L569.2,292.24 L568.7,292.29 L568.2,292.32 L567.7,292.36 L567.2,292.4 L566.7,292.45 L566.2,292.49 L565.7,292.54 L565.2,292.59 L564.7,292.65 L564.2,292.7 L563.7,292.76 L563.2,292.81 L562.7,292.86 L562.2,292.92 L561.7,292.97 L561.2,293.02 L560.7,293.07 L560.2,293.12 L559.7,293.17 L559.2,293.22 L558.7,293.27 L558.2,293.32 L557.7,293.37 L557.2,293.42 L556.7,293.47 L556.2,293.52 L555.7,293.57 L555.2,293.62 L554.7,293.67 L554.2,293.72 L553.7,293.78 L553.2,293.84 L552.7,293.89 L552.2,293.95 L551.7,294 L551.2,294.06 L550.7,294.11 L550.2,294.15 L549.7,294.19 L549.2,294.23 L548.7,294.26 L548.2,294.29 L547.7,294.31 L547.2,294.34 L546.7,294.37 L546.2,294.4 L545.7,294.42 L545.2,294.44 L544.7,294.46 L544.2,294.47 L543.7,294.49 L543.2,294.49 L542.7,294.5 L542.2,294.5 L541.7,294.49 L541.2,294.48 L540.7,294.47 L540.2,294.45 L539.7,294.43 L539.2,294.41 L538.7,294.38 L538.2,294.36 L537.7,294.33 L537.2,294.3 L536.7,294.27 L536.2,294.24 L535.7,294.21 L535.2,294.18 L534.7,294.14 L534.2,294.09 L533.7,294.05 L533.2,294 L532.7,293.95 L532.2,293.89 L531.7,293.83 L531.2,293.77 L530.7,293.71 L530.2,293.65 L529.7,293.58 L529.2,293.5 L528.7,293.42 L528.2,293.33 L527.7,293.23 L527.2,293.12 L526.7,293.02 L526.2,292.91 L525.7,292.8 L525.2,292.69 L524.7,292.58 L524.2,292.47 L523.7,292.37 L523.2,292.27 L522.7,292.17 L522.2,292.08 L521.7,291.99 L521.2,291.9 L520.7,291.81 L520.2,291.72 L519.7,291.63 L519.2,291.53 L518.7,291.42 L518.2,291.31 L517.7,291.19 L517.2,291.06 L516.7,290.9 L516.2,290.72 L515.7,290.51 L515.2,290.28 L514.7,290.05 L514.2,289.81 L513.7,289.57 L513.2,289.34 L512.7,289.12 L512.2,288.92 L511.7,288.75 L511.2,288.61 L510.7,288.5 L510.2,288.4 L509.7,288.31 L509.2,288.22 L508.7,288.14 L508.2,288.06 L507.7,287.99 L507.2,287.93 L506.7,287.87 L506.2,287.81 L505.7,287.76 L505.2,287.71 L504.7,287.68 L504.2,287.64 L503.7,287.6 L503.2,287.57 L502.7,287.53 L502.2,287.5 L501.7,287.48 L501.2,287.45 L500.7,287.44 L500.2,287.42 L499.7,287.42 L499.2,287.43 L498.7,287.45 L498.2,287.49 L497.7,287.54 L497.2,287.61 L496.7,287.67 L496.2,287.74 L495.7,287.81 L495.2,287.88 L494.7,287.92Z" fill="#b0b0b0"/>
<path d="M494.7,286.66 L495.2,286.72 L495.7,286.78 L496.2,286.85 L496.7,286.91 L497.2,286.98 L497.7,287.05 L498.2,287.11 L498.7,287.18 L499.2,287.24 L499.7,287.31 L500.2,287.37 L500.7,287.43 L501.2,287.49 L501.7,287.55 L502.2,287.61 L502.7,287.67 L503.2,287.73 L503.7,287.8 L504.2,287.86 L504.7,287.93 L505.2,288 L505.7,288.08 L506.2,288.15 L506.7,288.23 L507.2,288.3 L507.7,288.38 L508.2,288.46 L508.7,288.55 L509.2,288.63 L509.7,288.71 L510.2,288.8 L510.7,288.89 L511.2,288.98 L511.7,289.07 L512.2,289.17 L512.7,289.27 L513.2,289.38 L513.7,289.49 L514.2,289.59 L514.7,289.7 L515.2,289.8 L515.7,289.91 L516.2,290 L516.7,290.1 L517.2,290.18 L517.7,290.26 L518.2,290.34 L518.7,290.41 L519.2,290.48 L519.7,290.55 L520.2,290.61 L520.7,290.67 L521.2,290.74 L521.7,290.8 L522.2,290.87 L522.7,290.94 L523.2,291.02 L523.7,291.1 L524.2,291.19 L524.7,291.29 L525.2,291.39 L525.7,291.5 L526.2,291.61 L526.7,291.72 L527.2,291.84 L527.7,291.95 L528.2,292.05 L528.7,292.15 L529.2,292.24 L529.7,292.32 L530.2,292.38 L530.7,292.45 L531.2,292.52 L531.7,292.59 L532.2,292.66 L532.7,292.72 L533.2,292.78 L533.7,292.84 L534.2,292.88 L534.7,292.92 L535.2,292.95 L535.7,292.97 L536.2,292.98 L536.7,292.98 L537.2,292.97 L537.7,292.96 L538.2,292.95 L538.7,292.93 L539.2,292.91 L539.7,292.89 L540.2,292.87 L540.7,292.84 L541.2,292.81 L541.7,292.78 L542.2,292.75 L542.7,292.72 L543.2,292.68 L543.7,292.63 L544.2,292.57 L544.7,292.5 L545.2,292.42 L545.7,292.33 L546.2,292.24 L546.7,292.15 L547.2,292.05 L547.7,291.95 L548.2,291.86 L548.7,291.76 L549.2,291.66 L549.7,291.56 L550.2,291.46 L550.7,291.36 L551.2,291.25 L551.7,291.14 L552.2,291.03 L552.7,290.91 L553.2,290.78 L553.7,290.65 L554.2,290.51 L554.7,290.36 L555.2,290.21 L555.7,290.05 L556.2,289.87 L556.7,289.68 L557.2,289.47 L557.7,289.26 L558.2,289.03 L558.7,288.79 L559.2,288.54 L559.7,288.29 L560.2,288.03 L560.7,287.76 L561.2,287.49 L561.7,287.21 L562.2,286.92 L562.7,286.61 L563.2,286.28 L563.7,285.94 L564.2,285.59 L564.7,285.23 L565.2,284.86 L565.7,284.49 L566.2,284.12 L566.7,283.74 L567.2,283.37 L567.7,283 L568.2,282.64 L568.7,282.27 L569.2,281.9 L569.7,281.52 L570.2,281.15 L570.7,280.77 L571.2,280.39 L571.7,280.01 L572.2,279.63 L572.7,279.26 L573.2,278.88 L573.7,278.48 L574.2,278.06 L574.7,277.63 L575.2,277.21 L575.7,276.79 L576.2,276.4 L576.7,276.03 L577.2,275.7 L577.7,275.42 L578.2,275.2 L578.7,274.99 L579.2,274.8 L579.7,274.61 L580.2,274.44 L580.7,274.28 L581.2,274.13 L581.7,273.99 L582.2,273.86 L582.7,273.73 L583.2,273.62 L583.7,273.51 L584.2,273.41 L584.7,273.32 L585.2,273.23 L585.7,273.14 L586.2,273.06 L586.7,272.98 L587.2,272.9 L587.7,272.83 L588.2,272.76 L588.7,272.7 L589.2,272.64 L589.7,272.59 L590.2,272.54 L590.7,272.5 L591.2,272.46 L591.7,272.42 L592.2,272.39 L592.7,272.36 L593.2,272.33 L593.7,272.3 L594.2,272.27 L594.7,272.25 L595.2,272.22 L595.7,272.19 L596.2,272.17 L596.7,272.14 L597.2,272.11 L597.7,272.08 L598.2,272.05 L598.7,272.02 L599.2,271.99 L599.7,271.96 L600.2,271.94 L600.7,271.91 L601.2,271.88 L601.7,271.85 L602.2,271.82 L602.7,271.78 L603.2,271.75 L603.7,271.72 L604.2,271.68 L604.7,271.64 L605.2,271.61 L605.7,271.57 L606.2,271.53 L606.7,271.49 L607.2,271.45 L607.7,271.41 L608.2,271.37 L608.7,271.32 L609.2,271.28 L609.7,271.23 L610.2,271.18 L610.7,271.12 L611.2,271.05 L611.7,270.98 L612.2,270.91 L612.7,270.84 L613.2,270.77 L613.7,270.7 L614.2,270.64 L614.7,270.58 L615.2,270.54 L615.7,270.5 L616.2,270.46 L616.7,270.43 L617.2,270.4 L617.7,270.38 L618.2,270.35 L618.7,270.32 L619.2,270.3 L619.7,270.28 L620.2,270.26 L620.7,270.25 L621.2,270.24 L621.7,270.23 L622.2,270.23 L622.7,270.23 L623.2,270.23 L623.7,270.24 L624.2,270.26 L624.7,270.28 L625.2,270.3 L625.7,270.32 L626.2,270.34 L626.7,270.37 L627.2,270.4 L627.7,270.43 L628.2,270.46 L628.7,270.49 L629.2,270.52 L629.7,270.56 L630.2,270.61 L630.7,270.66 L631.2,270.72 L631.7,270.78 L632.2,270.85 L632.7,270.91 L633.2,270.98 L633.7,271.06 L634.2,271.13 L634.7,271.21 L635.2,271.28 L635.7,271.36 L636.2,271.43 L636.7,271.51 L637.2,271.6 L637.7,271.68 L638.2,271.78 L638.7,271.88 L639.2,271.98 L639.7,272.09 L640.2,272.22 L640.7,272.35 L641.2,272.49 L641.7,272.66 L642.2,272.85 L642.7,273.08 L643.2,273.34 L643.7,273.62 L644.2,273.91 L644.7,274.23 L645.2,274.55 L645.7,274.88 L646.2,275.22 L646.7,275.57 L647.2,275.95 L647.7,276.37 L648.2,276.8 L648.7,277.26 L649.2,277.72 L649.7,278.19 L650.2,278.66 L650.7,279.12 L651.2,279.57 L651.7,280.01 L652.2,280.47 L652.7,280.92 L653.2,281.38 L653.7,281.84 L654.2,282.3 L654.7,282.74 L655.2,283.17 L655.7,283.58 L656.2,283.97 L656.7,284.34 L657.2,284.69 L657.7,285.02 L658.2,285.35 L658.7,285.66 L659.2,285.96 L659.7,286.26 L660.2,286.56 L660.7,286.85 L661.2,287.15 L661.7,287.45 L662.2,287.75 L662.7,287.92 L662.7,310.68 L662.2,310.66 L661.7,310.63 L661.2,310.6 L660.7,310.57 L660.2,310.53 L659.7,310.5 L659.2,310.45 L658.7,310.4 L658.2,310.33 L657.7,310.25 L657.2,310.15 L656.7,310.05 L656.2,309.93 L655.7,309.82 L655.2,309.7 L654.7,309.59 L654.2,309.48 L653.7,309.38 L653.2,309.28 L652.7,309.19 L652.2,309.09 L651.7,309 L651.2,308.91 L650.7,308.81 L650.2,308.71 L649.7,308.62 L649.2,308.52 L648.7,308.41 L648.2,308.3 L647.7,308.18 L647.2,308.06 L646.7,307.94 L646.2,307.8 L645.7,307.67 L645.2,307.52 L644.7,307.38 L644.2,307.22 L643.7,307.07 L643.2,306.91 L642.7,306.75 L642.2,306.58 L641.7,306.41 L641.2,306.24 L640.7,306.06 L640.2,305.88 L639.7,305.68 L639.2,305.48 L638.7,305.27 L638.2,305.06 L637.7,304.85 L637.2,304.64 L636.7,304.43 L636.2,304.23 L635.7,304.03 L635.2,303.83 L634.7,303.65 L634.2,303.45 L633.7,303.25 L633.2,303.04 L632.7,302.83 L632.2,302.62 L631.7,302.42 L631.2,302.23 L630.7,302.06 L630.2,301.9 L629.7,301.77 L629.2,301.67 L628.7,301.59 L628.2,301.54 L627.7,301.49 L627.2,301.44 L626.7,301.4 L626.2,301.36 L625.7,301.33 L625.2,301.29 L624.7,301.26 L624.2,301.24 L623.7,301.22 L623.2,301.21 L622.7,301.2 L622.2,301.2 L621.7,301.21 L621.2,301.24 L620.7,301.29 L620.2,301.35 L619.7,301.42 L619.2,301.51 L618.7,301.59 L618.2,301.69 L617.7,301.78 L617.2,301.87 L616.7,301.96 L616.2,302.04 L615.7,302.12 L615.2,302.19 L614.7,302.27 L614.2,302.35 L613.7,302.42 L613.2,302.5 L612.7,302.58 L612.2,302.66 L611.7,302.74 L611.2,302.82 L610.7,302.91 L610.2,302.99 L609.7,303.08 L609.2,303.17 L608.7,303.26 L608.2,303.36 L607.7,303.46 L607.2,303.56 L606.7,303.66 L606.2,303.76 L605.7,303.86 L605.2,303.97 L604.7,304.07 L604.2,304.17 L603.7,304.28 L603.2,304.38 L602.7,304.48 L602.2,304.58 L601.7,304.68 L601.2,304.78 L600.7,304.88 L600.2,304.98 L599.7,305.08 L599.2,305.18 L598.7,305.28 L598.2,305.38 L597.7,305.48 L597.2,305.58 L596.7,305.68 L596.2,305.78 L595.7,305.89 L595.2,306 L594.7,306.11 L594.2,306.22 L593.7,306.33 L593.2,306.44 L592.7,306.54 L592.2,306.64 L591.7,306.73 L591.2,306.81 L590.7,306.88 L590.2,306.94 L589.7,307 L589.2,307.06 L588.7,307.11 L588.2,307.16 L587.7,307.21 L587.2,307.26 L586.7,307.3 L586.2,307.34 L585.7,307.39 L585.2,307.43 L584.7,307.48 L584.2,307.53 L583.7,307.59 L583.2,307.65 L582.7,307.71 L582.2,307.78 L581.7,307.84 L581.2,307.91 L580.7,307.97 L580.2,308.02 L579.7,308.07 L579.2,308.11 L578.7,308.14 L578.2,308.15 L577.7,308.15 L577.2,308.15 L576.7,308.15 L576.2,308.15 L575.7,308.15 L575.2,308.15 L574.7,308.15 L574.2,308.15 L573.7,308.15 L573.2,308.15 L572.7,308.15 L572.2,308.16 L571.7,308.18 L571.2,308.2 L570.7,308.23 L570.2,308.26 L569.7,308.29 L569.2,308.32 L568.7,308.35 L568.2,308.39 L567.7,308.41 L567.2,308.44 L566.7,308.47 L566.2,308.49 L565.7,308.52 L565.2,308.54 L564.7,308.57 L564.2,308.6 L563.7,308.63 L563.2,308.66 L562.7,308.7 L562.2,308.73 L561.7,308.77 L561.2,308.82 L560.7,308.87 L560.2,308.92 L559.7,308.99 L559.2,309.06 L558.7,309.13 L558.2,309.2 L557.7,309.28 L557.2,309.36 L556.7,309.44 L556.2,309.52 L555.7,309.6 L555.2,309.67 L554.7,309.75 L554.2,309.83 L553.7,309.9 L553.2,309.98 L552.7,310.06 L552.2,310.14 L551.7,310.23 L551.2,310.31 L550.7,310.39 L550.2,310.47 L549.7,310.55 L549.2,310.63 L548.7,310.71 L548.2,310.8 L547.7,310.89 L547.2,310.99 L546.7,311.08 L546.2,311.18 L545.7,311.27 L545.2,311.36 L544.7,311.44 L544.2,311.52 L543.7,311.59 L543.2,311.64 L542.7,311.68 L542.2,311.71 L541.7,311.74 L541.2,311.76 L540.7,311.78 L540.2,311.8 L539.7,311.81 L539.2,311.83 L538.7,311.84 L538.2,311.86 L537.7,311.88 L537.2,311.9 L536.7,311.92 L536.2,311.95 L535.7,311.98 L535.2,312.02 L534.7,312.06 L534.2,312.11 L533.7,312.16 L533.2,312.21 L532.7,312.27 L532.2,312.33 L531.7,312.38 L531.2,312.44 L530.7,312.5 L530.2,312.55 L529.7,312.6 L529.2,312.66 L528.7,312.72 L528.2,312.78 L527.7,312.85 L527.2,312.92 L526.7,312.98 L526.2,313.04 L525.7,313.09 L525.2,313.14 L524.7,313.17 L524.2,313.2 L523.7,313.21 L523.2,313.21 L522.7,313.2 L522.2,313.19 L521.7,313.17 L521.2,313.15 L520.7,313.13 L520.2,313.11 L519.7,313.08 L519.2,313.05 L518.7,313.03 L518.2,313 L517.7,312.97 L517.2,312.95 L516.7,312.92 L516.2,312.89 L515.7,312.85 L515.2,312.81 L514.7,312.77 L514.2,312.73 L513.7,312.69 L513.2,312.66 L512.7,312.63 L512.2,312.6 L511.7,312.59 L511.2,312.58 L510.7,312.58 L510.2,312.58 L509.7,312.58 L509.2,312.58 L508.7,312.58 L508.2,312.58 L507.7,312.58 L507.2,312.58 L506.7,312.58 L506.2,312.58 L505.7,312.58 L505.2,312.58 L504.7,312.58 L504.2,312.58 L503.7,312.58 L503.2,312.58 L502.7,312.58 L502.2,312.58 L501.7,312.58 L501.2,312.58 L500.7,312.58 L500.2,312.58 L499.7,312.58 L499.2,312.57 L498.7,312.54 L498.2,312.49 L497.7,312.42 L497.2,312.34 L496.7,312.26 L496.2,312.17 L495.7,312.08 L495.2,312 L494.7,311.94Z" fill="#000" fill-opacity="0.2"/>
<path d="M495.8,286.79V312.1M498.3,287.13V312.5M500.8,287.44V312.58M503.3,287.75V312.58M505.8,288.09V312.58M508.3,288.48V312.58M510.8,288.91V312.58M513.3,289.4V312.67M515.8,289.93V312.86M518.3,290.36V313.01M520.8,290.69V313.14M523.3,291.03V313.21M525.8,291.52V313.08M528.3,292.07V312.77M530.8,292.47V312.49M533.3,292.79V312.2M535.8,292.98V311.97M538.3,292.95V311.86M540.8,292.84V311.78M543.3,292.67V311.63M545.8,292.31V311.25M548.3,291.84V310.78M550.8,291.34V310.37M553.3,290.75V309.97M555.8,290.01V309.58M558.3,288.98V309.19M560.8,287.71V308.86M563.3,286.22V308.65M565.8,284.41V308.51M568.3,282.56V308.38M570.8,280.69V308.22M573.3,278.8V308.15M575.8,276.71V308.15M578.3,275.15V308.15M580.8,274.25V307.96M583.3,273.6V307.64M585.8,273.12V307.38M588.3,272.75V307.15M590.8,272.49V306.87M593.3,272.32V306.42M595.8,272.19V305.87M598.3,272.04V305.36M600.8,271.9V304.86M603.3,271.74V304.36M605.8,271.56V303.84M608.3,271.36V303.34M610.8,271.1V302.89M613.3,270.76V302.48M615.8,270.49V302.1M618.3,270.34V301.67M620.8,270.25V301.28M623.3,270.24V301.21M625.8,270.32V301.33M628.3,270.46V301.55M630.8,270.67V302.09M633.3,271V303.08M635.8,271.37V304.07M638.3,271.8V305.11M640.8,272.38V306.1M643.3,273.39V306.94M645.8,274.95V307.69M648.3,276.89V308.32M650.8,279.21V308.83M653.3,281.48V309.3M655.8,283.66V309.84M658.3,285.41V310.35M660.8,286.91V310.57" stroke="#333333" stroke-width="1" fill="none"/>
<line x1="494.7" y1="300.5" x2="662.7" y2="300.5" stroke="#000" stroke-opacity="0.55" stroke-width="1"/>
<path d="M494.7,299.93 L495.2,299.97 L495.7,300.02 L496.2,300.07 L496.7,300.12 L497.2,300.17 L497.7,300.22 L498.2,300.26 L498.7,300.29 L499.2,300.31 L499.7,300.31 L500.2,300.3 L500.7,300.27 L501.2,300.22 L501.7,300.17 L502.2,300.11 L502.7,300.06 L503.2,300.01 L503.7,299.97 L504.2,299.94 L504.7,299.93 L505.2,299.94 L505.7,299.95 L506.2,299.97 L506.7,299.99 L507.2,300.02 L507.7,300.05 L508.2,300.09 L508.7,300.12 L509.2,300.16 L509.7,300.21 L510.2,300.25 L510.7,300.29 L511.2,300.33 L511.7,300.39 L512.2,300.45 L512.7,300.51 L513.2,300.58 L513.7,300.66 L514.2,300.74 L514.7,300.82 L515.2,300.9 L515.7,300.98 L516.2,301.05 L516.7,301.12 L517.2,301.19 L517.7,301.25 L518.2,301.31 L518.7,301.38 L519.2,301.44 L519.7,301.51 L520.2,301.57 L520.7,301.64 L521.2,301.69 L521.7,301.74 L522.2,301.78 L522.7,301.81 L523.2,301.83 L523.7,301.83 L524.2,301.83 L524.7,301.83 L525.2,301.83 L525.7,301.83 L526.2,301.83 L526.7,301.83 L527.2,301.83 L527.7,301.83 L528.2,301.83 L528.7,301.83 L529.2,301.83 L529.7,301.83 L530.2,301.83 L530.7,301.83 L531.2,301.83 L531.7,301.83 L532.2,301.83 L532.7,301.83 L533.2,301.83 L533.7,301.83 L534.2,301.83 L534.7,301.83 L535.2,301.83 L535.7,301.83 L536.2,301.83 L536.7,301.83 L537.2,301.83 L537.7,301.83 L538.2,301.83 L538.7,301.83 L539.2,301.83 L539.7,301.83 L540.2,301.83 L540.7,301.83 L541.2,301.83 L541.7,301.83 L542.2,301.83 L542.7,301.83 L543.2,301.81 L543.7,301.76 L544.2,301.69 L544.7,301.6 L545.2,301.49 L545.7,301.37 L546.2,301.24 L546.7,301.11 L547.2,300.98 L547.7,300.85 L548.2,300.72 L548.7,300.61 L549.2,300.51 L549.7,300.41 L550.2,300.31 L550.7,300.22 L551.2,300.12 L551.7,300.02 L552.2,299.92 L552.7,299.83 L553.2,299.73 L553.7,299.62 L554.2,299.52 L554.7,299.42 L555.2,299.31 L555.7,299.2 L556.2,299.09 L556.7,298.98 L557.2,298.87 L557.7,298.75 L558.2,298.63 L558.7,298.52 L559.2,298.39 L559.7,298.27 L560.2,298.14 L560.7,298.02 L561.2,297.88 L561.7,297.75 L562.2,297.6 L562.7,297.45 L563.2,297.3 L563.7,297.14 L564.2,296.97 L564.7,296.81 L565.2,296.64 L565.7,296.47 L566.2,296.31 L566.7,296.14 L567.2,295.98 L567.7,295.82 L568.2,295.67 L568.7,295.52 L569.2,295.37 L569.7,295.22 L570.2,295.08 L570.7,294.94 L571.2,294.79 L571.7,294.64 L572.2,294.48 L572.7,294.32 L573.2,294.16 L573.7,293.98 L574.2,293.79 L574.7,293.59 L575.2,293.39 L575.7,293.19 L576.2,292.99 L576.7,292.8 L577.2,292.62 L577.7,292.44 L578.2,292.29 L578.7,292.13 L579.2,291.98 L579.7,291.84 L580.2,291.69 L580.7,291.55 L581.2,291.42 L581.7,291.29 L582.2,291.16 L582.7,291.04 L583.2,290.93 L583.7,290.83 L584.2,290.73 L584.7,290.64 L585.2,290.56 L585.7,290.48 L586.2,290.4 L586.7,290.33 L587.2,290.27 L587.7,290.2 L588.2,290.14 L588.7,290.08 L589.2,290.01 L589.7,289.95 L590.2,289.88 L590.7,289.81 L591.2,289.74 L591.7,289.67 L592.2,289.6 L592.7,289.53 L593.2,289.46 L593.7,289.39 L594.2,289.31 L594.7,289.24 L595.2,289.17 L595.7,289.1 L596.2,289.04 L596.7,288.97 L597.2,288.91 L597.7,288.84 L598.2,288.78 L598.7,288.72 L599.2,288.66 L599.7,288.61 L600.2,288.55 L600.7,288.49 L601.2,288.43 L601.7,288.37 L602.2,288.31 L602.7,288.25 L603.2,288.19 L603.7,288.12 L604.2,288.06 L604.7,287.99 L605.2,287.92 L605.7,287.85 L606.2,287.78 L606.7,287.71 L607.2,287.64 L607.7,287.57 L608.2,287.49 L608.7,287.42 L609.2,287.35 L609.7,287.28 L610.2,287.21 L610.7,287.14 L611.2,287.07 L611.7,287 L612.2,286.92 L612.7,286.85 L613.2,286.78 L613.7,286.71 L614.2,286.64 L614.7,286.57 L615.2,286.51 L615.7,286.44 L616.2,286.37 L616.7,286.3 L617.2,286.23 L617.7,286.15 L618.2,286.07 L618.7,285.99 L619.2,285.91 L619.7,285.84 L620.2,285.78 L620.7,285.73 L621.2,285.69 L621.7,285.66 L622.2,285.65 L622.7,285.65 L623.2,285.66 L623.7,285.68 L624.2,285.7 L624.7,285.72 L625.2,285.75 L625.7,285.79 L626.2,285.83 L626.7,285.87 L627.2,285.91 L627.7,285.95 L628.2,285.99 L628.7,286.04 L629.2,286.09 L629.7,286.14 L630.2,286.2 L630.7,286.27 L631.2,286.34 L631.7,286.42 L632.2,286.51 L632.7,286.6 L633.2,286.69 L633.7,286.79 L634.2,286.89 L634.7,286.99 L635.2,287.1 L635.7,287.23 L636.2,287.36 L636.7,287.51 L637.2,287.67 L637.7,287.84 L638.2,288.01 L638.7,288.19 L639.2,288.38 L639.7,288.58 L640.2,288.77 L640.7,288.97 L641.2,289.17 L641.7,289.38 L642.2,289.6 L642.7,289.84 L643.2,290.08 L643.7,290.33 L644.2,290.59 L644.7,290.85 L645.2,291.12 L645.7,291.38 L646.2,291.65 L646.7,291.91 L647.2,292.17 L647.7,292.42 L648.2,292.67 L648.7,292.92 L649.2,293.17 L649.7,293.42 L650.2,293.67 L650.7,293.92 L651.2,294.17 L651.7,294.42 L652.2,294.67 L652.7,294.92 L653.2,295.17 L653.7,295.42 L654.2,295.67 L654.7,295.92 L655.2,296.16 L655.7,296.41 L656.2,296.66 L656.7,296.9 L657.2,297.15 L657.7,297.4 L658.2,297.66 L658.7,297.91 L659.2,298.17 L659.7,298.44 L660.2,298.7 L660.7,298.97 L661.2,299.24 L661.7,299.51 L662.2,299.78 L662.7,299.93" stroke="#000" stroke-width="1.4" fill="none" stroke-linejoin="round"/>
<path d="M491.7,196.5V326" stroke="#959595" stroke-width="1.1" fill="none"/>
<path d="M491.7,196.5h3M491.7,222.4h3M491.7,248.3h3M491.7,274.2h3M491.7,300.1h3M491.7,326h3" stroke="#7a7a7a" stroke-width="1" fill="none"/>
<path d="M494.7,329H662.7" stroke="#959595" stroke-width="1.1" fill="none"/>
<path d="M494.7,329v-2.5M528.3,329v-2.5M561.9,329v-2.5M595.5,329v-2.5M629.1,329v-2.5M662.7,329v-2.5" stroke="#7a7a7a" stroke-width="1" fill="none"/>
<text x="489.1" y="198.7" class="tl" text-anchor="end">80</text>
<text x="489.1" y="224.6" class="tl" text-anchor="end">60</text>
<text x="489.1" y="250.5" class="tl" text-anchor="end">40</text>
<text x="489.1" y="276.4" class="tl" text-anchor="end">20</text>
<text x="489.1" y="302.3" class="tl" text-anchor="end">0</text>
<text x="489.1" y="328.2" class="tl" text-anchor="end">-20</text>
<text transform="translate(470.6,284.7) rotate(-90)" class="yl">Knee (<tspan dx="2.0" dy="-2.2">&#176;</tspan><tspan dx="-0.5" dy="2.2">)</tspan></text>
<path d="M46.4,382.64 L46.9,382.64 L47.4,382.64 L47.9,382.64 L48.4,382.64 L48.9,382.64 L49.4,382.64 L49.9,382.64 L50.4,382.64 L50.9,382.69 L51.4,382.79 L51.9,382.94 L52.4,383.13 L52.9,383.34 L53.4,383.57 L53.9,383.81 L54.4,384.04 L54.9,384.32 L55.4,384.63 L55.9,384.98 L56.4,385.35 L56.9,385.75 L57.4,386.17 L57.9,386.59 L58.4,387.03 L58.9,387.46 L59.4,387.89 L59.9,388.34 L60.4,388.81 L60.9,389.29 L61.4,389.79 L61.9,390.3 L62.4,390.82 L62.9,391.34 L63.4,391.87 L63.9,392.4 L64.4,392.93 L64.9,393.47 L65.4,394.02 L65.9,394.58 L66.4,395.15 L66.9,395.72 L67.4,396.29 L67.9,396.87 L68.4,397.44 L68.9,398 L69.4,398.56 L69.9,399.12 L70.4,399.69 L70.9,400.25 L71.4,400.82 L71.9,401.39 L72.4,401.95 L72.9,402.51 L73.4,403.07 L73.9,403.61 L74.4,404.15 L74.9,404.67 L75.4,405.18 L75.9,405.68 L76.4,406.18 L76.9,406.68 L77.4,407.18 L77.9,407.67 L78.4,408.15 L78.9,408.63 L79.4,409.09 L79.9,409.53 L80.4,409.95 L80.9,410.35 L81.4,410.72 L81.9,411.06 L82.4,411.37 L82.9,411.65 L83.4,411.92 L83.9,412.16 L84.4,412.4 L84.9,412.62 L85.4,412.84 L85.9,413.07 L86.4,413.29 L86.9,413.53 L87.4,413.77 L87.9,414.04 L88.4,414.32 L88.9,414.62 L89.4,414.93 L89.9,415.25 L90.4,415.57 L90.9,415.91 L91.4,416.25 L91.9,416.6 L92.4,416.97 L92.9,417.34 L93.4,417.72 L93.9,418.11 L94.4,418.52 L94.9,418.94 L95.4,419.4 L95.9,419.91 L96.4,420.44 L96.9,421 L97.4,421.56 L97.9,422.12 L98.4,422.68 L98.9,423.21 L99.4,423.72 L99.9,424.19 L100.4,424.62 L100.9,424.98 L101.4,425.3 L101.9,425.6 L102.4,425.87 L102.9,426.12 L103.4,426.36 L103.9,426.59 L104.4,426.81 L104.9,427.03 L105.4,427.25 L105.9,427.48 L106.4,427.72 L106.9,427.97 L107.4,428.24 L107.9,428.53 L108.4,428.83 L108.9,429.14 L109.4,429.46 L109.9,429.78 L110.4,430.1 L110.9,430.42 L111.4,430.73 L111.9,431.04 L112.4,431.33 L112.9,431.61 L113.4,431.87 L113.9,432.1 L114.4,432.33 L114.9,432.55 L115.4,432.76 L115.9,432.96 L116.4,433.16 L116.9,433.35 L117.4,433.54 L117.9,433.73 L118.4,433.91 L118.9,434.1 L119.4,434.29 L119.9,434.48 L120.4,434.67 L120.9,434.84 L121.4,435.01 L121.9,435.18 L122.4,435.35 L122.9,435.53 L123.4,435.71 L123.9,435.91 L124.4,436.12 L124.9,436.35 L125.4,436.6 L125.9,436.86 L126.4,437.15 L126.9,437.44 L127.4,437.76 L127.9,438.09 L128.4,438.43 L128.9,438.79 L129.4,439.16 L129.9,439.54 L130.4,439.93 L130.9,440.34 L131.4,440.75 L131.9,441.18 L132.4,441.61 L132.9,442.05 L133.4,442.51 L133.9,442.97 L134.4,443.43 L134.9,443.9 L135.4,444.41 L135.9,444.98 L136.4,445.61 L136.9,446.28 L137.4,446.96 L137.9,447.64 L138.4,448.29 L138.9,448.9 L139.4,449.45 L139.9,449.92 L140.4,450.31 L140.9,450.68 L141.4,451.02 L141.9,451.34 L142.4,451.64 L142.9,451.93 L143.4,452.2 L143.9,452.46 L144.4,452.71 L144.9,452.95 L145.4,453.2 L145.9,453.46 L146.4,453.73 L146.9,454 L147.4,454.25 L147.9,454.48 L148.4,454.68 L148.9,454.84 L149.4,454.95 L149.9,455 L150.4,455 L150.9,454.99 L151.4,454.97 L151.9,454.95 L152.4,454.92 L152.9,454.89 L153.4,454.84 L153.9,454.79 L154.4,454.74 L154.9,454.67 L155.4,454.6 L155.9,454.53 L156.4,454.44 L156.9,454.35 L157.4,454.25 L157.9,454.14 L158.4,453.99 L158.9,453.64 L159.4,453.1 L159.9,452.4 L160.4,451.58 L160.9,450.67 L161.4,449.7 L161.9,448.69 L162.4,447.69 L162.9,446.69 L163.4,445.55 L163.9,444.3 L164.4,442.95 L164.9,441.53 L165.4,440.07 L165.9,438.59 L166.4,437.05 L166.9,435.31 L167.4,433.48 L167.9,431.65 L168.4,429.89 L168.9,428.32 L169.4,427 L169.9,425.91 L170.4,424.93 L170.9,424.04 L171.4,423.22 L171.9,422.42 L172.4,421.64 L172.9,420.84 L173.4,420.06 L173.9,419.33 L174.4,418.61 L174.9,417.9 L175.4,417.18 L175.9,416.44 L176.4,415.66 L176.9,414.9 L177.4,414.23 L177.9,413.56 L178.4,412.8 L178.9,411.84 L179.4,410.6 L179.9,408.29 L180.4,404.12 L180.9,401.64 L181.4,399.87 L181.9,398.41 L182.4,397.12 L182.9,395.84 L183.4,394.48 L183.9,393.14 L184.4,391.85 L184.9,390.62 L185.4,389.45 L185.9,388.34 L186.4,387.25 L186.9,386.21 L187.4,385.24 L187.9,384.37 L188.4,383.61 L188.9,382.95 L189.4,382.35 L189.9,381.8 L190.4,381.27 L190.9,380.75 L191.4,380.21 L191.9,379.62 L192.4,378.99 L192.9,378.3 L193.4,377.6 L193.9,376.88 L194.4,376.17 L194.9,375.49 L195.4,374.86 L195.9,374.29 L196.4,373.69 L196.9,373.06 L197.4,372.47 L197.9,371.97 L198.4,371.63 L198.9,371.5 L199.4,371.6 L199.9,371.87 L200.4,372.25 L200.9,372.71 L201.4,373.19 L201.9,373.64 L202.4,374.04 L202.9,374.44 L203.4,374.86 L203.9,375.29 L204.4,375.72 L204.9,376.15 L205.4,376.58 L205.9,377 L206.4,377.43 L206.9,377.87 L207.4,378.33 L207.9,378.77 L208.4,379.19 L208.9,379.58 L209.4,379.92 L209.9,380.21 L210.4,380.46 L210.9,380.68 L211.4,380.89 L211.9,381.08 L212.4,381.26 L212.9,381.44 L213.4,381.62 L213.9,381.8 L214.4,382 L214.4,433 L213.9,432.62 L213.4,432.2 L212.9,431.75 L212.4,431.3 L211.9,430.88 L211.4,430.51 L210.9,430.23 L210.4,430.05 L209.9,430 L209.4,430 L208.9,430 L208.4,430 L207.9,430 L207.4,430 L206.9,430 L206.4,430 L205.9,430 L205.4,430 L204.9,430 L204.4,430.05 L203.9,430.15 L203.4,430.3 L202.9,430.49 L202.4,430.71 L201.9,430.96 L201.4,431.23 L200.9,431.51 L200.4,431.78 L199.9,432.05 L199.4,432.36 L198.9,432.7 L198.4,433.08 L197.9,433.49 L197.4,433.92 L196.9,434.36 L196.4,434.8 L195.9,435.24 L195.4,435.67 L194.9,436.08 L194.4,436.46 L193.9,436.83 L193.4,437.19 L192.9,437.55 L192.4,437.92 L191.9,438.3 L191.4,438.7 L190.9,439.13 L190.4,439.6 L189.9,440.11 L189.4,440.7 L188.9,441.37 L188.4,442.1 L187.9,442.89 L187.4,443.7 L186.9,444.52 L186.4,445.34 L185.9,446.14 L185.4,446.9 L184.9,447.63 L184.4,448.35 L183.9,449.1 L183.4,449.89 L182.9,450.76 L182.4,451.78 L181.9,452.88 L181.4,453.97 L180.9,454.98 L180.4,455.82 L179.9,456.59 L179.4,457.32 L178.9,458.01 L178.4,458.66 L177.9,459.27 L177.4,459.85 L176.9,460.39 L176.4,460.91 L175.9,461.41 L175.4,461.88 L174.9,462.34 L174.4,462.78 L173.9,463.2 L173.4,463.6 L172.9,464 L172.4,464.38 L171.9,464.75 L171.4,465.12 L170.9,465.47 L170.4,465.8 L169.9,466.12 L169.4,466.44 L168.9,466.75 L168.4,467.05 L167.9,467.36 L167.4,467.66 L166.9,467.97 L166.4,468.3 L165.9,468.65 L165.4,469.03 L164.9,469.42 L164.4,469.81 L163.9,470.18 L163.4,470.52 L162.9,470.82 L162.4,471.06 L161.9,471.23 L161.4,471.33 L160.9,471.41 L160.4,471.49 L159.9,471.56 L159.4,471.63 L158.9,471.69 L158.4,471.74 L157.9,471.78 L157.4,471.82 L156.9,471.86 L156.4,471.88 L155.9,471.89 L155.4,471.9 L154.9,471.9 L154.4,471.9 L153.9,471.9 L153.4,471.9 L152.9,471.9 L152.4,471.9 L151.9,471.9 L151.4,471.9 L150.9,471.9 L150.4,471.9 L149.9,471.9 L149.4,471.9 L148.9,471.9 L148.4,471.9 L147.9,471.9 L147.4,471.9 L146.9,471.9 L146.4,471.9 L145.9,471.9 L145.4,471.9 L144.9,471.9 L144.4,471.9 L143.9,471.9 L143.4,471.9 L142.9,471.9 L142.4,471.9 L141.9,471.89 L141.4,471.87 L140.9,471.84 L140.4,471.79 L139.9,471.75 L139.4,471.69 L138.9,471.63 L138.4,471.56 L137.9,471.49 L137.4,471.42 L136.9,471.34 L136.4,471.27 L135.9,471.19 L135.4,471.11 L134.9,471.04 L134.4,470.96 L133.9,470.9 L133.4,470.83 L132.9,470.77 L132.4,470.72 L131.9,470.68 L131.4,470.64 L130.9,470.62 L130.4,470.6 L129.9,470.6 L129.4,470.6 L128.9,470.6 L128.4,470.61 L127.9,470.61 L127.4,470.62 L126.9,470.62 L126.4,470.62 L125.9,470.62 L125.4,470.6 L124.9,470.58 L124.4,470.54 L123.9,470.49 L123.4,470.44 L122.9,470.38 L122.4,470.31 L121.9,470.25 L121.4,470.18 L120.9,470.11 L120.4,470.05 L119.9,469.99 L119.4,469.94 L118.9,469.88 L118.4,469.83 L117.9,469.77 L117.4,469.71 L116.9,469.65 L116.4,469.59 L115.9,469.52 L115.4,469.45 L114.9,469.37 L114.4,469.28 L113.9,469.19 L113.4,469.09 L112.9,468.98 L112.4,468.86 L111.9,468.73 L111.4,468.6 L110.9,468.45 L110.4,468.3 L109.9,468.14 L109.4,467.97 L108.9,467.78 L108.4,467.58 L107.9,467.36 L107.4,467.13 L106.9,466.88 L106.4,466.61 L105.9,466.32 L105.4,466.02 L104.9,465.7 L104.4,465.34 L103.9,464.89 L103.4,464.37 L102.9,463.82 L102.4,463.25 L101.9,462.7 L101.4,462.19 L100.9,461.76 L100.4,461.39 L99.9,461.03 L99.4,460.69 L98.9,460.36 L98.4,460.05 L97.9,459.75 L97.4,459.46 L96.9,459.18 L96.4,458.91 L95.9,458.64 L95.4,458.39 L94.9,458.13 L94.4,457.89 L93.9,457.65 L93.4,457.41 L92.9,457.18 L92.4,456.95 L91.9,456.73 L91.4,456.51 L90.9,456.29 L90.4,456.08 L89.9,455.88 L89.4,455.67 L88.9,455.47 L88.4,455.27 L87.9,455.08 L87.4,454.88 L86.9,454.7 L86.4,454.51 L85.9,454.32 L85.4,454.14 L84.9,453.96 L84.4,453.78 L83.9,453.6 L83.4,453.43 L82.9,453.26 L82.4,453.08 L81.9,452.91 L81.4,452.74 L80.9,452.57 L80.4,452.41 L79.9,452.25 L79.4,452.09 L78.9,451.94 L78.4,451.78 L77.9,451.63 L77.4,451.48 L76.9,451.33 L76.4,451.19 L75.9,451.04 L75.4,450.9 L74.9,450.75 L74.4,450.61 L73.9,450.47 L73.4,450.32 L72.9,450.18 L72.4,450.04 L71.9,449.9 L71.4,449.75 L70.9,449.61 L70.4,449.46 L69.9,449.31 L69.4,449.16 L68.9,449.01 L68.4,448.86 L67.9,448.7 L67.4,448.53 L66.9,448.37 L66.4,448.2 L65.9,448.03 L65.4,447.86 L64.9,447.69 L64.4,447.52 L63.9,447.35 L63.4,447.18 L62.9,447.02 L62.4,446.85 L61.9,446.69 L61.4,446.54 L60.9,446.38 L60.4,446.24 L59.9,446.09 L59.4,445.96 L58.9,445.83 L58.4,445.7 L57.9,445.59 L57.4,445.48 L56.9,445.39 L56.4,445.3 L55.9,445.21 L55.4,445.13 L54.9,445.06 L54.4,444.99 L53.9,444.92 L53.4,444.85 L52.9,444.79 L52.4,444.73 L51.9,444.67 L51.4,444.61 L50.9,444.55 L50.4,444.5 L49.9,444.44 L49.4,444.39 L48.9,444.33 L48.4,444.27 L47.9,444.21 L47.4,444.15 L46.9,444.09 L46.4,444.08Z" fill="#b0b0b0"/>
<path d="M46.4,413.2 L46.9,413.56 L47.4,414.14 L47.9,414.73 L48.4,415.37 L48.9,416.08 L49.4,416.88 L49.9,417.74 L50.4,418.59 L50.9,419.41 L51.4,420.14 L51.9,420.75 L52.4,421.28 L52.9,421.77 L53.4,422.27 L53.9,422.82 L54.4,423.45 L54.9,424.14 L55.4,424.82 L55.9,425.47 L56.4,426.01 L56.9,426.43 L57.4,426.79 L57.9,427.11 L58.4,427.42 L58.9,427.75 L59.4,428.14 L59.9,428.58 L60.4,429.03 L60.9,429.45 L61.4,429.8 L61.9,430.08 L62.4,430.32 L62.9,430.54 L63.4,430.75 L63.9,430.96 L64.4,431.17 L64.9,431.39 L65.4,431.6 L65.9,431.8 L66.4,431.99 L66.9,432.17 L67.4,432.33 L67.9,432.48 L68.4,432.63 L68.9,432.77 L69.4,432.91 L69.9,433.05 L70.4,433.2 L70.9,433.36 L71.4,433.53 L71.9,433.7 L72.4,433.87 L72.9,434.03 L73.4,434.19 L73.9,434.33 L74.4,434.45 L74.9,434.55 L75.4,434.65 L75.9,434.74 L76.4,434.82 L76.9,434.91 L77.4,434.99 L77.9,435.08 L78.4,435.17 L78.9,435.26 L79.4,435.35 L79.9,435.45 L80.4,435.54 L80.9,435.64 L81.4,435.74 L81.9,435.85 L82.4,435.97 L82.9,436.11 L83.4,436.25 L83.9,436.41 L84.4,436.57 L84.9,436.73 L85.4,436.9 L85.9,437.06 L86.4,437.22 L86.9,437.38 L87.4,437.53 L87.9,437.66 L88.4,437.79 L88.9,437.9 L89.4,438 L89.9,438.1 L90.4,438.19 L90.9,438.27 L91.4,438.36 L91.9,438.45 L92.4,438.54 L92.9,438.63 L93.4,438.74 L93.9,438.85 L94.4,438.97 L94.9,439.11 L95.4,439.27 L95.9,439.45 L96.4,439.64 L96.9,439.85 L97.4,440.07 L97.9,440.29 L98.4,440.51 L98.9,440.74 L99.4,440.96 L99.9,441.17 L100.4,441.36 L100.9,441.54 L101.4,441.71 L101.9,441.87 L102.4,442.02 L102.9,442.17 L103.4,442.31 L103.9,442.45 L104.4,442.59 L104.9,442.73 L105.4,442.87 L105.9,443.02 L106.4,443.17 L106.9,443.33 L107.4,443.5 L107.9,443.7 L108.4,443.92 L108.9,444.15 L109.4,444.4 L109.9,444.65 L110.4,444.9 L110.9,445.14 L111.4,445.36 L111.9,445.56 L112.4,445.73 L112.9,445.86 L113.4,445.95 L113.9,446.01 L114.4,446.06 L114.9,446.1 L115.4,446.15 L115.9,446.19 L116.4,446.22 L116.9,446.25 L117.4,446.28 L117.9,446.31 L118.4,446.33 L118.9,446.34 L119.4,446.35 L119.9,446.35 L120.4,446.35 L120.9,446.34 L121.4,446.33 L121.9,446.31 L122.4,446.29 L122.9,446.27 L123.4,446.24 L123.9,446.2 L124.4,446.16 L124.9,446.11 L125.4,446.06 L125.9,446.01 L126.4,445.92 L126.9,445.6 L127.4,445.05 L127.9,444.35 L128.4,443.58 L128.9,442.81 L129.4,442.14 L129.9,441.62 L130.4,441.28 L130.9,440.99 L131.4,440.73 L131.9,440.5 L132.4,440.29 L132.9,440.08 L133.4,439.87 L133.9,439.65 L134.4,439.4 L134.9,439.12 L135.4,438.78 L135.9,438.37 L136.4,437.89 L136.9,437.38 L137.4,436.85 L137.9,436.32 L138.4,435.82 L138.9,435.37 L139.4,434.99 L139.9,434.69 L140.4,434.49 L140.9,434.32 L141.4,434.17 L141.9,434.05 L142.4,433.93 L142.9,433.82 L143.4,433.72 L143.9,433.62 L144.4,433.51 L144.9,433.4 L145.4,433.28 L145.9,433.16 L146.4,433.05 L146.9,432.94 L147.4,432.83 L147.9,432.72 L148.4,432.6 L148.9,432.48 L149.4,432.34 L149.9,432.18 L150.4,432 L150.9,431.79 L151.4,431.53 L151.9,431.25 L152.4,430.93 L152.9,430.6 L153.4,430.25 L153.9,429.89 L154.4,429.53 L154.9,429.18 L155.4,428.83 L155.9,428.44 L156.4,428 L156.9,427.52 L157.4,427.04 L157.9,426.57 L158.4,426.13 L158.9,425.74 L159.4,425.43 L159.9,425.21 L160.4,425.11 L160.9,425.07 L161.4,425.03 L161.9,425.01 L162.4,424.98 L162.9,424.96 L163.4,424.95 L163.9,424.93 L164.4,424.91 L164.9,424.89 L165.4,424.86 L165.9,424.83 L166.4,424.8 L166.9,424.78 L167.4,424.75 L167.9,424.72 L168.4,424.68 L168.9,424.65 L169.4,424.6 L169.9,424.55 L170.4,424.49 L170.9,424.4 L171.4,424.24 L171.9,424.02 L172.4,423.76 L172.9,423.47 L173.4,423.16 L173.9,422.85 L174.4,422.54 L174.9,422.26 L175.4,422.01 L175.9,421.79 L176.4,421.58 L176.9,421.37 L177.4,421.16 L177.9,420.96 L178.4,420.77 L178.9,420.59 L179.4,420.41 L179.9,420.25 L180.4,420.11 L180.9,419.98 L181.4,419.86 L181.9,419.75 L182.4,419.65 L182.9,419.56 L183.4,419.47 L183.9,419.38 L184.4,419.29 L184.9,419.2 L185.4,419.11 L185.9,419.01 L186.4,418.91 L186.9,418.8 L187.4,418.67 L187.9,418.54 L188.4,418.4 L188.9,418.25 L189.4,418.1 L189.9,417.95 L190.4,417.79 L190.9,417.63 L191.4,417.47 L191.9,417.31 L192.4,417.15 L192.9,417 L193.4,416.85 L193.9,416.7 L194.4,416.57 L194.9,416.44 L195.4,416.31 L195.9,416.18 L196.4,416.04 L196.9,415.91 L197.4,415.76 L197.9,415.61 L198.4,415.44 L198.9,415.26 L199.4,415.07 L199.9,414.83 L200.4,414.51 L200.9,414.12 L201.4,413.68 L201.9,413.2 L202.4,412.71 L202.9,412.22 L203.4,411.75 L203.9,411.33 L204.4,410.97 L204.9,410.69 L205.4,410.51 L205.9,410.45 L206.4,410.47 L206.9,410.51 L207.4,410.58 L207.9,410.66 L208.4,410.77 L208.9,410.88 L209.4,411.01 L209.9,411.16 L210.4,411.38 L210.9,411.7 L211.4,412.08 L211.9,412.51 L212.4,412.97 L212.9,413.45 L213.4,413.92 L213.9,414.39 L214.4,414.81 L214.4,444.02 L213.9,443.63 L213.4,443.23 L212.9,442.82 L212.4,442.42 L211.9,442.06 L211.4,441.76 L210.9,441.53 L210.4,441.34 L209.9,441.16 L209.4,440.98 L208.9,440.82 L208.4,440.67 L207.9,440.54 L207.4,440.43 L206.9,440.35 L206.4,440.3 L205.9,440.28 L205.4,440.32 L204.9,440.41 L204.4,440.56 L203.9,440.75 L203.4,440.97 L202.9,441.21 L202.4,441.46 L201.9,441.71 L201.4,441.94 L200.9,442.15 L200.4,442.34 L199.9,442.53 L199.4,442.71 L198.9,442.9 L198.4,443.09 L197.9,443.28 L197.4,443.46 L196.9,443.65 L196.4,443.84 L195.9,444.02 L195.4,444.21 L194.9,444.39 L194.4,444.57 L193.9,444.75 L193.4,444.93 L192.9,445.11 L192.4,445.3 L191.9,445.49 L191.4,445.68 L190.9,445.89 L190.4,446.1 L189.9,446.33 L189.4,446.56 L188.9,446.8 L188.4,447.04 L187.9,447.3 L187.4,447.55 L186.9,447.82 L186.4,448.09 L185.9,448.36 L185.4,448.64 L184.9,448.92 L184.4,449.22 L183.9,449.52 L183.4,449.82 L182.9,450.14 L182.4,450.46 L181.9,450.78 L181.4,451.11 L180.9,451.45 L180.4,451.79 L179.9,452.14 L179.4,452.49 L178.9,452.86 L178.4,453.23 L177.9,453.61 L177.4,453.99 L176.9,454.38 L176.4,454.77 L175.9,455.16 L175.4,455.56 L174.9,455.98 L174.4,456.42 L173.9,456.87 L173.4,457.32 L172.9,457.75 L172.4,458.15 L171.9,458.51 L171.4,458.81 L170.9,459.08 L170.4,459.31 L169.9,459.53 L169.4,459.75 L168.9,459.99 L168.4,460.24 L167.9,460.54 L167.4,460.88 L166.9,461.27 L166.4,461.7 L165.9,462.14 L165.4,462.59 L164.9,463.04 L164.4,463.47 L163.9,463.88 L163.4,464.36 L162.9,464.85 L162.4,465.27 L161.9,465.52 L161.4,465.57 L160.9,465.57 L160.4,465.57 L159.9,465.57 L159.4,465.57 L158.9,465.57 L158.4,465.57 L157.9,465.57 L157.4,465.57 L156.9,465.57 L156.4,465.57 L155.9,465.57 L155.4,465.57 L154.9,465.57 L154.4,465.57 L153.9,465.57 L153.4,465.57 L152.9,465.57 L152.4,465.57 L151.9,465.57 L151.4,465.57 L150.9,465.57 L150.4,465.57 L149.9,465.57 L149.4,465.57 L148.9,465.57 L148.4,465.57 L147.9,465.57 L147.4,465.57 L146.9,465.57 L146.4,465.57 L145.9,465.57 L145.4,465.57 L144.9,465.57 L144.4,465.57 L143.9,465.57 L143.4,465.57 L142.9,465.57 L142.4,465.57 L141.9,465.57 L141.4,465.57 L140.9,465.57 L140.4,465.57 L139.9,465.57 L139.4,465.57 L138.9,465.57 L138.4,465.57 L137.9,465.57 L137.4,465.57 L136.9,465.57 L136.4,465.57 L135.9,465.57 L135.4,465.57 L134.9,465.57 L134.4,465.57 L133.9,465.57 L133.4,465.57 L132.9,465.57 L132.4,465.57 L131.9,465.57 L131.4,465.57 L130.9,465.57 L130.4,465.57 L129.9,465.57 L129.4,465.66 L128.9,465.87 L128.4,466.16 L127.9,466.51 L127.4,466.88 L126.9,467.25 L126.4,467.58 L125.9,467.86 L125.4,468.04 L124.9,468.09 L124.4,468.09 L123.9,468.09 L123.4,468.09 L122.9,468.09 L122.4,468.09 L121.9,468.09 L121.4,468.09 L120.9,468.09 L120.4,468.09 L119.9,468.09 L119.4,468.07 L118.9,468.01 L118.4,467.91 L117.9,467.78 L117.4,467.63 L116.9,467.47 L116.4,467.31 L115.9,467.14 L115.4,466.99 L114.9,466.85 L114.4,466.72 L113.9,466.6 L113.4,466.47 L112.9,466.35 L112.4,466.22 L111.9,466.1 L111.4,465.97 L110.9,465.85 L110.4,465.72 L109.9,465.6 L109.4,465.47 L108.9,465.34 L108.4,465.21 L107.9,465.08 L107.4,464.94 L106.9,464.81 L106.4,464.69 L105.9,464.56 L105.4,464.45 L104.9,464.34 L104.4,464.24 L103.9,464.16 L103.4,464.08 L102.9,464 L102.4,463.93 L101.9,463.85 L101.4,463.77 L100.9,463.67 L100.4,463.56 L99.9,463.44 L99.4,463.31 L98.9,463.17 L98.4,463.03 L97.9,462.87 L97.4,462.72 L96.9,462.56 L96.4,462.39 L95.9,462.22 L95.4,462.05 L94.9,461.88 L94.4,461.71 L93.9,461.53 L93.4,461.33 L92.9,461.13 L92.4,460.92 L91.9,460.71 L91.4,460.5 L90.9,460.28 L90.4,460.07 L89.9,459.87 L89.4,459.67 L88.9,459.47 L88.4,459.29 L87.9,459.12 L87.4,458.95 L86.9,458.79 L86.4,458.62 L85.9,458.46 L85.4,458.31 L84.9,458.15 L84.4,458.01 L83.9,457.86 L83.4,457.72 L82.9,457.59 L82.4,457.46 L81.9,457.34 L81.4,457.22 L80.9,457.12 L80.4,457.02 L79.9,456.92 L79.4,456.83 L78.9,456.74 L78.4,456.65 L77.9,456.56 L77.4,456.46 L76.9,456.37 L76.4,456.26 L75.9,456.15 L75.4,456.03 L74.9,455.91 L74.4,455.78 L73.9,455.64 L73.4,455.5 L72.9,455.35 L72.4,455.2 L71.9,455.05 L71.4,454.89 L70.9,454.73 L70.4,454.56 L69.9,454.39 L69.4,454.22 L68.9,454.05 L68.4,453.86 L67.9,453.66 L67.4,453.45 L66.9,453.23 L66.4,453.01 L65.9,452.79 L65.4,452.58 L64.9,452.37 L64.4,452.16 L63.9,451.97 L63.4,451.8 L62.9,451.64 L62.4,451.49 L61.9,451.35 L61.4,451.21 L60.9,451.08 L60.4,450.95 L59.9,450.83 L59.4,450.71 L58.9,450.6 L58.4,450.5 L57.9,450.39 L57.4,450.29 L56.9,450.18 L56.4,450.07 L55.9,449.96 L55.4,449.88 L54.9,449.81 L54.4,449.77 L53.9,449.76 L53.4,449.76 L52.9,449.76 L52.4,449.76 L51.9,449.76 L51.4,449.76 L50.9,449.76 L50.4,449.76 L49.9,449.71 L49.4,449.54 L48.9,449.27 L48.4,448.95 L47.9,448.6 L47.4,448.25 L46.9,447.93 L46.4,447.87Z" fill="#000" fill-opacity="0.2"/>
<path d="M47.5,414.26V448.31M50,417.91V449.73M52.5,421.38V449.76M55,424.28V449.82M57.5,426.85V450.31M60,428.67V450.85M62.5,430.36V451.52M65,431.43V452.41M67.5,432.36V453.49M70,433.08V454.43M72.5,433.9V455.23M75,434.57V455.93M77.5,435.01V456.48M80,435.46V456.94M82.5,436V457.49M85,436.77V458.18M87.5,437.56V458.99M90,438.12V459.91M92.5,438.56V460.97M95,439.14V461.91M97.5,440.11V462.75M100,441.21V463.46M102.5,442.05V463.95M105,442.75V464.36M107.5,443.54V464.97M110,444.7V465.62M112.5,445.76V466.25M115,446.11V466.88M117.5,446.29V467.67M120,446.35V468.09M122.5,446.29V468.09M125,446.11V468.09M127.5,444.92V466.81M130,441.55V465.57M132.5,440.25V465.57M135,439.06V465.57M137.5,436.74V465.57M140,434.64V465.57M142.5,433.91V465.57M145,433.37V465.57M147.5,432.81V465.57M150,432.15V465.57M152.5,430.87V465.57M155,429.11V465.57M157.5,426.94V465.57M160,425.18V465.57M162.5,424.98V465.19M165,424.88V462.95M167.5,424.74V460.81M170,424.54V459.49M172.5,423.7V458.07M175,422.21V455.89M177.5,421.12V453.91M180,420.22V452.07M182.5,419.63V450.39M185,419.19V448.87M187.5,418.65V447.5M190,417.91V446.28M192.5,417.12V445.26M195,416.41V444.36M197.5,415.73V443.43M200,414.78V442.49M202.5,412.61V441.41M205,410.65V440.39M207.5,410.59V440.45M210,411.19V441.19M212.5,413.06V442.5" stroke="#333333" stroke-width="1" fill="none"/>
<line x1="46.4" y1="465.5" x2="214.4" y2="465.5" stroke="#000" stroke-opacity="0.55" stroke-width="1"/>
<path d="M46.4,430.17 L46.9,430.3 L47.4,430.86 L47.9,431.44 L48.4,432.02 L48.9,432.59 L49.4,433.12 L49.9,433.61 L50.4,434.02 L50.9,434.39 L51.4,434.73 L51.9,435.05 L52.4,435.34 L52.9,435.62 L53.4,435.88 L53.9,436.13 L54.4,436.37 L54.9,436.58 L55.4,436.78 L55.9,436.97 L56.4,437.16 L56.9,437.34 L57.4,437.54 L57.9,437.75 L58.4,437.98 L58.9,438.22 L59.4,438.47 L59.9,438.73 L60.4,438.99 L60.9,439.26 L61.4,439.52 L61.9,439.77 L62.4,440.02 L62.9,440.25 L63.4,440.47 L63.9,440.69 L64.4,440.9 L64.9,441.11 L65.4,441.31 L65.9,441.51 L66.4,441.71 L66.9,441.9 L67.4,442.09 L67.9,442.28 L68.4,442.47 L68.9,442.66 L69.4,442.85 L69.9,443.04 L70.4,443.24 L70.9,443.44 L71.4,443.63 L71.9,443.83 L72.4,444.02 L72.9,444.21 L73.4,444.39 L73.9,444.57 L74.4,444.73 L74.9,444.89 L75.4,445.03 L75.9,445.16 L76.4,445.27 L76.9,445.38 L77.4,445.48 L77.9,445.58 L78.4,445.67 L78.9,445.76 L79.4,445.85 L79.9,445.94 L80.4,446.03 L80.9,446.13 L81.4,446.23 L81.9,446.34 L82.4,446.46 L82.9,446.58 L83.4,446.71 L83.9,446.84 L84.4,446.98 L84.9,447.11 L85.4,447.26 L85.9,447.4 L86.4,447.55 L86.9,447.7 L87.4,447.85 L87.9,448.01 L88.4,448.16 L88.9,448.33 L89.4,448.5 L89.9,448.68 L90.4,448.86 L90.9,449.05 L91.4,449.24 L91.9,449.43 L92.4,449.62 L92.9,449.8 L93.4,449.99 L93.9,450.16 L94.4,450.33 L94.9,450.5 L95.4,450.66 L95.9,450.81 L96.4,450.96 L96.9,451.11 L97.4,451.26 L97.9,451.41 L98.4,451.56 L98.9,451.7 L99.4,451.85 L99.9,451.99 L100.4,452.14 L100.9,452.29 L101.4,452.44 L101.9,452.59 L102.4,452.73 L102.9,452.88 L103.4,453.02 L103.9,453.17 L104.4,453.31 L104.9,453.46 L105.4,453.61 L105.9,453.77 L106.4,453.92 L106.9,454.08 L107.4,454.24 L107.9,454.42 L108.4,454.6 L108.9,454.79 L109.4,454.99 L109.9,455.19 L110.4,455.38 L110.9,455.58 L111.4,455.77 L111.9,455.95 L112.4,456.12 L112.9,456.28 L113.4,456.42 L113.9,456.55 L114.4,456.69 L114.9,456.82 L115.4,456.96 L115.9,457.09 L116.4,457.22 L116.9,457.34 L117.4,457.45 L117.9,457.54 L118.4,457.62 L118.9,457.68 L119.4,457.72 L119.9,457.73 L120.4,457.72 L120.9,457.71 L121.4,457.69 L121.9,457.66 L122.4,457.62 L122.9,457.58 L123.4,457.53 L123.9,457.47 L124.4,457.42 L124.9,457.35 L125.4,457.28 L125.9,457.16 L126.4,457.01 L126.9,456.84 L127.4,456.65 L127.9,456.43 L128.4,456.21 L128.9,455.98 L129.4,455.74 L129.9,455.5 L130.4,455.25 L130.9,454.98 L131.4,454.67 L131.9,454.35 L132.4,454.02 L132.9,453.67 L133.4,453.33 L133.9,453 L134.4,452.68 L134.9,452.38 L135.4,452.1 L135.9,451.81 L136.4,451.52 L136.9,451.23 L137.4,450.94 L137.9,450.67 L138.4,450.42 L138.9,450.19 L139.4,449.99 L139.9,449.82 L140.4,449.69 L140.9,449.57 L141.4,449.46 L141.9,449.36 L142.4,449.27 L142.9,449.18 L143.4,449.1 L143.9,449.03 L144.4,448.97 L144.9,448.91 L145.4,448.86 L145.9,448.81 L146.4,448.78 L146.9,448.74 L147.4,448.71 L147.9,448.68 L148.4,448.65 L148.9,448.62 L149.4,448.58 L149.9,448.54 L150.4,448.48 L150.9,448.41 L151.4,448.31 L151.9,448.2 L152.4,448.08 L152.9,447.95 L153.4,447.81 L153.9,447.66 L154.4,447.51 L154.9,447.35 L155.4,447.2 L155.9,447.04 L156.4,446.86 L156.9,446.68 L157.4,446.48 L157.9,446.28 L158.4,446.08 L158.9,445.88 L159.4,445.68 L159.9,445.5 L160.4,445.32 L160.9,445.17 L161.4,445.02 L161.9,444.88 L162.4,444.75 L162.9,444.61 L163.4,444.48 L163.9,444.34 L164.4,444.18 L164.9,444.01 L165.4,443.83 L165.9,443.62 L166.4,443.37 L166.9,443.11 L167.4,442.82 L167.9,442.52 L168.4,442.21 L168.9,441.9 L169.4,441.58 L169.9,441.26 L170.4,440.96 L170.9,440.65 L171.4,440.34 L171.9,440.02 L172.4,439.7 L172.9,439.37 L173.4,439.05 L173.9,438.73 L174.4,438.42 L174.9,438.12 L175.4,437.83 L175.9,437.55 L176.4,437.27 L176.9,437 L177.4,436.73 L177.9,436.46 L178.4,436.2 L178.9,435.96 L179.4,435.72 L179.9,435.5 L180.4,435.3 L180.9,435.11 L181.4,434.94 L181.9,434.78 L182.4,434.63 L182.9,434.49 L183.4,434.35 L183.9,434.22 L184.4,434.08 L184.9,433.95 L185.4,433.81 L185.9,433.66 L186.4,433.5 L186.9,433.33 L187.4,433.15 L187.9,432.95 L188.4,432.74 L188.9,432.53 L189.4,432.32 L189.9,432.1 L190.4,431.9 L190.9,431.71 L191.4,431.52 L191.9,431.33 L192.4,431.14 L192.9,430.94 L193.4,430.73 L193.9,430.5 L194.4,430.26 L194.9,430 L195.4,429.74 L195.9,429.47 L196.4,429.2 L196.9,428.93 L197.4,428.66 L197.9,428.4 L198.4,428.16 L198.9,427.92 L199.4,427.71 L199.9,427.52 L200.4,427.35 L200.9,427.16 L201.4,426.9 L201.9,426.59 L202.4,426.25 L202.9,425.91 L203.4,425.6 L203.9,425.34 L204.4,425.16 L204.9,425.1 L205.4,425.11 L205.9,425.13 L206.4,425.18 L206.9,425.23 L207.4,425.3 L207.9,425.38 L208.4,425.46 L208.9,425.56 L209.4,425.68 L209.9,425.9 L210.4,426.21 L210.9,426.59 L211.4,427.02 L211.9,427.5 L212.4,428 L212.9,428.5 L213.4,429 L213.9,429.46 L214.4,429.8" stroke="#000" stroke-width="1.4" fill="none" stroke-linejoin="round"/>
<path d="M43.4,357.3V486.9" stroke="#959595" stroke-width="1.1" fill="none"/>
<path d="M43.4,357.3h3M43.4,378.9h3M43.4,400.5h3M43.4,422.1h3M43.4,443.7h3M43.4,465.3h3M43.4,486.9h3" stroke="#7a7a7a" stroke-width="1" fill="none"/>
<path d="M46.4,489.9H214.4" stroke="#959595" stroke-width="1.1" fill="none"/>
<path d="M46.4,489.9v-2.5M80,489.9v-2.5M113.6,489.9v-2.5M147.2,489.9v-2.5M180.8,489.9v-2.5M214.4,489.9v-2.5" stroke="#7a7a7a" stroke-width="1" fill="none"/>
<text x="40.8" y="359.5" class="tl" text-anchor="end">50</text>
<text x="40.8" y="381.1" class="tl" text-anchor="end">40</text>
<text x="40.8" y="402.7" class="tl" text-anchor="end">30</text>
<text x="40.8" y="424.3" class="tl" text-anchor="end">20</text>
<text x="40.8" y="445.9" class="tl" text-anchor="end">10</text>
<text x="40.8" y="467.5" class="tl" text-anchor="end">0</text>
<text x="40.8" y="489.1" class="tl" text-anchor="end">-10</text>
<text x="46.4" y="499.5" class="tl" text-anchor="middle">0</text>
<text x="80" y="499.5" class="tl" text-anchor="middle">20</text>
<text x="113.6" y="499.5" class="tl" text-anchor="middle">40</text>
<text x="147.2" y="499.5" class="tl" text-anchor="middle">60</text>
<text x="180.8" y="499.5" class="tl" text-anchor="middle">80</text>
<text x="214.4" y="499.5" class="tl" text-anchor="middle">100</text>
<text x="130.4" y="517.7" class="lb" text-anchor="middle">Stride Cycle (%)</text>
<text transform="translate(22.2,445) rotate(-90)" class="yl">Hip (<tspan dx="2.0" dy="-2.2">&#176;</tspan><tspan dx="-0.5" dy="2.2">)</tspan></text>
<path d="M270.5,385.42 L271,385.61 L271.5,386.05 L272,386.48 L272.5,386.91 L273,387.35 L273.5,387.78 L274,388.21 L274.5,388.65 L275,389.08 L275.5,389.52 L276,389.95 L276.5,390.38 L277,390.81 L277.5,391.24 L278,391.67 L278.5,392.1 L279,392.54 L279.5,392.98 L280,393.43 L280.5,393.88 L281,394.35 L281.5,394.83 L282,395.31 L282.5,395.81 L283,396.31 L283.5,396.81 L284,397.32 L284.5,397.83 L285,398.34 L285.5,398.85 L286,399.36 L286.5,399.87 L287,400.37 L287.5,400.87 L288,401.38 L288.5,401.88 L289,402.39 L289.5,402.9 L290,403.41 L290.5,403.91 L291,404.42 L291.5,404.92 L292,405.41 L292.5,405.9 L293,406.38 L293.5,406.85 L294,407.32 L294.5,407.78 L295,408.23 L295.5,408.67 L296,409.12 L296.5,409.56 L297,410 L297.5,410.44 L298,410.88 L298.5,411.33 L299,411.78 L299.5,412.24 L300,412.71 L300.5,413.19 L301,413.68 L301.5,414.17 L302,414.67 L302.5,415.17 L303,415.67 L303.5,416.16 L304,416.65 L304.5,417.13 L305,417.59 L305.5,418.04 L306,418.46 L306.5,418.88 L307,419.29 L307.5,419.7 L308,420.1 L308.5,420.49 L309,420.87 L309.5,421.25 L310,421.61 L310.5,421.97 L311,422.32 L311.5,422.66 L312,422.99 L312.5,423.3 L313,423.61 L313.5,423.91 L314,424.2 L314.5,424.48 L315,424.75 L315.5,425.02 L316,425.29 L316.5,425.55 L317,425.81 L317.5,426.07 L318,426.33 L318.5,426.59 L319,426.85 L319.5,427.1 L320,427.35 L320.5,427.59 L321,427.83 L321.5,428.07 L322,428.32 L322.5,428.56 L323,428.8 L323.5,429.05 L324,429.31 L324.5,429.57 L325,429.84 L325.5,430.12 L326,430.4 L326.5,430.69 L327,430.98 L327.5,431.28 L328,431.58 L328.5,431.88 L329,432.19 L329.5,432.5 L330,432.81 L330.5,433.12 L331,433.44 L331.5,433.75 L332,434.07 L332.5,434.4 L333,434.73 L333.5,435.07 L334,435.4 L334.5,435.74 L335,436.08 L335.5,436.41 L336,436.75 L336.5,437.07 L337,437.4 L337.5,437.72 L338,438.04 L338.5,438.36 L339,438.69 L339.5,439.03 L340,439.36 L340.5,439.69 L341,440.01 L341.5,440.32 L342,440.62 L342.5,440.89 L343,441.15 L343.5,441.39 L344,441.59 L344.5,441.8 L345,442.01 L345.5,442.21 L346,442.42 L346.5,442.61 L347,442.8 L347.5,442.96 L348,443.11 L348.5,443.24 L349,443.34 L349.5,443.41 L350,443.44 L350.5,443.44 L351,443.42 L351.5,443.38 L352,443.33 L352.5,443.27 L353,443.21 L353.5,443.14 L354,443.06 L354.5,442.99 L355,442.91 L355.5,442.83 L356,442.75 L356.5,442.66 L357,442.56 L357.5,442.47 L358,442.36 L358.5,442.26 L359,442.15 L359.5,442.03 L360,441.91 L360.5,441.79 L361,441.67 L361.5,441.53 L362,441.4 L362.5,441.26 L363,441.11 L363.5,440.97 L364,440.81 L364.5,440.66 L365,440.5 L365.5,440.33 L366,440.16 L366.5,439.99 L367,439.81 L367.5,439.63 L368,439.44 L368.5,439.25 L369,439.05 L369.5,438.85 L370,438.65 L370.5,438.44 L371,438.22 L371.5,438 L372,437.78 L372.5,437.56 L373,437.32 L373.5,437.09 L374,436.85 L374.5,436.6 L375,436.35 L375.5,436.1 L376,435.84 L376.5,435.58 L377,435.31 L377.5,435.04 L378,434.76 L378.5,434.48 L379,434.19 L379.5,433.9 L380,433.6 L380.5,433.3 L381,433 L381.5,432.69 L382,432.38 L382.5,432.06 L383,431.73 L383.5,431.41 L384,431.07 L384.5,430.73 L385,430.39 L385.5,430.04 L386,429.69 L386.5,429.34 L387,428.97 L387.5,428.61 L388,428.24 L388.5,427.86 L389,427.48 L389.5,427.09 L390,426.7 L390.5,426.31 L391,425.91 L391.5,425.5 L392,425.09 L392.5,424.67 L393,424.25 L393.5,423.83 L394,423.4 L394.5,422.96 L395,422.52 L395.5,422.08 L396,421.63 L396.5,421.17 L397,420.71 L397.5,420.25 L398,419.78 L398.5,419.3 L399,418.82 L399.5,418.33 L400,417.84 L400.5,417.35 L401,416.85 L401.5,416.34 L402,415.83 L402.5,415.31 L403,414.79 L403.5,414.27 L404,413.73 L404.5,413.2 L405,412.65 L405.5,412.11 L406,411.54 L406.5,410.74 L407,409.73 L407.5,408.6 L408,407.47 L408.5,406.43 L409,405.43 L409.5,404.43 L410,403.43 L410.5,402.43 L411,401.43 L411.5,400.41 L412,399.38 L412.5,398.37 L413,397.38 L413.5,396.44 L414,395.53 L414.5,394.63 L415,393.75 L415.5,392.9 L416,392.08 L416.5,391.29 L417,390.56 L417.5,389.87 L418,389.2 L418.5,388.55 L419,387.92 L419.5,387.34 L420,386.79 L420.5,386.28 L421,385.83 L421.5,385.41 L422,385 L422.5,384.61 L423,384.25 L423.5,383.92 L424,383.63 L424.5,383.4 L425,383.21 L425.5,383.04 L426,382.88 L426.5,382.73 L427,382.6 L427.5,382.49 L428,382.42 L428.5,382.39 L429,382.4 L429.5,382.45 L430,382.54 L430.5,382.65 L431,382.79 L431.5,382.95 L432,383.13 L432.5,383.31 L433,383.55 L433.5,383.87 L434,384.26 L434.5,384.7 L435,385.18 L435.5,385.69 L436,386.22 L436.5,386.77 L437,387.43 L437.5,388.15 L438,388.9 L438.5,389.59 L438.5,423.1 L438,422.35 L437.5,421.6 L437,420.88 L436.5,420.18 L436,419.43 L435.5,418.67 L435,417.96 L434.5,417.37 L434,416.94 L433.5,416.74 L433,416.58 L432.5,416.45 L432,416.33 L431.5,416.24 L431,416.17 L430.5,416.12 L430,416.1 L429.5,416.12 L429,416.17 L428.5,416.27 L428,416.39 L427.5,416.54 L427,416.7 L426.5,416.87 L426,417.03 L425.5,417.22 L425,417.43 L424.5,417.68 L424,417.94 L423.5,418.23 L423,418.54 L422.5,418.87 L422,419.21 L421.5,419.58 L421,419.98 L420.5,420.42 L420,420.9 L419.5,421.42 L419,421.98 L418.5,422.6 L418,423.33 L417.5,424.21 L417,425.21 L416.5,426.28 L416,427.39 L415.5,428.51 L415,429.58 L414.5,430.6 L414,431.58 L413.5,432.56 L413,433.54 L412.5,434.52 L412,435.52 L411.5,436.54 L411,437.59 L410.5,438.68 L410,439.82 L409.5,441 L409,442.19 L408.5,443.39 L408,444.57 L407.5,445.72 L407,446.82 L406.5,447.9 L406,448.97 L405.5,450 L405,450.97 L404.5,451.87 L404,452.68 L403.5,453.43 L403,454.16 L402.5,454.89 L402,455.66 L401.5,456.48 L401,457.32 L400.5,458.19 L400,459.05 L399.5,459.9 L399,460.72 L398.5,461.5 L398,462.24 L397.5,462.95 L397,463.65 L396.5,464.32 L396,464.98 L395.5,465.61 L395,466.22 L394.5,466.8 L394,467.36 L393.5,467.9 L393,468.43 L392.5,468.93 L392,469.42 L391.5,469.89 L391,470.34 L390.5,470.77 L390,471.2 L389.5,471.62 L389,472.03 L388.5,472.43 L388,472.82 L387.5,473.19 L387,473.54 L386.5,473.87 L386,474.18 L385.5,474.45 L385,474.73 L384.5,475.01 L384,475.3 L383.5,475.57 L383,475.84 L382.5,476.1 L382,476.33 L381.5,476.54 L381,476.71 L380.5,476.85 L380,476.95 L379.5,477 L379,477 L378.5,476.99 L378,476.98 L377.5,476.97 L377,476.95 L376.5,476.93 L376,476.91 L375.5,476.88 L375,476.85 L374.5,476.81 L374,476.78 L373.5,476.74 L373,476.7 L372.5,476.64 L372,476.56 L371.5,476.45 L371,476.32 L370.5,476.18 L370,476.03 L369.5,475.87 L369,475.7 L368.5,475.54 L368,475.38 L367.5,475.23 L367,475.1 L366.5,474.98 L366,474.87 L365.5,474.78 L365,474.68 L364.5,474.6 L364,474.51 L363.5,474.43 L363,474.34 L362.5,474.26 L362,474.16 L361.5,474.07 L361,473.96 L360.5,473.85 L360,473.72 L359.5,473.58 L359,473.43 L358.5,473.27 L358,473.09 L357.5,472.91 L357,472.72 L356.5,472.52 L356,472.31 L355.5,472.11 L355,471.89 L354.5,471.68 L354,471.47 L353.5,471.26 L353,471.05 L352.5,470.85 L352,470.65 L351.5,470.45 L351,470.27 L350.5,470.09 L350,469.92 L349.5,469.76 L349,469.61 L348.5,469.46 L348,469.32 L347.5,469.18 L347,469.04 L346.5,468.9 L346,468.75 L345.5,468.61 L345,468.46 L344.5,468.3 L344,468.13 L343.5,467.96 L343,467.78 L342.5,467.59 L342,467.39 L341.5,467.19 L341,466.99 L340.5,466.78 L340,466.58 L339.5,466.37 L339,466.16 L338.5,465.95 L338,465.74 L337.5,465.54 L337,465.34 L336.5,465.15 L336,464.95 L335.5,464.76 L335,464.57 L334.5,464.37 L334,464.18 L333.5,463.98 L333,463.78 L332.5,463.57 L332,463.37 L331.5,463.15 L331,462.93 L330.5,462.71 L330,462.49 L329.5,462.26 L329,462.03 L328.5,461.79 L328,461.56 L327.5,461.32 L327,461.08 L326.5,460.83 L326,460.59 L325.5,460.34 L325,460.09 L324.5,459.84 L324,459.58 L323.5,459.33 L323,459.07 L322.5,458.81 L322,458.55 L321.5,458.28 L321,458.02 L320.5,457.75 L320,457.48 L319.5,457.21 L319,456.94 L318.5,456.67 L318,456.39 L317.5,456.12 L317,455.84 L316.5,455.56 L316,455.27 L315.5,454.99 L315,454.7 L314.5,454.41 L314,454.12 L313.5,453.82 L313,453.52 L312.5,453.23 L312,452.92 L311.5,452.62 L311,452.32 L310.5,452.01 L310,451.7 L309.5,451.39 L309,451.08 L308.5,450.76 L308,450.45 L307.5,450.13 L307,449.81 L306.5,449.49 L306,449.17 L305.5,448.84 L305,448.5 L304.5,448.16 L304,447.8 L303.5,447.44 L303,447.07 L302.5,446.69 L302,446.31 L301.5,445.93 L301,445.55 L300.5,445.17 L300,444.78 L299.5,444.4 L299,444.02 L298.5,443.65 L298,443.28 L297.5,442.92 L297,442.56 L296.5,442.22 L296,441.88 L295.5,441.56 L295,441.24 L294.5,440.94 L294,440.66 L293.5,440.39 L293,440.13 L292.5,439.88 L292,439.63 L291.5,439.38 L291,439.13 L290.5,438.88 L290,438.64 L289.5,438.4 L289,438.16 L288.5,437.93 L288,437.7 L287.5,437.48 L287,437.26 L286.5,437.05 L286,436.85 L285.5,436.65 L285,436.47 L284.5,436.29 L284,436.12 L283.5,435.95 L283,435.8 L282.5,435.66 L282,435.53 L281.5,435.41 L281,435.3 L280.5,435.2 L280,435.11 L279.5,435.02 L279,434.94 L278.5,434.87 L278,434.8 L277.5,434.73 L277,434.67 L276.5,434.61 L276,434.55 L275.5,434.49 L275,434.44 L274.5,434.38 L274,434.33 L273.5,434.28 L273,434.22 L272.5,434.17 L272,434.11 L271.5,434.05 L271,433.99 L270.5,433.96Z" fill="#b0b0b0"/>
<path d="M270.5,407.92 L271,408.16 L271.5,408.68 L272,409.2 L272.5,409.71 L273,410.24 L273.5,410.78 L274,411.34 L274.5,411.93 L275,412.55 L275.5,413.2 L276,413.87 L276.5,414.56 L277,415.25 L277.5,415.94 L278,416.62 L278.5,417.29 L279,417.96 L279.5,418.64 L280,419.32 L280.5,420 L281,420.66 L281.5,421.31 L282,421.94 L282.5,422.57 L283,423.2 L283.5,423.83 L284,424.44 L284.5,425.02 L285,425.56 L285.5,426.06 L286,426.53 L286.5,427.03 L287,427.5 L287.5,427.88 L288,428.11 L288.5,428.16 L289,428.18 L289.5,428.2 L290,428.21 L290.5,428.22 L291,428.22 L291.5,428.23 L292,428.24 L292.5,428.25 L293,428.26 L293.5,428.28 L294,428.31 L294.5,428.34 L295,428.38 L295.5,428.42 L296,428.47 L296.5,428.53 L297,428.58 L297.5,428.64 L298,428.7 L298.5,428.77 L299,428.83 L299.5,428.89 L300,428.95 L300.5,429.02 L301,429.1 L301.5,429.18 L302,429.26 L302.5,429.34 L303,429.43 L303.5,429.52 L304,429.6 L304.5,429.69 L305,429.77 L305.5,429.85 L306,429.93 L306.5,430 L307,430.07 L307.5,430.14 L308,430.2 L308.5,430.27 L309,430.33 L309.5,430.4 L310,430.47 L310.5,430.54 L311,430.61 L311.5,430.68 L312,430.76 L312.5,430.84 L313,430.93 L313.5,431.01 L314,431.1 L314.5,431.2 L315,431.29 L315.5,431.39 L316,431.49 L316.5,431.59 L317,431.7 L317.5,431.81 L318,431.93 L318.5,432.04 L319,432.17 L319.5,432.29 L320,432.42 L320.5,432.55 L321,432.69 L321.5,432.83 L322,432.98 L322.5,433.14 L323,433.3 L323.5,433.46 L324,433.63 L324.5,433.81 L325,434 L325.5,434.2 L326,434.41 L326.5,434.64 L327,434.89 L327.5,435.14 L328,435.4 L328.5,435.67 L329,435.94 L329.5,436.21 L330,436.48 L330.5,436.75 L331,437 L331.5,437.25 L332,437.5 L332.5,437.75 L333,438 L333.5,438.25 L334,438.5 L334.5,438.75 L335,439 L335.5,439.25 L336,439.5 L336.5,439.75 L337,440 L337.5,440.25 L338,440.52 L338.5,440.81 L339,441.13 L339.5,441.46 L340,441.79 L340.5,442.12 L341,442.43 L341.5,442.72 L342,442.97 L342.5,443.17 L343,443.33 L343.5,443.42 L344,443.44 L344.5,443.44 L345,443.44 L345.5,443.44 L346,443.44 L346.5,443.44 L347,443.44 L347.5,443.44 L348,443.44 L348.5,443.44 L349,443.44 L349.5,443.44 L350,443.44 L350.5,443.42 L351,443.31 L351.5,443.11 L352,442.85 L352.5,442.55 L353,442.21 L353.5,441.87 L354,441.55 L354.5,441.2 L355,440.81 L355.5,440.37 L356,439.91 L356.5,439.43 L357,438.94 L357.5,438.46 L358,438 L358.5,437.56 L359,437.17 L359.5,436.8 L360,436.43 L360.5,436.07 L361,435.71 L361.5,435.37 L362,435.04 L362.5,434.74 L363,434.46 L363.5,434.21 L364,434.01 L364.5,433.83 L365,433.66 L365.5,433.49 L366,433.34 L366.5,433.2 L367,433.07 L367.5,432.95 L368,432.85 L368.5,432.77 L369,432.71 L369.5,432.67 L370,432.64 L370.5,432.62 L371,432.59 L371.5,432.58 L372,432.56 L372.5,432.54 L373,432.52 L373.5,432.5 L374,432.46 L374.5,432.42 L375,432.37 L375.5,432.31 L376,432.23 L376.5,432.14 L377,432.04 L377.5,431.93 L378,431.81 L378.5,431.67 L379,431.52 L379.5,431.36 L380,431.13 L380.5,430.83 L381,430.48 L381.5,430.08 L382,429.66 L382.5,429.22 L383,428.77 L383.5,428.33 L384,427.92 L384.5,427.53 L385,427.15 L385.5,426.77 L386,426.38 L386.5,426 L387,425.61 L387.5,425.23 L388,424.86 L388.5,424.49 L389,424.13 L389.5,423.79 L390,423.46 L390.5,423.13 L391,422.81 L391.5,422.5 L392,422.2 L392.5,421.89 L393,421.59 L393.5,421.29 L394,420.98 L394.5,420.67 L395,420.36 L395.5,420.05 L396,419.74 L396.5,419.44 L397,419.13 L397.5,418.82 L398,418.51 L398.5,418.19 L399,417.87 L399.5,417.55 L400,417.21 L400.5,416.85 L401,416.48 L401.5,416.1 L402,415.7 L402.5,415.3 L403,414.89 L403.5,414.48 L404,414.08 L404.5,413.67 L405,413.28 L405.5,412.89 L406,412.52 L406.5,412.16 L407,411.82 L407.5,411.5 L408,411.21 L408.5,410.94 L409,410.71 L409.5,410.51 L410,410.33 L410.5,410.18 L411,410.03 L411.5,409.9 L412,409.78 L412.5,409.67 L413,409.56 L413.5,409.45 L414,409.34 L414.5,409.23 L415,409.12 L415.5,409.01 L416,408.9 L416.5,408.79 L417,408.68 L417.5,408.57 L418,408.47 L418.5,408.38 L419,408.29 L419.5,408.21 L420,408.15 L420.5,408.08 L421,408.01 L421.5,407.94 L422,407.88 L422.5,407.82 L423,407.77 L423.5,407.72 L424,407.69 L424.5,407.68 L425,407.67 L425.5,407.67 L426,407.67 L426.5,407.67 L427,407.67 L427.5,407.67 L428,407.67 L428.5,407.67 L429,407.67 L429.5,407.67 L430,407.67 L430.5,407.7 L431,407.77 L431.5,407.86 L432,407.99 L432.5,408.13 L433,408.28 L433.5,408.45 L434,408.62 L434.5,408.79 L435,408.95 L435.5,409.13 L436,409.33 L436.5,409.55 L437,409.78 L437.5,410.01 L438,410.24 L438.5,410.45 L438.5,449.13 L438,448.59 L437.5,448.03 L437,447.47 L436.5,446.92 L436,446.38 L435.5,445.84 L435,445.28 L434.5,444.73 L434,444.2 L433.5,443.7 L433,443.25 L432.5,442.87 L432,442.53 L431.5,442.18 L431,441.85 L430.5,441.54 L430,441.27 L429.5,441.07 L429,440.95 L428.5,440.92 L428,440.94 L427.5,440.99 L427,441.06 L426.5,441.15 L426,441.26 L425.5,441.38 L425,441.5 L424.5,441.65 L424,441.86 L423.5,442.13 L423,442.44 L422.5,442.79 L422,443.16 L421.5,443.53 L421,443.9 L420.5,444.25 L420,444.57 L419.5,444.85 L419,445.12 L418.5,445.38 L418,445.63 L417.5,445.88 L417,446.12 L416.5,446.36 L416,446.6 L415.5,446.84 L415,447.09 L414.5,447.34 L414,447.59 L413.5,447.84 L413,448.09 L412.5,448.34 L412,448.59 L411.5,448.84 L411,449.09 L410.5,449.34 L410,449.59 L409.5,449.84 L409,450.09 L408.5,450.34 L408,450.59 L407.5,450.84 L407,451.09 L406.5,451.34 L406,451.59 L405.5,451.84 L405,452.09 L404.5,452.34 L404,452.58 L403.5,452.82 L403,453.06 L402.5,453.3 L402,453.55 L401.5,453.8 L401,454.07 L400.5,454.36 L400,454.67 L399.5,455 L399,455.34 L398.5,455.68 L398,456.03 L397.5,456.38 L397,456.72 L396.5,457.05 L396,457.38 L395.5,457.72 L395,458.05 L394.5,458.38 L394,458.72 L393.5,459.05 L393,459.38 L392.5,459.73 L392,460.1 L391.5,460.46 L391,460.81 L390.5,461.15 L390,461.46 L389.5,461.73 L389,461.97 L388.5,462.19 L388,462.41 L387.5,462.61 L387,462.8 L386.5,462.98 L386,463.15 L385.5,463.31 L385,463.47 L384.5,463.63 L384,463.77 L383.5,463.91 L383,464.04 L382.5,464.17 L382,464.29 L381.5,464.41 L381,464.53 L380.5,464.64 L380,464.76 L379.5,464.88 L379,465.01 L378.5,465.13 L378,465.25 L377.5,465.37 L377,465.49 L376.5,465.61 L376,465.73 L375.5,465.86 L375,465.99 L374.5,466.12 L374,466.27 L373.5,466.44 L373,466.62 L372.5,466.82 L372,467.03 L371.5,467.22 L371,467.41 L370.5,467.57 L370,467.71 L369.5,467.8 L369,467.86 L368.5,467.9 L368,467.94 L367.5,467.97 L367,468 L366.5,468.03 L366,468.05 L365.5,468.07 L365,468.08 L364.5,468.09 L364,468.09 L363.5,468.09 L363,468.08 L362.5,468.06 L362,468.04 L361.5,468.01 L361,467.98 L360.5,467.95 L360,467.91 L359.5,467.88 L359,467.84 L358.5,467.78 L358,467.71 L357.5,467.61 L357,467.51 L356.5,467.39 L356,467.27 L355.5,467.15 L355,467.04 L354.5,466.93 L354,466.83 L353.5,466.74 L353,466.65 L352.5,466.56 L352,466.47 L351.5,466.39 L351,466.31 L350.5,466.24 L350,466.17 L349.5,466.12 L349,466.07 L348.5,466.02 L348,465.98 L347.5,465.94 L347,465.9 L346.5,465.86 L346,465.81 L345.5,465.76 L345,465.71 L344.5,465.65 L344,465.58 L343.5,465.5 L343,465.39 L342.5,465.26 L342,465.12 L341.5,464.96 L341,464.79 L340.5,464.61 L340,464.43 L339.5,464.26 L339,464.09 L338.5,463.93 L338,463.78 L337.5,463.66 L337,463.54 L336.5,463.42 L336,463.31 L335.5,463.2 L335,463.1 L334.5,463 L334,462.9 L333.5,462.8 L333,462.71 L332.5,462.62 L332,462.53 L331.5,462.45 L331,462.37 L330.5,462.28 L330,462.2 L329.5,462.12 L329,462.04 L328.5,461.96 L328,461.89 L327.5,461.82 L327,461.75 L326.5,461.69 L326,461.63 L325.5,461.57 L325,461.53 L324.5,461.49 L324,461.45 L323.5,461.42 L323,461.4 L322.5,461.37 L322,461.35 L321.5,461.33 L321,461.3 L320.5,461.28 L320,461.25 L319.5,461.22 L319,461.18 L318.5,461.13 L318,461.08 L317.5,461 L317,460.92 L316.5,460.82 L316,460.72 L315.5,460.61 L315,460.5 L314.5,460.38 L314,460.26 L313.5,460.15 L313,460.03 L312.5,459.93 L312,459.82 L311.5,459.72 L311,459.62 L310.5,459.52 L310,459.42 L309.5,459.32 L309,459.22 L308.5,459.12 L308,459.02 L307.5,458.92 L307,458.82 L306.5,458.72 L306,458.62 L305.5,458.53 L305,458.43 L304.5,458.34 L304,458.25 L303.5,458.16 L303,458.07 L302.5,457.98 L302,457.89 L301.5,457.79 L301,457.68 L300.5,457.57 L300,457.45 L299.5,457.32 L299,457.17 L298.5,457.01 L298,456.84 L297.5,456.65 L297,456.45 L296.5,456.24 L296,456.03 L295.5,455.81 L295,455.59 L294.5,455.36 L294,455.14 L293.5,454.91 L293,454.69 L292.5,454.45 L292,454.19 L291.5,453.93 L291,453.66 L290.5,453.38 L290,453.11 L289.5,452.84 L289,452.58 L288.5,452.33 L288,452.09 L287.5,451.87 L287,451.67 L286.5,451.49 L286,451.3 L285.5,451.12 L285,450.95 L284.5,450.78 L284,450.62 L283.5,450.48 L283,450.35 L282.5,450.24 L282,450.16 L281.5,450.09 L281,450.03 L280.5,449.98 L280,449.94 L279.5,449.9 L279,449.86 L278.5,449.81 L278,449.75 L277.5,449.68 L277,449.6 L276.5,449.52 L276,449.43 L275.5,449.34 L275,449.25 L274.5,449.16 L274,449.08 L273.5,448.99 L273,448.9 L272.5,448.81 L272,448.72 L271.5,448.63 L271,448.54 L270.5,448.5Z" fill="#000" fill-opacity="0.2"/>
<path d="M271.6,408.78V448.65M274.1,411.45V449.09M276.6,414.7V449.54M279.1,418.1V449.87M281.6,421.44V450.1M284.1,424.55V450.65M286.6,427.12V451.52M289.1,428.19V452.63M291.6,428.23V453.98M294.1,428.31V455.18M296.6,428.54V456.29M299.1,428.84V457.2M301.6,429.19V457.81M304.1,429.62V458.27M306.6,430.01V458.74M309.1,430.35V459.24M311.6,430.7V459.74M314.1,431.12V460.28M316.6,431.62V460.84M319.1,432.19V461.19M321.6,432.86V461.33M324.1,433.67V461.46M326.6,434.69V461.7M329.1,436V462.06M331.6,437.3V462.47M334.1,438.55V462.92M336.6,439.8V463.45M339.1,441.2V464.12M341.6,442.77V464.99M344.1,443.44V465.6M346.6,443.44V465.86M349.1,443.44V466.07M351.6,443.07V466.4M354.1,441.48V466.85M356.6,439.33V467.42M359.1,437.09V467.84M361.6,435.3V468.02M364.1,433.97V468.09M366.6,433.17V468.03M369.1,432.7V467.85M371.6,432.57V467.19M374.1,432.46V466.24M376.6,432.12V465.59M379.1,431.49V464.98M381.6,430V464.39M384.1,427.84V463.74M386.6,425.92V462.94M389.1,424.06V461.92M391.6,422.44V460.39M394.1,420.92V458.65M396.6,419.37V456.98M399.1,417.81V455.27M401.6,416.02V453.75M404.1,414V452.53M406.6,412.09V451.29M409.1,410.67V450.04M411.6,409.88V448.79M414.1,409.32V447.54M416.6,408.76V446.31M419.1,408.28V445.07M421.6,407.93V443.46M424.1,407.69V441.81M426.6,407.67V441.13M429.1,407.67V440.96M431.6,407.89V442.25M434.1,408.66V444.3M436.6,409.6V447.03" stroke="#333333" stroke-width="1" fill="none"/>
<line x1="270.5" y1="465.5" x2="438.5" y2="465.5" stroke="#000" stroke-opacity="0.55" stroke-width="1"/>
<path d="M270.5,428.27 L271,428.43 L271.5,428.79 L272,429.15 L272.5,429.51 L273,429.87 L273.5,430.23 L274,430.58 L274.5,430.92 L275,431.26 L275.5,431.6 L276,431.93 L276.5,432.26 L277,432.59 L277.5,432.92 L278,433.25 L278.5,433.59 L279,433.93 L279.5,434.28 L280,434.63 L280.5,434.97 L281,435.3 L281.5,435.61 L282,435.91 L282.5,436.19 L283,436.46 L283.5,436.73 L284,436.98 L284.5,437.23 L285,437.48 L285.5,437.71 L286,437.95 L286.5,438.18 L287,438.4 L287.5,438.62 L288,438.84 L288.5,439.05 L289,439.27 L289.5,439.47 L290,439.68 L290.5,439.88 L291,440.08 L291.5,440.27 L292,440.45 L292.5,440.64 L293,440.81 L293.5,440.99 L294,441.15 L294.5,441.32 L295,441.48 L295.5,441.63 L296,441.79 L296.5,441.94 L297,442.08 L297.5,442.23 L298,442.37 L298.5,442.51 L299,442.65 L299.5,442.78 L300,442.91 L300.5,443.05 L301,443.18 L301.5,443.31 L302,443.43 L302.5,443.56 L303,443.68 L303.5,443.8 L304,443.92 L304.5,444.03 L305,444.14 L305.5,444.24 L306,444.34 L306.5,444.43 L307,444.52 L307.5,444.61 L308,444.69 L308.5,444.77 L309,444.84 L309.5,444.92 L310,444.99 L310.5,445.07 L311,445.14 L311.5,445.22 L312,445.3 L312.5,445.38 L313,445.46 L313.5,445.53 L314,445.61 L314.5,445.69 L315,445.77 L315.5,445.84 L316,445.92 L316.5,446 L317,446.08 L317.5,446.16 L318,446.25 L318.5,446.34 L319,446.42 L319.5,446.51 L320,446.61 L320.5,446.7 L321,446.79 L321.5,446.89 L322,446.99 L322.5,447.09 L323,447.19 L323.5,447.3 L324,447.41 L324.5,447.52 L325,447.64 L325.5,447.75 L326,447.87 L326.5,448 L327,448.12 L327.5,448.25 L328,448.39 L328.5,448.53 L329,448.67 L329.5,448.82 L330,448.98 L330.5,449.14 L331,449.3 L331.5,449.48 L332,449.68 L332.5,449.9 L333,450.14 L333.5,450.39 L334,450.65 L334.5,450.9 L335,451.16 L335.5,451.41 L336,451.66 L336.5,451.88 L337,452.09 L337.5,452.27 L338,452.44 L338.5,452.6 L339,452.75 L339.5,452.9 L340,453.04 L340.5,453.17 L341,453.3 L341.5,453.43 L342,453.55 L342.5,453.66 L343,453.77 L343.5,453.86 L344,453.96 L344.5,454.05 L345,454.15 L345.5,454.24 L346,454.34 L346.5,454.43 L347,454.51 L347.5,454.59 L348,454.66 L348.5,454.72 L349,454.77 L349.5,454.8 L350,454.82 L350.5,454.82 L351,454.8 L351.5,454.76 L352,454.71 L352.5,454.66 L353,454.59 L353.5,454.52 L354,454.44 L354.5,454.35 L355,454.22 L355.5,454.06 L356,453.88 L356.5,453.69 L357,453.48 L357.5,453.27 L358,453.07 L358.5,452.87 L359,452.69 L359.5,452.52 L360,452.35 L360.5,452.18 L361,452.01 L361.5,451.84 L362,451.68 L362.5,451.52 L363,451.36 L363.5,451.21 L364,451.06 L364.5,450.92 L365,450.78 L365.5,450.64 L366,450.5 L366.5,450.36 L367,450.23 L367.5,450.11 L368,449.99 L368.5,449.89 L369,449.79 L369.5,449.71 L370,449.64 L370.5,449.58 L371,449.52 L371.5,449.46 L372,449.41 L372.5,449.35 L373,449.3 L373.5,449.24 L374,449.17 L374.5,449.09 L375,449.01 L375.5,448.93 L376,448.85 L376.5,448.76 L377,448.67 L377.5,448.57 L378,448.46 L378.5,448.34 L379,448.2 L379.5,448.06 L380,447.87 L380.5,447.66 L381,447.41 L381.5,447.13 L382,446.84 L382.5,446.53 L383,446.21 L383.5,445.89 L384,445.57 L384.5,445.25 L385,444.91 L385.5,444.56 L386,444.19 L386.5,443.81 L387,443.42 L387.5,443.03 L388,442.64 L388.5,442.25 L389,441.86 L389.5,441.48 L390,441.1 L390.5,440.72 L391,440.33 L391.5,439.95 L392,439.56 L392.5,439.18 L393,438.81 L393.5,438.44 L394,438.08 L394.5,437.73 L395,437.4 L395.5,437.07 L396,436.76 L396.5,436.45 L397,436.14 L397.5,435.83 L398,435.53 L398.5,435.23 L399,434.92 L399.5,434.61 L400,434.3 L400.5,433.97 L401,433.64 L401.5,433.32 L402,432.99 L402.5,432.67 L403,432.35 L403.5,432.05 L404,431.75 L404.5,431.48 L405,431.22 L405.5,430.97 L406,430.72 L406.5,430.48 L407,430.25 L407.5,430.02 L408,429.81 L408.5,429.6 L409,429.4 L409.5,429.21 L410,429.03 L410.5,428.87 L411,428.71 L411.5,428.56 L412,428.41 L412.5,428.27 L413,428.13 L413.5,427.99 L414,427.85 L414.5,427.7 L415,427.55 L415.5,427.4 L416,427.26 L416.5,427.11 L417,426.96 L417.5,426.81 L418,426.66 L418.5,426.51 L419,426.36 L419.5,426.21 L420,426.05 L420.5,425.86 L421,425.66 L421.5,425.44 L422,425.23 L422.5,425.02 L423,424.84 L423.5,424.68 L424,424.56 L424.5,424.49 L425,424.48 L425.5,424.48 L426,424.49 L426.5,424.5 L427,424.51 L427.5,424.52 L428,424.54 L428.5,424.55 L429,424.57 L429.5,424.59 L430,424.62 L430.5,424.67 L431,424.75 L431.5,424.87 L432,425.02 L432.5,425.18 L433,425.38 L433.5,425.58 L434,425.81 L434.5,426.04 L435,426.28 L435.5,426.59 L436,426.99 L436.5,427.45 L437,427.95 L437.5,428.46 L438,428.96 L438.5,429.42" stroke="#000" stroke-width="1.4" fill="none" stroke-linejoin="round"/>
<path d="M267.5,357.3V486.9" stroke="#959595" stroke-width="1.1" fill="none"/>
<path d="M267.5,357.3h3M267.5,378.9h3M267.5,400.5h3M267.5,422.1h3M267.5,443.7h3M267.5,465.3h3M267.5,486.9h3" stroke="#7a7a7a" stroke-width="1" fill="none"/>
<path d="M270.5,489.9H438.5" stroke="#959595" stroke-width="1.1" fill="none"/>
<path d="M270.5,489.9v-2.5M304.1,489.9v-2.5M337.7,489.9v-2.5M371.3,489.9v-2.5M404.9,489.9v-2.5M438.5,489.9v-2.5" stroke="#7a7a7a" stroke-width="1" fill="none"/>
<text x="264.9" y="359.5" class="tl" text-anchor="end">50</text>
<text x="264.9" y="381.1" class="tl" text-anchor="end">40</text>
<text x="264.9" y="402.7" class="tl" text-anchor="end">30</text>
<text x="264.9" y="424.3" class="tl" text-anchor="end">20</text>
<text x="264.9" y="445.9" class="tl" text-anchor="end">10</text>
<text x="264.9" y="467.5" class="tl" text-anchor="end">0</text>
<text x="264.9" y="489.1" class="tl" text-anchor="end">-10</text>
<text x="270.5" y="499.5" class="tl" text-anchor="middle">0</text>
<text x="304.1" y="499.5" class="tl" text-anchor="middle">20</text>
<text x="337.7" y="499.5" class="tl" text-anchor="middle">40</text>
<text x="371.3" y="499.5" class="tl" text-anchor="middle">60</text>
<text x="404.9" y="499.5" class="tl" text-anchor="middle">80</text>
<text x="438.5" y="499.5" class="tl" text-anchor="middle">100</text>
<text x="354.5" y="517.7" class="lb" text-anchor="middle">Stride Cycle (%)</text>
<text transform="translate(246.4,445) rotate(-90)" class="yl">Hip (<tspan dx="2.0" dy="-2.2">&#176;</tspan><tspan dx="-0.5" dy="2.2">)</tspan></text>
<path d="M494.7,392.33 L495.2,392.81 L495.7,393.37 L496.2,393.92 L496.7,394.48 L497.2,395.05 L497.7,395.63 L498.2,396.23 L498.7,396.85 L499.2,397.49 L499.7,398.15 L500.2,398.83 L500.7,399.51 L501.2,400.19 L501.7,400.87 L502.2,401.54 L502.7,402.21 L503.2,402.89 L503.7,403.56 L504.2,404.23 L504.7,404.9 L505.2,405.56 L505.7,406.22 L506.2,406.86 L506.7,407.52 L507.2,408.18 L507.7,408.84 L508.2,409.49 L508.7,410.13 L509.2,410.76 L509.7,411.37 L510.2,411.96 L510.7,412.52 L511.2,413.05 L511.7,413.56 L512.2,414.06 L512.7,414.55 L513.2,415.02 L513.7,415.48 L514.2,415.93 L514.7,416.36 L515.2,416.79 L515.7,417.21 L516.2,417.62 L516.7,418.03 L517.2,418.43 L517.7,418.82 L518.2,419.19 L518.7,419.56 L519.2,419.91 L519.7,420.26 L520.2,420.61 L520.7,420.95 L521.2,421.28 L521.7,421.62 L522.2,421.95 L522.7,422.29 L523.2,422.63 L523.7,422.98 L524.2,423.33 L524.7,423.69 L525.2,424.05 L525.7,424.41 L526.2,424.76 L526.7,425.12 L527.2,425.48 L527.7,425.83 L528.2,426.18 L528.7,426.52 L529.2,426.86 L529.7,427.19 L530.2,427.52 L530.7,427.83 L531.2,428.14 L531.7,428.45 L532.2,428.75 L532.7,429.04 L533.2,429.34 L533.7,429.63 L534.2,429.92 L534.7,430.22 L535.2,430.51 L535.7,430.8 L536.2,431.1 L536.7,431.4 L537.2,431.71 L537.7,432.02 L538.2,432.32 L538.7,432.63 L539.2,432.94 L539.7,433.25 L540.2,433.55 L540.7,433.85 L541.2,434.15 L541.7,434.44 L542.2,434.72 L542.7,434.99 L543.2,435.27 L543.7,435.53 L544.2,435.8 L544.7,436.06 L545.2,436.32 L545.7,436.57 L546.2,436.82 L546.7,437.06 L547.2,437.3 L547.7,437.54 L548.2,437.77 L548.7,438 L549.2,438.22 L549.7,438.43 L550.2,438.63 L550.7,438.82 L551.2,439.01 L551.7,439.19 L552.2,439.38 L552.7,439.56 L553.2,439.75 L553.7,439.95 L554.2,440.16 L554.7,440.37 L555.2,440.61 L555.7,440.86 L556.2,441.13 L556.7,441.43 L557.2,441.74 L557.7,442.06 L558.2,442.39 L558.7,442.72 L559.2,443.05 L559.7,443.37 L560.2,443.67 L560.7,443.96 L561.2,444.24 L561.7,444.48 L562.2,444.71 L562.7,444.93 L563.2,445.14 L563.7,445.35 L564.2,445.54 L564.7,445.73 L565.2,445.92 L565.7,446.11 L566.2,446.3 L566.7,446.49 L567.2,446.68 L567.7,446.87 L568.2,447.07 L568.7,447.27 L569.2,447.48 L569.7,447.68 L570.2,447.89 L570.7,448.1 L571.2,448.3 L571.7,448.51 L572.2,448.71 L572.7,448.9 L573.2,449.1 L573.7,449.29 L574.2,449.47 L574.7,449.65 L575.2,449.84 L575.7,450.02 L576.2,450.19 L576.7,450.36 L577.2,450.52 L577.7,450.66 L578.2,450.78 L578.7,450.91 L579.2,451.03 L579.7,451.16 L580.2,451.28 L580.7,451.4 L581.2,451.51 L581.7,451.62 L582.2,451.72 L582.7,451.8 L583.2,451.88 L583.7,451.93 L584.2,451.97 L584.7,452 L585.2,452 L585.7,452 L586.2,452 L586.7,452 L587.2,452 L587.7,452 L588.2,452 L588.7,452 L589.2,452 L589.7,452 L590.2,452 L590.7,452 L591.2,452 L591.7,452 L592.2,452 L592.7,452 L593.2,452 L593.7,452 L594.2,452 L594.7,452 L595.2,452 L595.7,451.97 L596.2,451.91 L596.7,451.83 L597.2,451.71 L597.7,451.58 L598.2,451.42 L598.7,451.24 L599.2,451.05 L599.7,450.83 L600.2,450.6 L600.7,450.36 L601.2,450.11 L601.7,449.84 L602.2,449.57 L602.7,449.3 L603.2,449.02 L603.7,448.73 L604.2,448.45 L604.7,448.17 L605.2,447.89 L605.7,447.58 L606.2,447.24 L606.7,446.87 L607.2,446.48 L607.7,446.06 L608.2,445.63 L608.7,445.18 L609.2,444.72 L609.7,444.24 L610.2,443.76 L610.7,443.27 L611.2,442.78 L611.7,442.29 L612.2,441.8 L612.7,441.3 L613.2,440.77 L613.7,440.23 L614.2,439.67 L614.7,439.11 L615.2,438.54 L615.7,437.97 L616.2,437.4 L616.7,436.83 L617.2,436.28 L617.7,435.73 L618.2,435.19 L618.7,434.65 L619.2,434.11 L619.7,433.56 L620.2,433.01 L620.7,432.45 L621.2,431.88 L621.7,431.3 L622.2,430.7 L622.7,430.09 L623.2,429.46 L623.7,428.82 L624.2,428.17 L624.7,427.49 L625.2,426.8 L625.7,426.09 L626.2,425.36 L626.7,424.6 L627.2,423.83 L627.7,423.04 L628.2,422.22 L628.7,421.37 L629.2,420.47 L629.7,419.54 L630.2,418.54 L630.7,417.46 L631.2,416.29 L631.7,415.09 L632.2,413.86 L632.7,412.63 L633.2,411.43 L633.7,410.28 L634.2,409.15 L634.7,408.01 L635.2,406.88 L635.7,405.77 L636.2,404.69 L636.7,403.64 L637.2,402.64 L637.7,401.69 L638.2,400.77 L638.7,399.88 L639.2,399.01 L639.7,398.18 L640.2,397.38 L640.7,396.62 L641.2,395.91 L641.7,395.23 L642.2,394.56 L642.7,393.93 L643.2,393.32 L643.7,392.74 L644.2,392.21 L644.7,391.73 L645.2,391.29 L645.7,390.88 L646.2,390.48 L646.7,390.1 L647.2,389.76 L647.7,389.45 L648.2,389.18 L648.7,388.95 L649.2,388.77 L649.7,388.58 L650.2,388.4 L650.7,388.24 L651.2,388.08 L651.7,387.95 L652.2,387.83 L652.7,387.74 L653.2,387.67 L653.7,387.64 L654.2,387.66 L654.7,387.73 L655.2,387.85 L655.7,388.02 L656.2,388.22 L656.7,388.44 L657.2,388.68 L657.7,388.92 L658.2,389.18 L658.7,389.48 L659.2,389.83 L659.7,390.23 L660.2,390.67 L660.7,391.18 L661.2,391.74 L661.7,392.41 L662.2,393.4 L662.7,393.96 L662.7,433.9 L662.2,433.57 L661.7,433.23 L661.2,432.89 L660.7,432.55 L660.2,432.21 L659.7,431.89 L659.2,431.58 L658.7,431.28 L658.2,430.98 L657.7,430.68 L657.2,430.38 L656.7,430.08 L656.2,429.8 L655.7,429.54 L655.2,429.29 L654.7,429.08 L654.2,428.89 L653.7,428.74 L653.2,428.6 L652.7,428.46 L652.2,428.33 L651.7,428.2 L651.2,428.08 L650.7,427.97 L650.2,427.87 L649.7,427.78 L649.2,427.71 L648.7,427.65 L648.2,427.62 L647.7,427.6 L647.2,427.62 L646.7,427.69 L646.2,427.8 L645.7,427.96 L645.2,428.15 L644.7,428.36 L644.2,428.6 L643.7,428.85 L643.2,429.23 L642.7,429.76 L642.2,430.4 L641.7,431.13 L641.2,431.93 L640.7,432.75 L640.2,433.58 L639.7,434.39 L639.2,435.27 L638.7,436.2 L638.2,437.18 L637.7,438.2 L637.2,439.27 L636.7,440.37 L636.2,441.5 L635.7,442.69 L635.2,443.95 L634.7,445.28 L634.2,446.65 L633.7,448.03 L633.2,449.42 L632.7,450.79 L632.2,452.13 L631.7,453.47 L631.2,454.81 L630.7,456.15 L630.2,457.49 L629.7,458.82 L629.2,460.14 L628.7,461.44 L628.2,462.76 L627.7,464.14 L627.2,465.5 L626.7,466.75 L626.2,467.82 L625.7,468.69 L625.2,469.47 L624.7,470.19 L624.2,470.86 L623.7,471.48 L623.2,472.07 L622.7,472.64 L622.2,473.21 L621.7,473.79 L621.2,474.36 L620.7,474.91 L620.2,475.43 L619.7,475.93 L619.2,476.37 L618.7,476.76 L618.2,477.1 L617.7,477.45 L617.2,477.79 L616.7,478.11 L616.2,478.38 L615.7,478.6 L615.2,478.75 L614.7,478.8 L614.2,478.78 L613.7,478.74 L613.2,478.67 L612.7,478.58 L612.2,478.48 L611.7,478.37 L611.2,478.27 L610.7,478.17 L610.2,478.08 L609.7,478.01 L609.2,477.96 L608.7,477.9 L608.2,477.85 L607.7,477.79 L607.2,477.74 L606.7,477.69 L606.2,477.64 L605.7,477.6 L605.2,477.57 L604.7,477.54 L604.2,477.52 L603.7,477.5 L603.2,477.5 L602.7,477.5 L602.2,477.5 L601.7,477.5 L601.2,477.5 L600.7,477.5 L600.2,477.5 L599.7,477.5 L599.2,477.5 L598.7,477.5 L598.2,477.5 L597.7,477.5 L597.2,477.5 L596.7,477.5 L596.2,477.5 L595.7,477.5 L595.2,477.5 L594.7,477.5 L594.2,477.5 L593.7,477.5 L593.2,477.5 L592.7,477.5 L592.2,477.5 L591.7,477.5 L591.2,477.5 L590.7,477.5 L590.2,477.5 L589.7,477.5 L589.2,477.5 L588.7,477.5 L588.2,477.5 L587.7,477.5 L587.2,477.49 L586.7,477.48 L586.2,477.47 L585.7,477.45 L585.2,477.43 L584.7,477.4 L584.2,477.38 L583.7,477.34 L583.2,477.31 L582.7,477.27 L582.2,477.24 L581.7,477.2 L581.2,477.16 L580.7,477.12 L580.2,477.07 L579.7,477.03 L579.2,476.99 L578.7,476.95 L578.2,476.9 L577.7,476.86 L577.2,476.82 L576.7,476.77 L576.2,476.72 L575.7,476.67 L575.2,476.61 L574.7,476.56 L574.2,476.5 L573.7,476.44 L573.2,476.38 L572.7,476.31 L572.2,476.25 L571.7,476.18 L571.2,476.11 L570.7,476.04 L570.2,475.97 L569.7,475.89 L569.2,475.82 L568.7,475.75 L568.2,475.67 L567.7,475.59 L567.2,475.52 L566.7,475.44 L566.2,475.35 L565.7,475.27 L565.2,475.18 L564.7,475.09 L564.2,475 L563.7,474.91 L563.2,474.82 L562.7,474.72 L562.2,474.62 L561.7,474.53 L561.2,474.42 L560.7,474.32 L560.2,474.22 L559.7,474.11 L559.2,474 L558.7,473.89 L558.2,473.78 L557.7,473.67 L557.2,473.56 L556.7,473.44 L556.2,473.32 L555.7,473.21 L555.2,473.09 L554.7,472.97 L554.2,472.84 L553.7,472.72 L553.2,472.6 L552.7,472.47 L552.2,472.34 L551.7,472.22 L551.2,472.08 L550.7,471.95 L550.2,471.81 L549.7,471.68 L549.2,471.53 L548.7,471.39 L548.2,471.24 L547.7,471.09 L547.2,470.93 L546.7,470.78 L546.2,470.61 L545.7,470.45 L545.2,470.28 L544.7,470.1 L544.2,469.92 L543.7,469.73 L543.2,469.54 L542.7,469.35 L542.2,469.14 L541.7,468.92 L541.2,468.69 L540.7,468.44 L540.2,468.18 L539.7,467.91 L539.2,467.63 L538.7,467.34 L538.2,467.04 L537.7,466.74 L537.2,466.43 L536.7,466.11 L536.2,465.78 L535.7,465.46 L535.2,465.13 L534.7,464.79 L534.2,464.46 L533.7,464.13 L533.2,463.8 L532.7,463.47 L532.2,463.14 L531.7,462.81 L531.2,462.49 L530.7,462.18 L530.2,461.87 L529.7,461.57 L529.2,461.27 L528.7,460.96 L528.2,460.65 L527.7,460.33 L527.2,460.02 L526.7,459.7 L526.2,459.38 L525.7,459.06 L525.2,458.74 L524.7,458.42 L524.2,458.1 L523.7,457.79 L523.2,457.47 L522.7,457.16 L522.2,456.85 L521.7,456.55 L521.2,456.25 L520.7,455.96 L520.2,455.67 L519.7,455.39 L519.2,455.11 L518.7,454.84 L518.2,454.58 L517.7,454.33 L517.2,454.09 L516.7,453.85 L516.2,453.62 L515.7,453.4 L515.2,453.18 L514.7,452.96 L514.2,452.75 L513.7,452.54 L513.2,452.34 L512.7,452.14 L512.2,451.94 L511.7,451.75 L511.2,451.55 L510.7,451.36 L510.2,451.17 L509.7,450.98 L509.2,450.8 L508.7,450.61 L508.2,450.42 L507.7,450.24 L507.2,450.05 L506.7,449.86 L506.2,449.67 L505.7,449.48 L505.2,449.29 L504.7,449.1 L504.2,448.9 L503.7,448.71 L503.2,448.51 L502.7,448.32 L502.2,448.12 L501.7,447.93 L501.2,447.74 L500.7,447.55 L500.2,447.36 L499.7,447.16 L499.2,446.97 L498.7,446.78 L498.2,446.59 L497.7,446.4 L497.2,446.21 L496.7,446.02 L496.2,445.83 L495.7,445.64 L495.2,445.44 L494.7,445.28Z" fill="#b0b0b0"/>
<path d="M494.7,425.2 L495.2,425.6 L495.7,426.08 L496.2,426.56 L496.7,427.04 L497.2,427.52 L497.7,428 L498.2,428.49 L498.7,428.99 L499.2,429.49 L499.7,430.01 L500.2,430.52 L500.7,431.03 L501.2,431.53 L501.7,432.02 L502.2,432.48 L502.7,432.93 L503.2,433.37 L503.7,433.81 L504.2,434.23 L504.7,434.64 L505.2,435.03 L505.7,435.41 L506.2,435.78 L506.7,436.14 L507.2,436.52 L507.7,436.88 L508.2,437.24 L508.7,437.58 L509.2,437.9 L509.7,438.18 L510.2,438.43 L510.7,438.64 L511.2,438.79 L511.7,438.93 L512.2,439.05 L512.7,439.16 L513.2,439.26 L513.7,439.35 L514.2,439.43 L514.7,439.51 L515.2,439.59 L515.7,439.67 L516.2,439.76 L516.7,439.85 L517.2,439.95 L517.7,440.06 L518.2,440.18 L518.7,440.3 L519.2,440.43 L519.7,440.56 L520.2,440.69 L520.7,440.81 L521.2,440.94 L521.7,441.07 L522.2,441.19 L522.7,441.3 L523.2,441.41 L523.7,441.51 L524.2,441.6 L524.7,441.69 L525.2,441.78 L525.7,441.86 L526.2,441.94 L526.7,442.02 L527.2,442.09 L527.7,442.17 L528.2,442.24 L528.7,442.32 L529.2,442.39 L529.7,442.47 L530.2,442.54 L530.7,442.61 L531.2,442.69 L531.7,442.76 L532.2,442.83 L532.7,442.9 L533.2,442.97 L533.7,443.03 L534.2,443.1 L534.7,443.17 L535.2,443.24 L535.7,443.31 L536.2,443.38 L536.7,443.45 L537.2,443.52 L537.7,443.59 L538.2,443.66 L538.7,443.73 L539.2,443.81 L539.7,443.88 L540.2,443.95 L540.7,444.02 L541.2,444.09 L541.7,444.15 L542.2,444.22 L542.7,444.29 L543.2,444.35 L543.7,444.41 L544.2,444.46 L544.7,444.51 L545.2,444.57 L545.7,444.62 L546.2,444.68 L546.7,444.73 L547.2,444.79 L547.7,444.85 L548.2,444.92 L548.7,445 L549.2,445.08 L549.7,445.16 L550.2,445.26 L550.7,445.36 L551.2,445.46 L551.7,445.57 L552.2,445.69 L552.7,445.81 L553.2,445.94 L553.7,446.08 L554.2,446.23 L554.7,446.38 L555.2,446.54 L555.7,446.72 L556.2,446.93 L556.7,447.18 L557.2,447.46 L557.7,447.74 L558.2,448.04 L558.7,448.34 L559.2,448.63 L559.7,448.91 L560.2,449.17 L560.7,449.4 L561.2,449.59 L561.7,449.75 L562.2,449.89 L562.7,450.04 L563.2,450.18 L563.7,450.31 L564.2,450.44 L564.7,450.56 L565.2,450.67 L565.7,450.76 L566.2,450.84 L566.7,450.91 L567.2,450.95 L567.7,450.97 L568.2,450.97 L568.7,450.97 L569.2,450.97 L569.7,450.97 L570.2,450.97 L570.7,450.97 L571.2,450.97 L571.7,450.97 L572.2,450.97 L572.7,450.97 L573.2,450.97 L573.7,450.97 L574.2,450.97 L574.7,450.94 L575.2,450.86 L575.7,450.75 L576.2,450.63 L576.7,450.51 L577.2,450.41 L577.7,450.35 L578.2,450.34 L578.7,450.34 L579.2,450.34 L579.7,450.34 L580.2,450.34 L580.7,450.34 L581.2,450.34 L581.7,450.34 L582.2,450.34 L582.7,450.34 L583.2,450.34 L583.7,450.34 L584.2,450.34 L584.7,450.33 L585.2,450.31 L585.7,450.27 L586.2,450.21 L586.7,450.14 L587.2,450.06 L587.7,449.97 L588.2,449.87 L588.7,449.76 L589.2,449.65 L589.7,449.54 L590.2,449.43 L590.7,449.32 L591.2,449.2 L591.7,449.06 L592.2,448.92 L592.7,448.76 L593.2,448.59 L593.7,448.41 L594.2,448.23 L594.7,448.04 L595.2,447.85 L595.7,447.66 L596.2,447.47 L596.7,447.28 L597.2,447.1 L597.7,446.91 L598.2,446.73 L598.7,446.55 L599.2,446.37 L599.7,446.19 L600.2,446 L600.7,445.81 L601.2,445.61 L601.7,445.4 L602.2,445.18 L602.7,444.94 L603.2,444.7 L603.7,444.44 L604.2,444.15 L604.7,443.84 L605.2,443.51 L605.7,443.17 L606.2,442.81 L606.7,442.45 L607.2,442.07 L607.7,441.69 L608.2,441.31 L608.7,440.92 L609.2,440.54 L609.7,440.16 L610.2,439.78 L610.7,439.38 L611.2,438.97 L611.7,438.55 L612.2,438.12 L612.7,437.7 L613.2,437.27 L613.7,436.86 L614.2,436.45 L614.7,436.06 L615.2,435.69 L615.7,435.33 L616.2,435 L616.7,434.68 L617.2,434.36 L617.7,434.05 L618.2,433.74 L618.7,433.45 L619.2,433.16 L619.7,432.88 L620.2,432.61 L620.7,432.36 L621.2,432.11 L621.7,431.88 L622.2,431.66 L622.7,431.45 L623.2,431.27 L623.7,431.09 L624.2,430.93 L624.7,430.78 L625.2,430.63 L625.7,430.48 L626.2,430.33 L626.7,430.18 L627.2,430.01 L627.7,429.84 L628.2,429.64 L628.7,429.43 L629.2,429.19 L629.7,428.93 L630.2,428.65 L630.7,428.34 L631.2,428.03 L631.7,427.71 L632.2,427.38 L632.7,427.05 L633.2,426.72 L633.7,426.4 L634.2,426.1 L634.7,425.81 L635.2,425.53 L635.7,425.24 L636.2,424.94 L636.7,424.63 L637.2,424.33 L637.7,424.03 L638.2,423.74 L638.7,423.46 L639.2,423.21 L639.7,422.99 L640.2,422.8 L640.7,422.64 L641.2,422.53 L641.7,422.45 L642.2,422.37 L642.7,422.3 L643.2,422.23 L643.7,422.16 L644.2,422.1 L644.7,422.05 L645.2,422 L645.7,421.96 L646.2,421.93 L646.7,421.91 L647.2,421.9 L647.7,421.9 L648.2,421.92 L648.7,421.96 L649.2,422.02 L649.7,422.09 L650.2,422.19 L650.7,422.29 L651.2,422.41 L651.7,422.54 L652.2,422.68 L652.7,422.82 L653.2,422.96 L653.7,423.11 L654.2,423.26 L654.7,423.43 L655.2,423.63 L655.7,423.85 L656.2,424.09 L656.7,424.35 L657.2,424.62 L657.7,424.91 L658.2,425.22 L658.7,425.53 L659.2,425.87 L659.7,426.25 L660.2,426.69 L660.7,427.15 L661.2,427.63 L661.7,428.12 L662.2,428.59 L662.7,428.85 L662.7,455.4 L662.2,455.24 L661.7,454.97 L661.2,454.68 L660.7,454.4 L660.2,454.13 L659.7,453.86 L659.2,453.62 L658.7,453.39 L658.2,453.16 L657.7,452.94 L657.2,452.71 L656.7,452.49 L656.2,452.29 L655.7,452.1 L655.2,451.93 L654.7,451.78 L654.2,451.66 L653.7,451.57 L653.2,451.5 L652.7,451.42 L652.2,451.35 L651.7,451.28 L651.2,451.22 L650.7,451.16 L650.2,451.11 L649.7,451.06 L649.2,451.03 L648.7,451 L648.2,450.98 L647.7,450.97 L647.2,450.97 L646.7,450.99 L646.2,451.01 L645.7,451.04 L645.2,451.08 L644.7,451.12 L644.2,451.17 L643.7,451.23 L643.2,451.3 L642.7,451.37 L642.2,451.45 L641.7,451.53 L641.2,451.61 L640.7,451.73 L640.2,451.89 L639.7,452.09 L639.2,452.33 L638.7,452.6 L638.2,452.89 L637.7,453.19 L637.2,453.5 L636.7,453.81 L636.2,454.12 L635.7,454.43 L635.2,454.75 L634.7,455.1 L634.2,455.45 L633.7,455.83 L633.2,456.21 L632.7,456.61 L632.2,457.01 L631.7,457.43 L631.2,457.85 L630.7,458.29 L630.2,458.75 L629.7,459.24 L629.2,459.74 L628.7,460.25 L628.2,460.77 L627.7,461.29 L627.2,461.81 L626.7,462.33 L626.2,462.84 L625.7,463.34 L625.2,463.86 L624.7,464.38 L624.2,464.9 L623.7,465.42 L623.2,465.94 L622.7,466.45 L622.2,466.94 L621.7,467.41 L621.2,467.86 L620.7,468.29 L620.2,468.72 L619.7,469.14 L619.2,469.56 L618.7,469.96 L618.2,470.35 L617.7,470.72 L617.2,471.07 L616.7,471.39 L616.2,471.69 L615.7,471.96 L615.2,472.21 L614.7,472.45 L614.2,472.69 L613.7,472.91 L613.2,473.13 L612.7,473.33 L612.2,473.53 L611.7,473.71 L611.2,473.88 L610.7,474.04 L610.2,474.2 L609.7,474.34 L609.2,474.47 L608.7,474.59 L608.2,474.7 L607.7,474.8 L607.2,474.9 L606.7,475 L606.2,475.09 L605.7,475.18 L605.2,475.27 L604.7,475.36 L604.2,475.45 L603.7,475.54 L603.2,475.64 L602.7,475.74 L602.2,475.84 L601.7,475.94 L601.2,476.03 L600.7,476.13 L600.2,476.23 L599.7,476.33 L599.2,476.42 L598.7,476.52 L598.2,476.63 L597.7,476.73 L597.2,476.84 L596.7,476.95 L596.2,477.07 L595.7,477.19 L595.2,477.32 L594.7,477.45 L594.2,477.59 L593.7,477.72 L593.2,477.85 L592.7,477.98 L592.2,478.1 L591.7,478.21 L591.2,478.31 L590.7,478.4 L590.2,478.48 L589.7,478.56 L589.2,478.64 L588.7,478.72 L588.2,478.8 L587.7,478.88 L587.2,478.95 L586.7,479.01 L586.2,479.06 L585.7,479.11 L585.2,479.14 L584.7,479.16 L584.2,479.16 L583.7,479.15 L583.2,479.11 L582.7,479.07 L582.2,479 L581.7,478.93 L581.2,478.84 L580.7,478.74 L580.2,478.64 L579.7,478.53 L579.2,478.42 L578.7,478.31 L578.2,478.2 L577.7,478.08 L577.2,477.92 L576.7,477.73 L576.2,477.53 L575.7,477.33 L575.2,477.15 L574.7,476.99 L574.2,476.89 L573.7,476.81 L573.2,476.74 L572.7,476.68 L572.2,476.63 L571.7,476.58 L571.2,476.54 L570.7,476.49 L570.2,476.45 L569.7,476.41 L569.2,476.37 L568.7,476.33 L568.2,476.29 L567.7,476.24 L567.2,476.19 L566.7,476.14 L566.2,476.09 L565.7,476.05 L565.2,476 L564.7,475.95 L564.2,475.91 L563.7,475.86 L563.2,475.81 L562.7,475.75 L562.2,475.7 L561.7,475.64 L561.2,475.58 L560.7,475.51 L560.2,475.44 L559.7,475.37 L559.2,475.3 L558.7,475.22 L558.2,475.14 L557.7,475.06 L557.2,474.97 L556.7,474.88 L556.2,474.79 L555.7,474.7 L555.2,474.6 L554.7,474.51 L554.2,474.41 L553.7,474.3 L553.2,474.19 L552.7,474.08 L552.2,473.97 L551.7,473.85 L551.2,473.72 L550.7,473.6 L550.2,473.46 L549.7,473.32 L549.2,473.18 L548.7,473.03 L548.2,472.87 L547.7,472.7 L547.2,472.52 L546.7,472.33 L546.2,472.13 L545.7,471.92 L545.2,471.71 L544.7,471.5 L544.2,471.28 L543.7,471.06 L543.2,470.84 L542.7,470.62 L542.2,470.39 L541.7,470.14 L541.2,469.87 L540.7,469.59 L540.2,469.3 L539.7,469.02 L539.2,468.73 L538.7,468.46 L538.2,468.2 L537.7,467.95 L537.2,467.73 L536.7,467.54 L536.2,467.39 L535.7,467.25 L535.2,467.11 L534.7,466.99 L534.2,466.86 L533.7,466.75 L533.2,466.64 L532.7,466.54 L532.2,466.45 L531.7,466.36 L531.2,466.29 L530.7,466.22 L530.2,466.17 L529.7,466.12 L529.2,466.08 L528.7,466.05 L528.2,466.02 L527.7,465.99 L527.2,465.96 L526.7,465.94 L526.2,465.92 L525.7,465.89 L525.2,465.87 L524.7,465.84 L524.2,465.81 L523.7,465.77 L523.2,465.73 L522.7,465.68 L522.2,465.62 L521.7,465.57 L521.2,465.5 L520.7,465.44 L520.2,465.37 L519.7,465.29 L519.2,465.21 L518.7,465.13 L518.2,465.04 L517.7,464.95 L517.2,464.86 L516.7,464.75 L516.2,464.63 L515.7,464.49 L515.2,464.34 L514.7,464.18 L514.2,464.02 L513.7,463.85 L513.2,463.68 L512.7,463.51 L512.2,463.35 L511.7,463.19 L511.2,463.04 L510.7,462.91 L510.2,462.77 L509.7,462.64 L509.2,462.5 L508.7,462.37 L508.2,462.24 L507.7,462.12 L507.2,462 L506.7,461.88 L506.2,461.78 L505.7,461.68 L505.2,461.59 L504.7,461.5 L504.2,461.43 L503.7,461.35 L503.2,461.27 L502.7,461.19 L502.2,461.1 L501.7,461 L501.2,460.91 L500.7,460.81 L500.2,460.71 L499.7,460.6 L499.2,460.47 L498.7,460.32 L498.2,460.15 L497.7,459.93 L497.2,459.63 L496.7,459.3 L496.2,458.94 L495.7,458.57 L495.2,458.21 L494.7,457.92Z" fill="#000" fill-opacity="0.2"/>
<path d="M495.8,426.18V458.64M498.3,428.59V460.19M500.8,431.13V460.83M503.3,433.46V461.29M505.8,435.49V461.7M508.3,437.31V462.27M510.8,438.67V462.93M513.3,439.28V463.71M515.8,439.69V464.52M518.3,440.2V465.06M520.8,440.84V465.45M523.3,441.43V465.73M525.8,441.87V465.9M528.3,442.26V466.02M530.8,442.63V466.24M533.3,442.98V466.66M535.8,443.32V467.28M538.3,443.68V468.25M540.8,444.03V469.65M543.3,444.36V470.88M545.8,444.63V471.96M548.3,444.94V472.9M550.8,445.38V473.62M553.3,445.97V474.22M555.8,446.76V474.72M558.3,448.1V475.16M560.8,449.44V475.53M563.3,450.2V475.82M565.8,450.78V476.06M568.3,450.97V476.29M570.8,450.97V476.5M573.3,450.97V476.76M575.8,450.73V477.37M578.3,450.34V478.22M580.8,450.34V478.76M583.3,450.34V479.12M585.8,450.26V479.1M588.3,449.84V478.79M590.8,449.29V478.38M593.3,448.55V477.82M595.8,447.62V477.16M598.3,446.7V476.61M600.8,445.77V476.11M603.3,444.65V475.62M605.8,443.1V475.16M608.3,441.23V474.68M610.8,439.3V474.01M613.3,437.19V473.09M615.8,435.26V471.9M618.3,433.68V470.27M620.8,432.31V468.21M623.3,431.23V465.84M625.8,430.45V463.24M628.3,429.6V460.66M630.8,428.28V458.2M633.3,426.66V456.13M635.8,425.18V454.36M638.3,423.68V452.83M640.8,422.62V451.7M643.3,422.21V451.29M645.8,421.96V451.03M648.3,421.92V450.98M650.8,422.32V451.17M653.3,422.99V451.51M655.8,423.9V452.13M658.3,425.28V453.21M660.8,427.25V454.46" stroke="#333333" stroke-width="1" fill="none"/>
<line x1="494.7" y1="465.5" x2="662.7" y2="465.5" stroke="#000" stroke-opacity="0.55" stroke-width="1"/>
<path d="M494.7,441.49 L495.2,441.87 L495.7,442.35 L496.2,442.84 L496.7,443.32 L497.2,443.78 L497.7,444.2 L498.2,444.57 L498.7,444.88 L499.2,445.17 L499.7,445.44 L500.2,445.68 L500.7,445.92 L501.2,446.14 L501.7,446.36 L502.2,446.58 L502.7,446.8 L503.2,447.01 L503.7,447.22 L504.2,447.42 L504.7,447.61 L505.2,447.8 L505.7,447.99 L506.2,448.17 L506.7,448.34 L507.2,448.52 L507.7,448.69 L508.2,448.85 L508.7,449.01 L509.2,449.17 L509.7,449.33 L510.2,449.48 L510.7,449.63 L511.2,449.77 L511.7,449.91 L512.2,450.05 L512.7,450.18 L513.2,450.31 L513.7,450.44 L514.2,450.56 L514.7,450.69 L515.2,450.81 L515.7,450.94 L516.2,451.06 L516.7,451.19 L517.2,451.33 L517.7,451.46 L518.2,451.6 L518.7,451.75 L519.2,451.89 L519.7,452.04 L520.2,452.19 L520.7,452.34 L521.2,452.48 L521.7,452.62 L522.2,452.76 L522.7,452.89 L523.2,453.02 L523.7,453.14 L524.2,453.25 L524.7,453.37 L525.2,453.47 L525.7,453.58 L526.2,453.68 L526.7,453.78 L527.2,453.88 L527.7,453.97 L528.2,454.07 L528.7,454.16 L529.2,454.25 L529.7,454.34 L530.2,454.43 L530.7,454.51 L531.2,454.59 L531.7,454.67 L532.2,454.74 L532.7,454.81 L533.2,454.88 L533.7,454.95 L534.2,455.03 L534.7,455.11 L535.2,455.19 L535.7,455.28 L536.2,455.38 L536.7,455.49 L537.2,455.62 L537.7,455.76 L538.2,455.92 L538.7,456.08 L539.2,456.24 L539.7,456.41 L540.2,456.58 L540.7,456.75 L541.2,456.91 L541.7,457.06 L542.2,457.19 L542.7,457.32 L543.2,457.43 L543.7,457.54 L544.2,457.64 L544.7,457.73 L545.2,457.83 L545.7,457.92 L546.2,458.01 L546.7,458.1 L547.2,458.19 L547.7,458.29 L548.2,458.39 L548.7,458.51 L549.2,458.63 L549.7,458.75 L550.2,458.88 L550.7,459.01 L551.2,459.15 L551.7,459.29 L552.2,459.43 L552.7,459.58 L553.2,459.74 L553.7,459.91 L554.2,460.08 L554.7,460.25 L555.2,460.44 L555.7,460.66 L556.2,460.92 L556.7,461.23 L557.2,461.55 L557.7,461.87 L558.2,462.18 L558.7,462.47 L559.2,462.7 L559.7,462.88 L560.2,462.97 L560.7,463.01 L561.2,463.04 L561.7,463.07 L562.2,463.09 L562.7,463.12 L563.2,463.14 L563.7,463.16 L564.2,463.17 L564.7,463.19 L565.2,463.2 L565.7,463.21 L566.2,463.22 L566.7,463.23 L567.2,463.23 L567.7,463.23 L568.2,463.23 L568.7,463.23 L569.2,463.23 L569.7,463.23 L570.2,463.23 L570.7,463.23 L571.2,463.23 L571.7,463.23 L572.2,463.23 L572.7,463.23 L573.2,463.23 L573.7,463.23 L574.2,463.23 L574.7,463.29 L575.2,463.43 L575.7,463.63 L576.2,463.86 L576.7,464.09 L577.2,464.3 L577.7,464.45 L578.2,464.52 L578.7,464.57 L579.2,464.62 L579.7,464.66 L580.2,464.7 L580.7,464.74 L581.2,464.78 L581.7,464.8 L582.2,464.83 L582.7,464.85 L583.2,464.86 L583.7,464.87 L584.2,464.88 L584.7,464.87 L585.2,464.86 L585.7,464.84 L586.2,464.81 L586.7,464.77 L587.2,464.72 L587.7,464.66 L588.2,464.6 L588.7,464.54 L589.2,464.47 L589.7,464.39 L590.2,464.32 L590.7,464.24 L591.2,464.14 L591.7,464.01 L592.2,463.85 L592.7,463.67 L593.2,463.47 L593.7,463.25 L594.2,463.03 L594.7,462.79 L595.2,462.55 L595.7,462.31 L596.2,462.07 L596.7,461.84 L597.2,461.61 L597.7,461.38 L598.2,461.14 L598.7,460.9 L599.2,460.64 L599.7,460.39 L600.2,460.13 L600.7,459.87 L601.2,459.61 L601.7,459.35 L602.2,459.1 L602.7,458.85 L603.2,458.6 L603.7,458.36 L604.2,458.13 L604.7,457.9 L605.2,457.68 L605.7,457.45 L606.2,457.23 L606.7,457.01 L607.2,456.78 L607.7,456.56 L608.2,456.33 L608.7,456.09 L609.2,455.85 L609.7,455.61 L610.2,455.36 L610.7,455.1 L611.2,454.84 L611.7,454.58 L612.2,454.31 L612.7,454.04 L613.2,453.77 L613.7,453.49 L614.2,453.22 L614.7,452.94 L615.2,452.66 L615.7,452.37 L616.2,452.09 L616.7,451.8 L617.2,451.51 L617.7,451.21 L618.2,450.91 L618.7,450.61 L619.2,450.31 L619.7,450 L620.2,449.7 L620.7,449.39 L621.2,449.09 L621.7,448.78 L622.2,448.48 L622.7,448.18 L623.2,447.89 L623.7,447.59 L624.2,447.3 L624.7,447.01 L625.2,446.72 L625.7,446.42 L626.2,446.13 L626.7,445.83 L627.2,445.52 L627.7,445.21 L628.2,444.9 L628.7,444.58 L629.2,444.24 L629.7,443.89 L630.2,443.54 L630.7,443.17 L631.2,442.8 L631.7,442.43 L632.2,442.06 L632.7,441.69 L633.2,441.34 L633.7,440.99 L634.2,440.66 L634.7,440.35 L635.2,440.06 L635.7,439.76 L636.2,439.46 L636.7,439.15 L637.2,438.86 L637.7,438.57 L638.2,438.29 L638.7,438.03 L639.2,437.78 L639.7,437.56 L640.2,437.37 L640.7,437.2 L641.2,437.07 L641.7,436.97 L642.2,436.86 L642.7,436.76 L643.2,436.66 L643.7,436.57 L644.2,436.48 L644.7,436.41 L645.2,436.34 L645.7,436.28 L646.2,436.24 L646.7,436.2 L647.2,436.19 L647.7,436.18 L648.2,436.19 L648.7,436.2 L649.2,436.22 L649.7,436.25 L650.2,436.28 L650.7,436.32 L651.2,436.36 L651.7,436.41 L652.2,436.47 L652.7,436.53 L653.2,436.59 L653.7,436.66 L654.2,436.75 L654.7,436.89 L655.2,437.1 L655.7,437.35 L656.2,437.65 L656.7,437.98 L657.2,438.32 L657.7,438.69 L658.2,439.06 L658.7,439.42 L659.2,439.78 L659.7,440.19 L660.2,440.62 L660.7,441.08 L661.2,441.56 L661.7,442.03 L662.2,442.5 L662.7,442.75" stroke="#000" stroke-width="1.4" fill="none" stroke-linejoin="round"/>
<path d="M491.7,357.3V486.9" stroke="#959595" stroke-width="1.1" fill="none"/>
<path d="M491.7,357.3h3M491.7,378.9h3M491.7,400.5h3M491.7,422.1h3M491.7,443.7h3M491.7,465.3h3M491.7,486.9h3" stroke="#7a7a7a" stroke-width="1" fill="none"/>
<path d="M494.7,489.9H662.7" stroke="#959595" stroke-width="1.1" fill="none"/>
<path d="M494.7,489.9v-2.5M528.3,489.9v-2.5M561.9,489.9v-2.5M595.5,489.9v-2.5M629.1,489.9v-2.5M662.7,489.9v-2.5" stroke="#7a7a7a" stroke-width="1" fill="none"/>
<text x="489.1" y="359.5" class="tl" text-anchor="end">50</text>
<text x="489.1" y="381.1" class="tl" text-anchor="end">40</text>
<text x="489.1" y="402.7" class="tl" text-anchor="end">30</text>
<text x="489.1" y="424.3" class="tl" text-anchor="end">20</text>
<text x="489.1" y="445.9" class="tl" text-anchor="end">10</text>
<text x="489.1" y="467.5" class="tl" text-anchor="end">0</text>
<text x="489.1" y="489.1" class="tl" text-anchor="end">-10</text>
<text x="494.7" y="499.5" class="tl" text-anchor="middle">0</text>
<text x="528.3" y="499.5" class="tl" text-anchor="middle">20</text>
<text x="561.9" y="499.5" class="tl" text-anchor="middle">40</text>
<text x="595.5" y="499.5" class="tl" text-anchor="middle">60</text>
<text x="629.1" y="499.5" class="tl" text-anchor="middle">80</text>
<text x="662.7" y="499.5" class="tl" text-anchor="middle">100</text>
<text x="578.7" y="517.7" class="lb" text-anchor="middle">Stride Cycle (%)</text>
<text transform="translate(470.6,445) rotate(-90)" class="yl">Hip (<tspan dx="2.0" dy="-2.2">&#176;</tspan><tspan dx="-0.5" dy="2.2">)</tspan></text>
<text x="92.1" y="30.8" class="lb">A) No Harness</text>
<text x="323.0" y="32.5" class="lb">B) 0% BWS</text>
<text x="553.0" y="32.5" class="lb">C) 30% BWS</text>
<rect x="57" y="131.9" width="15.2" height="11.3" fill="#b0b0b0"/>
<text x="83.2" y="139.0" class="lb">Nonparetic</text>
<line x1="55.1" y1="151.4" x2="77.4" y2="151.4" stroke="#000" stroke-width="1.3"/>
<text x="85.0" y="154.9" class="lb">Paretic</text>
</svg></body></html>
